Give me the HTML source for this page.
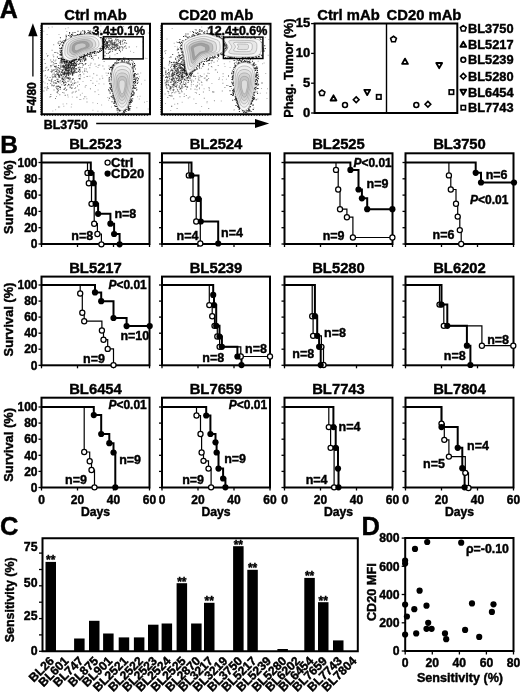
<!DOCTYPE html>
<html><head><meta charset="utf-8"><style>
html,body{margin:0;padding:0;background:#fff;}
svg{display:block;filter:blur(0.35px);}
text{font-family:"Liberation Sans", sans-serif;fill:#000;stroke:#000;stroke-width:0.42px;}
</style></head><body>
<svg width="520" height="692" viewBox="0 0 520 692">
<rect width="520" height="692" fill="#fff"/>
<text x="-0.30" y="17.90" font-size="25" text-anchor="start" font-weight="bold" >A</text>
<text x="0.20" y="152.70" font-size="24.5" text-anchor="start" font-weight="bold" >B</text>
<text x="0.00" y="535.20" font-size="25.5" text-anchor="start" font-weight="bold" >C</text>
<text x="361.50" y="535.20" font-size="25.5" text-anchor="start" font-weight="bold" >D</text>
<text x="95.50" y="148.80" font-size="14.8" text-anchor="middle" font-weight="bold" >BL2523</text>
<rect x="41.5" y="153.3" width="108.0" height="90.7" fill="none" stroke="#000" stroke-width="2.0"/>
<line x1="38.5" y1="244.0" x2="41.5" y2="244.0" stroke="#000" stroke-width="1.3"/>
<line x1="38.5" y1="227.7" x2="41.5" y2="227.7" stroke="#000" stroke-width="1.3"/>
<line x1="38.5" y1="211.4" x2="41.5" y2="211.4" stroke="#000" stroke-width="1.3"/>
<line x1="38.5" y1="195.1" x2="41.5" y2="195.1" stroke="#000" stroke-width="1.3"/>
<line x1="38.5" y1="178.8" x2="41.5" y2="178.8" stroke="#000" stroke-width="1.3"/>
<line x1="38.5" y1="162.5" x2="41.5" y2="162.5" stroke="#000" stroke-width="1.3"/>
<line x1="41.5" y1="244.0" x2="41.5" y2="247.0" stroke="#000" stroke-width="1.3"/>
<line x1="77.5" y1="244.0" x2="77.5" y2="247.0" stroke="#000" stroke-width="1.3"/>
<line x1="113.5" y1="244.0" x2="113.5" y2="247.0" stroke="#000" stroke-width="1.3"/>
<line x1="149.5" y1="244.0" x2="149.5" y2="247.0" stroke="#000" stroke-width="1.3"/>
<path d="M41.5,162.5 H87.5 V172.9 H88.8 V183.2 H91.5 V203.8 H94.2 V223.7 H97.4 V234.0 H101.4 V244.3" fill="none" stroke="#000" stroke-width="1.2"/>
<path d="M41.5,162.5 H90.8 V172.9 H93.6 V183.2 H95.6 V203.8 H98.1 V213.8 H110.4 V223.7 H114.1 V234.0 H119.6 V244.3" fill="none" stroke="#000" stroke-width="2.0"/>
<circle cx="87.5" cy="172.9" r="2.55" fill="#fff" stroke="#000" stroke-width="1.25"/>
<circle cx="88.8" cy="183.2" r="2.55" fill="#fff" stroke="#000" stroke-width="1.25"/>
<circle cx="91.5" cy="203.8" r="2.55" fill="#fff" stroke="#000" stroke-width="1.25"/>
<circle cx="94.2" cy="223.7" r="2.55" fill="#fff" stroke="#000" stroke-width="1.25"/>
<circle cx="97.4" cy="234.0" r="2.55" fill="#fff" stroke="#000" stroke-width="1.25"/>
<circle cx="101.4" cy="244.3" r="2.55" fill="#fff" stroke="#000" stroke-width="1.25"/>
<circle cx="90.8" cy="172.9" r="3.1" fill="#000"/>
<circle cx="93.6" cy="183.2" r="3.1" fill="#000"/>
<circle cx="95.6" cy="203.8" r="3.1" fill="#000"/>
<circle cx="98.1" cy="213.8" r="3.1" fill="#000"/>
<circle cx="110.4" cy="223.7" r="3.1" fill="#000"/>
<circle cx="114.1" cy="234.0" r="3.1" fill="#000"/>
<circle cx="119.6" cy="244.3" r="3.1" fill="#000"/>
<text x="114.40" y="217.50" font-size="12.5" text-anchor="start" font-weight="bold" >n=8</text>
<text x="71.30" y="240.00" font-size="12.5" text-anchor="start" font-weight="bold" >n=8</text>
<text x="37.50" y="248.20" font-size="12" text-anchor="end" font-weight="bold" >0</text>
<text x="37.50" y="231.90" font-size="12" text-anchor="end" font-weight="bold" >20</text>
<text x="37.50" y="215.60" font-size="12" text-anchor="end" font-weight="bold" >40</text>
<text x="37.50" y="199.30" font-size="12" text-anchor="end" font-weight="bold" >60</text>
<text x="37.50" y="183.00" font-size="12" text-anchor="end" font-weight="bold" >80</text>
<text x="37.50" y="166.70" font-size="12" text-anchor="end" font-weight="bold" >100</text>
<text x="0" y="0" font-size="12.9" font-weight="bold" text-anchor="middle" transform="translate(12.9,197.0) rotate(-90)">Survival (%)</text>
<text x="216.00" y="148.80" font-size="14.8" text-anchor="middle" font-weight="bold" >BL2524</text>
<rect x="162.0" y="153.3" width="108.0" height="90.7" fill="none" stroke="#000" stroke-width="2.0"/>
<line x1="159.0" y1="244.0" x2="162.0" y2="244.0" stroke="#000" stroke-width="1.3"/>
<line x1="159.0" y1="227.7" x2="162.0" y2="227.7" stroke="#000" stroke-width="1.3"/>
<line x1="159.0" y1="211.4" x2="162.0" y2="211.4" stroke="#000" stroke-width="1.3"/>
<line x1="159.0" y1="195.1" x2="162.0" y2="195.1" stroke="#000" stroke-width="1.3"/>
<line x1="159.0" y1="178.8" x2="162.0" y2="178.8" stroke="#000" stroke-width="1.3"/>
<line x1="159.0" y1="162.5" x2="162.0" y2="162.5" stroke="#000" stroke-width="1.3"/>
<line x1="162.0" y1="244.0" x2="162.0" y2="247.0" stroke="#000" stroke-width="1.3"/>
<line x1="198.0" y1="244.0" x2="198.0" y2="247.0" stroke="#000" stroke-width="1.3"/>
<line x1="234.0" y1="244.0" x2="234.0" y2="247.0" stroke="#000" stroke-width="1.3"/>
<line x1="270.0" y1="244.0" x2="270.0" y2="247.0" stroke="#000" stroke-width="1.3"/>
<path d="M162.0,162.5 H188.8 V175.4 H193.0 V198.9 H196.2 V221.5 H200.3 V243.5" fill="none" stroke="#000" stroke-width="1.2"/>
<path d="M162.0,162.5 H191.5 V175.4 H198.5 V198.9 H200.8 V221.5 H218.2 V243.5" fill="none" stroke="#000" stroke-width="2.0"/>
<circle cx="188.8" cy="175.4" r="2.55" fill="#fff" stroke="#000" stroke-width="1.25"/>
<circle cx="193.0" cy="198.9" r="2.55" fill="#fff" stroke="#000" stroke-width="1.25"/>
<circle cx="196.2" cy="221.5" r="2.55" fill="#fff" stroke="#000" stroke-width="1.25"/>
<circle cx="200.3" cy="243.5" r="2.55" fill="#fff" stroke="#000" stroke-width="1.25"/>
<circle cx="191.5" cy="175.4" r="3.1" fill="#000"/>
<circle cx="198.5" cy="198.9" r="3.1" fill="#000"/>
<circle cx="200.8" cy="221.5" r="3.1" fill="#000"/>
<circle cx="218.2" cy="243.5" r="3.1" fill="#000"/>
<text x="176.50" y="240.00" font-size="12.5" text-anchor="start" font-weight="bold" >n=4</text>
<text x="221.00" y="236.50" font-size="12.5" text-anchor="start" font-weight="bold" >n=4</text>
<text x="338.50" y="148.80" font-size="14.8" text-anchor="middle" font-weight="bold" >BL2525</text>
<rect x="284.5" y="153.3" width="108.0" height="90.7" fill="none" stroke="#000" stroke-width="2.0"/>
<line x1="281.5" y1="244.0" x2="284.5" y2="244.0" stroke="#000" stroke-width="1.3"/>
<line x1="281.5" y1="227.7" x2="284.5" y2="227.7" stroke="#000" stroke-width="1.3"/>
<line x1="281.5" y1="211.4" x2="284.5" y2="211.4" stroke="#000" stroke-width="1.3"/>
<line x1="281.5" y1="195.1" x2="284.5" y2="195.1" stroke="#000" stroke-width="1.3"/>
<line x1="281.5" y1="178.8" x2="284.5" y2="178.8" stroke="#000" stroke-width="1.3"/>
<line x1="281.5" y1="162.5" x2="284.5" y2="162.5" stroke="#000" stroke-width="1.3"/>
<line x1="284.5" y1="244.0" x2="284.5" y2="247.0" stroke="#000" stroke-width="1.3"/>
<line x1="320.5" y1="244.0" x2="320.5" y2="247.0" stroke="#000" stroke-width="1.3"/>
<line x1="356.5" y1="244.0" x2="356.5" y2="247.0" stroke="#000" stroke-width="1.3"/>
<line x1="392.5" y1="244.0" x2="392.5" y2="247.0" stroke="#000" stroke-width="1.3"/>
<path d="M284.5,162.5 H336.0 V169.9 H338.2 V189.5 H340.0 V209.2 H346.9 V217.2 H352.9 V237.5 H392.4" fill="none" stroke="#000" stroke-width="1.2"/>
<path d="M284.5,162.5 H350.4 V169.9 H358.5 V189.5 H361.9 V198.3 H367.2 V209.2 H392.4" fill="none" stroke="#000" stroke-width="2.0"/>
<circle cx="336.0" cy="169.9" r="2.55" fill="#fff" stroke="#000" stroke-width="1.25"/>
<circle cx="338.2" cy="189.5" r="2.55" fill="#fff" stroke="#000" stroke-width="1.25"/>
<circle cx="340.0" cy="209.2" r="2.55" fill="#fff" stroke="#000" stroke-width="1.25"/>
<circle cx="346.9" cy="217.2" r="2.55" fill="#fff" stroke="#000" stroke-width="1.25"/>
<circle cx="352.9" cy="237.5" r="2.55" fill="#fff" stroke="#000" stroke-width="1.25"/>
<circle cx="392.4" cy="237.5" r="2.55" fill="#fff" stroke="#000" stroke-width="1.25"/>
<circle cx="350.4" cy="169.9" r="3.1" fill="#000"/>
<circle cx="358.5" cy="189.5" r="3.1" fill="#000"/>
<circle cx="361.9" cy="198.3" r="3.1" fill="#000"/>
<circle cx="367.2" cy="209.2" r="3.1" fill="#000"/>
<circle cx="392.4" cy="209.2" r="3.1" fill="#000"/>
<text x="366.50" y="187.50" font-size="12.5" text-anchor="start" font-weight="bold" >n=9</text>
<text x="322.70" y="240.00" font-size="12.5" text-anchor="start" font-weight="bold" >n=9</text>
<text x="353.4" y="166.5" font-size="12" font-weight="bold"><tspan font-style="italic">P</tspan>&lt;0.01</text>
<text x="459.50" y="148.80" font-size="14.8" text-anchor="middle" font-weight="bold" >BL3750</text>
<rect x="405.5" y="153.3" width="108.0" height="90.7" fill="none" stroke="#000" stroke-width="2.0"/>
<line x1="402.5" y1="244.0" x2="405.5" y2="244.0" stroke="#000" stroke-width="1.3"/>
<line x1="402.5" y1="227.7" x2="405.5" y2="227.7" stroke="#000" stroke-width="1.3"/>
<line x1="402.5" y1="211.4" x2="405.5" y2="211.4" stroke="#000" stroke-width="1.3"/>
<line x1="402.5" y1="195.1" x2="405.5" y2="195.1" stroke="#000" stroke-width="1.3"/>
<line x1="402.5" y1="178.8" x2="405.5" y2="178.8" stroke="#000" stroke-width="1.3"/>
<line x1="402.5" y1="162.5" x2="405.5" y2="162.5" stroke="#000" stroke-width="1.3"/>
<line x1="405.5" y1="244.0" x2="405.5" y2="247.0" stroke="#000" stroke-width="1.3"/>
<line x1="441.5" y1="244.0" x2="441.5" y2="247.0" stroke="#000" stroke-width="1.3"/>
<line x1="477.5" y1="244.0" x2="477.5" y2="247.0" stroke="#000" stroke-width="1.3"/>
<line x1="513.5" y1="244.0" x2="513.5" y2="247.0" stroke="#000" stroke-width="1.3"/>
<path d="M405.5,162.5 H448.9 V175.4 H450.8 V189.5 H456.0 V203.7 H457.7 V216.6 H459.8 V230.1 H461.2 V244.0" fill="none" stroke="#000" stroke-width="1.2"/>
<path d="M405.5,162.5 H475.7 V172.8 H481.0 V182.5 H514.0" fill="none" stroke="#000" stroke-width="2.0"/>
<circle cx="448.9" cy="175.4" r="2.55" fill="#fff" stroke="#000" stroke-width="1.25"/>
<circle cx="450.8" cy="189.5" r="2.55" fill="#fff" stroke="#000" stroke-width="1.25"/>
<circle cx="456.0" cy="203.7" r="2.55" fill="#fff" stroke="#000" stroke-width="1.25"/>
<circle cx="457.7" cy="216.6" r="2.55" fill="#fff" stroke="#000" stroke-width="1.25"/>
<circle cx="459.8" cy="230.1" r="2.55" fill="#fff" stroke="#000" stroke-width="1.25"/>
<circle cx="461.2" cy="244.0" r="2.55" fill="#fff" stroke="#000" stroke-width="1.25"/>
<circle cx="475.7" cy="172.8" r="3.1" fill="#000"/>
<circle cx="481.0" cy="182.5" r="3.1" fill="#000"/>
<circle cx="514.0" cy="182.5" r="3.1" fill="#000"/>
<text x="485.70" y="178.50" font-size="12.5" text-anchor="start" font-weight="bold" >n=6</text>
<text x="432.60" y="239.00" font-size="12.5" text-anchor="start" font-weight="bold" >n=6</text>
<text x="470.0" y="203.5" font-size="12" font-weight="bold"><tspan font-style="italic">P</tspan>&lt;0.01</text>
<text x="95.50" y="272.50" font-size="14.8" text-anchor="middle" font-weight="bold" >BL5217</text>
<rect x="41.5" y="276.6" width="108.0" height="88.7" fill="none" stroke="#000" stroke-width="2.0"/>
<line x1="38.5" y1="365.3" x2="41.5" y2="365.3" stroke="#000" stroke-width="1.3"/>
<line x1="38.5" y1="349.2" x2="41.5" y2="349.2" stroke="#000" stroke-width="1.3"/>
<line x1="38.5" y1="333.2" x2="41.5" y2="333.2" stroke="#000" stroke-width="1.3"/>
<line x1="38.5" y1="317.1" x2="41.5" y2="317.1" stroke="#000" stroke-width="1.3"/>
<line x1="38.5" y1="301.1" x2="41.5" y2="301.1" stroke="#000" stroke-width="1.3"/>
<line x1="38.5" y1="285.0" x2="41.5" y2="285.0" stroke="#000" stroke-width="1.3"/>
<line x1="41.5" y1="365.3" x2="41.5" y2="368.3" stroke="#000" stroke-width="1.3"/>
<line x1="77.5" y1="365.3" x2="77.5" y2="368.3" stroke="#000" stroke-width="1.3"/>
<line x1="113.5" y1="365.3" x2="113.5" y2="368.3" stroke="#000" stroke-width="1.3"/>
<line x1="149.5" y1="365.3" x2="149.5" y2="368.3" stroke="#000" stroke-width="1.3"/>
<path d="M41.5,285.0 H80.2 V293.5 H82.3 V312.7 H84.2 V321.2 H101.9 V330.5 H103.5 V339.7 H107.7 V348.9 H113.5 V365.1" fill="none" stroke="#000" stroke-width="1.2"/>
<path d="M41.5,285.0 H95.0 V292.4 H101.2 V301.2 H113.5 V318.0 H126.6 V326.1 H149.7" fill="none" stroke="#000" stroke-width="2.0"/>
<circle cx="80.2" cy="293.5" r="2.55" fill="#fff" stroke="#000" stroke-width="1.25"/>
<circle cx="82.3" cy="312.7" r="2.55" fill="#fff" stroke="#000" stroke-width="1.25"/>
<circle cx="84.2" cy="321.2" r="2.55" fill="#fff" stroke="#000" stroke-width="1.25"/>
<circle cx="101.9" cy="330.5" r="2.55" fill="#fff" stroke="#000" stroke-width="1.25"/>
<circle cx="103.5" cy="339.7" r="2.55" fill="#fff" stroke="#000" stroke-width="1.25"/>
<circle cx="107.7" cy="348.9" r="2.55" fill="#fff" stroke="#000" stroke-width="1.25"/>
<circle cx="113.5" cy="365.1" r="2.55" fill="#fff" stroke="#000" stroke-width="1.25"/>
<circle cx="95.0" cy="292.4" r="3.1" fill="#000"/>
<circle cx="101.2" cy="301.2" r="3.1" fill="#000"/>
<circle cx="113.5" cy="318.0" r="3.1" fill="#000"/>
<circle cx="126.6" cy="326.1" r="3.1" fill="#000"/>
<circle cx="149.7" cy="326.1" r="3.1" fill="#000"/>
<text x="120.40" y="340.00" font-size="12.5" text-anchor="start" font-weight="bold" >n=10</text>
<text x="83.00" y="363.00" font-size="12.5" text-anchor="start" font-weight="bold" >n=9</text>
<text x="108.4" y="288.5" font-size="12" font-weight="bold"><tspan font-style="italic">P</tspan>&lt;0.01</text>
<text x="37.50" y="369.50" font-size="12" text-anchor="end" font-weight="bold" >0</text>
<text x="37.50" y="353.44" font-size="12" text-anchor="end" font-weight="bold" >20</text>
<text x="37.50" y="337.38" font-size="12" text-anchor="end" font-weight="bold" >40</text>
<text x="37.50" y="321.32" font-size="12" text-anchor="end" font-weight="bold" >60</text>
<text x="37.50" y="305.26" font-size="12" text-anchor="end" font-weight="bold" >80</text>
<text x="37.50" y="289.20" font-size="12" text-anchor="end" font-weight="bold" >100</text>
<text x="0" y="0" font-size="12.9" font-weight="bold" text-anchor="middle" transform="translate(12.9,319.5) rotate(-90)">Survival (%)</text>
<text x="216.00" y="272.50" font-size="14.8" text-anchor="middle" font-weight="bold" >BL5239</text>
<rect x="162.0" y="276.6" width="108.0" height="88.7" fill="none" stroke="#000" stroke-width="2.0"/>
<line x1="159.0" y1="365.3" x2="162.0" y2="365.3" stroke="#000" stroke-width="1.3"/>
<line x1="159.0" y1="349.2" x2="162.0" y2="349.2" stroke="#000" stroke-width="1.3"/>
<line x1="159.0" y1="333.2" x2="162.0" y2="333.2" stroke="#000" stroke-width="1.3"/>
<line x1="159.0" y1="317.1" x2="162.0" y2="317.1" stroke="#000" stroke-width="1.3"/>
<line x1="159.0" y1="301.1" x2="162.0" y2="301.1" stroke="#000" stroke-width="1.3"/>
<line x1="159.0" y1="285.0" x2="162.0" y2="285.0" stroke="#000" stroke-width="1.3"/>
<line x1="162.0" y1="365.3" x2="162.0" y2="368.3" stroke="#000" stroke-width="1.3"/>
<line x1="198.0" y1="365.3" x2="198.0" y2="368.3" stroke="#000" stroke-width="1.3"/>
<line x1="234.0" y1="365.3" x2="234.0" y2="368.3" stroke="#000" stroke-width="1.3"/>
<line x1="270.0" y1="365.3" x2="270.0" y2="368.3" stroke="#000" stroke-width="1.3"/>
<path d="M162.0,285.0 H209.3 V305.1 H212.2 V316.2 H214.5 V325.8 H217.3 V336.5 H219.6 V346.8 H240.8 V356.5 H270.0" fill="none" stroke="#000" stroke-width="1.2"/>
<path d="M162.0,285.0 H213.2 V294.9 H214.0 V305.1 H216.2 V325.8 H219.5 V336.5 H221.9 V346.8 H237.4 V356.5 H241.5 V365.1" fill="none" stroke="#000" stroke-width="2.0"/>
<circle cx="209.3" cy="305.1" r="2.55" fill="#fff" stroke="#000" stroke-width="1.25"/>
<circle cx="212.2" cy="316.2" r="2.55" fill="#fff" stroke="#000" stroke-width="1.25"/>
<circle cx="214.5" cy="325.8" r="2.55" fill="#fff" stroke="#000" stroke-width="1.25"/>
<circle cx="217.3" cy="336.5" r="2.55" fill="#fff" stroke="#000" stroke-width="1.25"/>
<circle cx="219.6" cy="346.8" r="2.55" fill="#fff" stroke="#000" stroke-width="1.25"/>
<circle cx="240.8" cy="356.5" r="2.55" fill="#fff" stroke="#000" stroke-width="1.25"/>
<circle cx="270.0" cy="356.5" r="2.55" fill="#fff" stroke="#000" stroke-width="1.25"/>
<circle cx="213.2" cy="294.9" r="3.1" fill="#000"/>
<circle cx="214.0" cy="305.1" r="3.1" fill="#000"/>
<circle cx="216.2" cy="325.8" r="3.1" fill="#000"/>
<circle cx="219.5" cy="336.5" r="3.1" fill="#000"/>
<circle cx="221.9" cy="346.8" r="3.1" fill="#000"/>
<circle cx="237.4" cy="356.5" r="3.1" fill="#000"/>
<circle cx="241.5" cy="365.1" r="3.1" fill="#000"/>
<text x="245.00" y="352.50" font-size="12.5" text-anchor="start" font-weight="bold" >n=8</text>
<text x="202.30" y="362.00" font-size="12.5" text-anchor="start" font-weight="bold" >n=8</text>
<text x="338.50" y="272.50" font-size="14.8" text-anchor="middle" font-weight="bold" >BL5280</text>
<rect x="284.5" y="276.6" width="108.0" height="88.7" fill="none" stroke="#000" stroke-width="2.0"/>
<line x1="281.5" y1="365.3" x2="284.5" y2="365.3" stroke="#000" stroke-width="1.3"/>
<line x1="281.5" y1="349.2" x2="284.5" y2="349.2" stroke="#000" stroke-width="1.3"/>
<line x1="281.5" y1="333.2" x2="284.5" y2="333.2" stroke="#000" stroke-width="1.3"/>
<line x1="281.5" y1="317.1" x2="284.5" y2="317.1" stroke="#000" stroke-width="1.3"/>
<line x1="281.5" y1="301.1" x2="284.5" y2="301.1" stroke="#000" stroke-width="1.3"/>
<line x1="281.5" y1="285.0" x2="284.5" y2="285.0" stroke="#000" stroke-width="1.3"/>
<line x1="284.5" y1="365.3" x2="284.5" y2="368.3" stroke="#000" stroke-width="1.3"/>
<line x1="320.5" y1="365.3" x2="320.5" y2="368.3" stroke="#000" stroke-width="1.3"/>
<line x1="356.5" y1="365.3" x2="356.5" y2="368.3" stroke="#000" stroke-width="1.3"/>
<line x1="392.5" y1="365.3" x2="392.5" y2="368.3" stroke="#000" stroke-width="1.3"/>
<path d="M284.5,285.0 H312.2 V316.2 H313.1 V335.8 H321.4 V346.8 H323.5 V365.0" fill="none" stroke="#000" stroke-width="1.2"/>
<path d="M284.5,285.0 H314.9 V316.2 H317.2 V335.8 H319.1 V346.8 H320.7 V365.0" fill="none" stroke="#000" stroke-width="2.0"/>
<circle cx="312.2" cy="316.2" r="2.55" fill="#fff" stroke="#000" stroke-width="1.25"/>
<circle cx="313.1" cy="335.8" r="2.55" fill="#fff" stroke="#000" stroke-width="1.25"/>
<circle cx="321.4" cy="346.8" r="2.55" fill="#fff" stroke="#000" stroke-width="1.25"/>
<circle cx="323.5" cy="365.0" r="2.55" fill="#fff" stroke="#000" stroke-width="1.25"/>
<circle cx="314.9" cy="316.2" r="3.1" fill="#000"/>
<circle cx="317.2" cy="335.8" r="3.1" fill="#000"/>
<circle cx="319.1" cy="346.8" r="3.1" fill="#000"/>
<circle cx="320.7" cy="365.0" r="3.1" fill="#000"/>
<text x="324.00" y="336.50" font-size="12.5" text-anchor="start" font-weight="bold" >n=8</text>
<text x="292.30" y="357.50" font-size="12.5" text-anchor="start" font-weight="bold" >n=8</text>
<text x="459.50" y="272.50" font-size="14.8" text-anchor="middle" font-weight="bold" >BL6202</text>
<rect x="405.5" y="276.6" width="108.0" height="88.7" fill="none" stroke="#000" stroke-width="2.0"/>
<line x1="402.5" y1="365.3" x2="405.5" y2="365.3" stroke="#000" stroke-width="1.3"/>
<line x1="402.5" y1="349.2" x2="405.5" y2="349.2" stroke="#000" stroke-width="1.3"/>
<line x1="402.5" y1="333.2" x2="405.5" y2="333.2" stroke="#000" stroke-width="1.3"/>
<line x1="402.5" y1="317.1" x2="405.5" y2="317.1" stroke="#000" stroke-width="1.3"/>
<line x1="402.5" y1="301.1" x2="405.5" y2="301.1" stroke="#000" stroke-width="1.3"/>
<line x1="402.5" y1="285.0" x2="405.5" y2="285.0" stroke="#000" stroke-width="1.3"/>
<line x1="405.5" y1="365.3" x2="405.5" y2="368.3" stroke="#000" stroke-width="1.3"/>
<line x1="441.5" y1="365.3" x2="441.5" y2="368.3" stroke="#000" stroke-width="1.3"/>
<line x1="477.5" y1="365.3" x2="477.5" y2="368.3" stroke="#000" stroke-width="1.3"/>
<line x1="513.5" y1="365.3" x2="513.5" y2="368.3" stroke="#000" stroke-width="1.3"/>
<path d="M405.5,285.0 H439.5 V304.6 H443.8 V325.8 H481.9 V345.7 H513.3" fill="none" stroke="#000" stroke-width="1.2"/>
<path d="M405.5,285.0 H441.5 V304.6 H447.3 V325.8 H466.9 V345.7 H470.4 V365.0" fill="none" stroke="#000" stroke-width="2.0"/>
<circle cx="439.5" cy="304.6" r="2.55" fill="#fff" stroke="#000" stroke-width="1.25"/>
<circle cx="443.8" cy="325.8" r="2.55" fill="#fff" stroke="#000" stroke-width="1.25"/>
<circle cx="481.9" cy="345.7" r="2.55" fill="#fff" stroke="#000" stroke-width="1.25"/>
<circle cx="513.3" cy="345.7" r="2.55" fill="#fff" stroke="#000" stroke-width="1.25"/>
<circle cx="441.5" cy="304.6" r="3.1" fill="#000"/>
<circle cx="447.3" cy="325.8" r="3.1" fill="#000"/>
<circle cx="466.9" cy="345.7" r="3.1" fill="#000"/>
<circle cx="470.4" cy="365.0" r="3.1" fill="#000"/>
<text x="487.20" y="344.00" font-size="12.5" text-anchor="start" font-weight="bold" >n=8</text>
<text x="443.80" y="360.00" font-size="12.5" text-anchor="start" font-weight="bold" >n=8</text>
<text x="95.50" y="393.80" font-size="14.8" text-anchor="middle" font-weight="bold" >BL6454</text>
<rect x="41.5" y="397.7" width="108.0" height="89.8" fill="none" stroke="#000" stroke-width="2.0"/>
<line x1="38.5" y1="487.5" x2="41.5" y2="487.5" stroke="#000" stroke-width="1.3"/>
<line x1="38.5" y1="471.4" x2="41.5" y2="471.4" stroke="#000" stroke-width="1.3"/>
<line x1="38.5" y1="455.3" x2="41.5" y2="455.3" stroke="#000" stroke-width="1.3"/>
<line x1="38.5" y1="439.2" x2="41.5" y2="439.2" stroke="#000" stroke-width="1.3"/>
<line x1="38.5" y1="423.1" x2="41.5" y2="423.1" stroke="#000" stroke-width="1.3"/>
<line x1="38.5" y1="407.0" x2="41.5" y2="407.0" stroke="#000" stroke-width="1.3"/>
<line x1="41.5" y1="487.5" x2="41.5" y2="490.5" stroke="#000" stroke-width="1.3"/>
<line x1="77.5" y1="487.5" x2="77.5" y2="490.5" stroke="#000" stroke-width="1.3"/>
<line x1="113.5" y1="487.5" x2="113.5" y2="490.5" stroke="#000" stroke-width="1.3"/>
<line x1="149.5" y1="487.5" x2="149.5" y2="490.5" stroke="#000" stroke-width="1.3"/>
<path d="M41.5,407.0 H84.2 V452.0 H89.7 V461.2 H91.5 V470.0 H94.5 V487.3" fill="none" stroke="#000" stroke-width="1.2"/>
<path d="M41.5,407.0 H93.8 V415.1 H101.2 V434.0 H109.3 V443.2 H113.5 V452.5 H115.3 V487.3" fill="none" stroke="#000" stroke-width="2.0"/>
<circle cx="84.2" cy="452.0" r="2.55" fill="#fff" stroke="#000" stroke-width="1.25"/>
<circle cx="89.7" cy="461.2" r="2.55" fill="#fff" stroke="#000" stroke-width="1.25"/>
<circle cx="91.5" cy="470.0" r="2.55" fill="#fff" stroke="#000" stroke-width="1.25"/>
<circle cx="94.5" cy="487.3" r="2.55" fill="#fff" stroke="#000" stroke-width="1.25"/>
<circle cx="93.8" cy="415.1" r="3.1" fill="#000"/>
<circle cx="101.2" cy="434.0" r="3.1" fill="#000"/>
<circle cx="109.3" cy="443.2" r="3.1" fill="#000"/>
<circle cx="113.5" cy="452.5" r="3.1" fill="#000"/>
<circle cx="115.3" cy="487.3" r="3.1" fill="#000"/>
<text x="119.20" y="463.50" font-size="12.5" text-anchor="start" font-weight="bold" >n=9</text>
<text x="65.00" y="483.50" font-size="12.5" text-anchor="start" font-weight="bold" >n=9</text>
<text x="108.4" y="409.0" font-size="12" font-weight="bold"><tspan font-style="italic">P</tspan>&lt;0.01</text>
<text x="37.50" y="491.70" font-size="12" text-anchor="end" font-weight="bold" >0</text>
<text x="37.50" y="475.60" font-size="12" text-anchor="end" font-weight="bold" >20</text>
<text x="37.50" y="459.50" font-size="12" text-anchor="end" font-weight="bold" >40</text>
<text x="37.50" y="443.40" font-size="12" text-anchor="end" font-weight="bold" >60</text>
<text x="37.50" y="427.30" font-size="12" text-anchor="end" font-weight="bold" >80</text>
<text x="37.50" y="411.20" font-size="12" text-anchor="end" font-weight="bold" >100</text>
<text x="0" y="0" font-size="12.9" font-weight="bold" text-anchor="middle" transform="translate(12.9,444.9) rotate(-90)">Survival (%)</text>
<text x="41.50" y="503.80" font-size="12" text-anchor="middle" font-weight="bold" >0</text>
<text x="77.50" y="503.80" font-size="12" text-anchor="middle" font-weight="bold" >20</text>
<text x="113.50" y="503.80" font-size="12" text-anchor="middle" font-weight="bold" >40</text>
<text x="149.50" y="503.80" font-size="12" text-anchor="middle" font-weight="bold" >60</text>
<text x="95.50" y="516.20" font-size="12.2" text-anchor="middle" font-weight="bold" >Days</text>
<text x="216.00" y="393.80" font-size="14.8" text-anchor="middle" font-weight="bold" >BL7659</text>
<rect x="162.0" y="397.7" width="108.0" height="89.8" fill="none" stroke="#000" stroke-width="2.0"/>
<line x1="159.0" y1="487.5" x2="162.0" y2="487.5" stroke="#000" stroke-width="1.3"/>
<line x1="159.0" y1="471.4" x2="162.0" y2="471.4" stroke="#000" stroke-width="1.3"/>
<line x1="159.0" y1="455.3" x2="162.0" y2="455.3" stroke="#000" stroke-width="1.3"/>
<line x1="159.0" y1="439.2" x2="162.0" y2="439.2" stroke="#000" stroke-width="1.3"/>
<line x1="159.0" y1="423.1" x2="162.0" y2="423.1" stroke="#000" stroke-width="1.3"/>
<line x1="159.0" y1="407.0" x2="162.0" y2="407.0" stroke="#000" stroke-width="1.3"/>
<line x1="162.0" y1="487.5" x2="162.0" y2="490.5" stroke="#000" stroke-width="1.3"/>
<line x1="198.0" y1="487.5" x2="198.0" y2="490.5" stroke="#000" stroke-width="1.3"/>
<line x1="234.0" y1="487.5" x2="234.0" y2="490.5" stroke="#000" stroke-width="1.3"/>
<line x1="270.0" y1="487.5" x2="270.0" y2="490.5" stroke="#000" stroke-width="1.3"/>
<path d="M162.0,407.0 H196.5 V415.5 H200.5 V434.0 H201.6 V452.5 H203.5 V460.8 H208.5 V468.6 H211.1 V487.3" fill="none" stroke="#000" stroke-width="1.2"/>
<path d="M162.0,407.0 H206.2 V415.5 H210.4 V434.0 H215.5 V442.3 H216.6 V452.5 H218.5 V468.6 H223.1 V478.5 H225.4 V487.3" fill="none" stroke="#000" stroke-width="2.0"/>
<circle cx="196.5" cy="415.5" r="2.55" fill="#fff" stroke="#000" stroke-width="1.25"/>
<circle cx="200.5" cy="434.0" r="2.55" fill="#fff" stroke="#000" stroke-width="1.25"/>
<circle cx="201.6" cy="452.5" r="2.55" fill="#fff" stroke="#000" stroke-width="1.25"/>
<circle cx="203.5" cy="460.8" r="2.55" fill="#fff" stroke="#000" stroke-width="1.25"/>
<circle cx="208.5" cy="468.6" r="2.55" fill="#fff" stroke="#000" stroke-width="1.25"/>
<circle cx="211.1" cy="487.3" r="2.55" fill="#fff" stroke="#000" stroke-width="1.25"/>
<circle cx="206.2" cy="415.5" r="3.1" fill="#000"/>
<circle cx="210.4" cy="434.0" r="3.1" fill="#000"/>
<circle cx="215.5" cy="442.3" r="3.1" fill="#000"/>
<circle cx="216.6" cy="452.5" r="3.1" fill="#000"/>
<circle cx="218.5" cy="468.6" r="3.1" fill="#000"/>
<circle cx="223.1" cy="478.5" r="3.1" fill="#000"/>
<circle cx="225.4" cy="487.3" r="3.1" fill="#000"/>
<text x="224.20" y="463.00" font-size="12.5" text-anchor="start" font-weight="bold" >n=9</text>
<text x="182.20" y="483.50" font-size="12.5" text-anchor="start" font-weight="bold" >n=9</text>
<text x="228.8" y="409.0" font-size="12" font-weight="bold"><tspan font-style="italic">P</tspan>&lt;0.01</text>
<text x="162.00" y="503.80" font-size="12" text-anchor="middle" font-weight="bold" >0</text>
<text x="198.00" y="503.80" font-size="12" text-anchor="middle" font-weight="bold" >20</text>
<text x="234.00" y="503.80" font-size="12" text-anchor="middle" font-weight="bold" >40</text>
<text x="270.00" y="503.80" font-size="12" text-anchor="middle" font-weight="bold" >60</text>
<text x="216.00" y="516.20" font-size="12.2" text-anchor="middle" font-weight="bold" >Days</text>
<text x="338.50" y="393.80" font-size="14.8" text-anchor="middle" font-weight="bold" >BL7743</text>
<rect x="284.5" y="397.7" width="108.0" height="89.8" fill="none" stroke="#000" stroke-width="2.0"/>
<line x1="281.5" y1="487.5" x2="284.5" y2="487.5" stroke="#000" stroke-width="1.3"/>
<line x1="281.5" y1="471.4" x2="284.5" y2="471.4" stroke="#000" stroke-width="1.3"/>
<line x1="281.5" y1="455.3" x2="284.5" y2="455.3" stroke="#000" stroke-width="1.3"/>
<line x1="281.5" y1="439.2" x2="284.5" y2="439.2" stroke="#000" stroke-width="1.3"/>
<line x1="281.5" y1="423.1" x2="284.5" y2="423.1" stroke="#000" stroke-width="1.3"/>
<line x1="281.5" y1="407.0" x2="284.5" y2="407.0" stroke="#000" stroke-width="1.3"/>
<line x1="284.5" y1="487.5" x2="284.5" y2="490.5" stroke="#000" stroke-width="1.3"/>
<line x1="320.5" y1="487.5" x2="320.5" y2="490.5" stroke="#000" stroke-width="1.3"/>
<line x1="356.5" y1="487.5" x2="356.5" y2="490.5" stroke="#000" stroke-width="1.3"/>
<line x1="392.5" y1="487.5" x2="392.5" y2="490.5" stroke="#000" stroke-width="1.3"/>
<path d="M284.5,407.0 H328.8 V427.1 H330.6 V447.8 H334.1 V487.3" fill="none" stroke="#000" stroke-width="1.2"/>
<path d="M284.5,407.0 H333.4 V427.1 H335.7 V447.8 H338.0 V468.6 H338.5 V487.3" fill="none" stroke="#000" stroke-width="2.0"/>
<circle cx="328.8" cy="427.1" r="2.55" fill="#fff" stroke="#000" stroke-width="1.25"/>
<circle cx="330.6" cy="447.8" r="2.55" fill="#fff" stroke="#000" stroke-width="1.25"/>
<circle cx="334.1" cy="487.3" r="2.55" fill="#fff" stroke="#000" stroke-width="1.25"/>
<circle cx="333.4" cy="427.1" r="3.1" fill="#000"/>
<circle cx="335.7" cy="447.8" r="3.1" fill="#000"/>
<circle cx="338.0" cy="468.6" r="3.1" fill="#000"/>
<circle cx="338.5" cy="487.3" r="3.1" fill="#000"/>
<text x="338.50" y="431.00" font-size="12.5" text-anchor="start" font-weight="bold" >n=4</text>
<text x="305.70" y="483.50" font-size="12.5" text-anchor="start" font-weight="bold" >n=4</text>
<text x="284.50" y="503.80" font-size="12" text-anchor="middle" font-weight="bold" >0</text>
<text x="320.50" y="503.80" font-size="12" text-anchor="middle" font-weight="bold" >20</text>
<text x="356.50" y="503.80" font-size="12" text-anchor="middle" font-weight="bold" >40</text>
<text x="392.50" y="503.80" font-size="12" text-anchor="middle" font-weight="bold" >60</text>
<text x="338.50" y="516.20" font-size="12.2" text-anchor="middle" font-weight="bold" >Days</text>
<text x="459.50" y="393.80" font-size="14.8" text-anchor="middle" font-weight="bold" >BL7804</text>
<rect x="405.5" y="397.7" width="108.0" height="89.8" fill="none" stroke="#000" stroke-width="2.0"/>
<line x1="402.5" y1="487.5" x2="405.5" y2="487.5" stroke="#000" stroke-width="1.3"/>
<line x1="402.5" y1="471.4" x2="405.5" y2="471.4" stroke="#000" stroke-width="1.3"/>
<line x1="402.5" y1="455.3" x2="405.5" y2="455.3" stroke="#000" stroke-width="1.3"/>
<line x1="402.5" y1="439.2" x2="405.5" y2="439.2" stroke="#000" stroke-width="1.3"/>
<line x1="402.5" y1="423.1" x2="405.5" y2="423.1" stroke="#000" stroke-width="1.3"/>
<line x1="402.5" y1="407.0" x2="405.5" y2="407.0" stroke="#000" stroke-width="1.3"/>
<line x1="405.5" y1="487.5" x2="405.5" y2="490.5" stroke="#000" stroke-width="1.3"/>
<line x1="441.5" y1="487.5" x2="441.5" y2="490.5" stroke="#000" stroke-width="1.3"/>
<line x1="477.5" y1="487.5" x2="477.5" y2="490.5" stroke="#000" stroke-width="1.3"/>
<line x1="513.5" y1="487.5" x2="513.5" y2="490.5" stroke="#000" stroke-width="1.3"/>
<path d="M405.5,407.0 H441.5 V423.6 H444.3 V439.8 H448.9 V456.6 H465.3 V472.8 H468.5 V488.0" fill="none" stroke="#000" stroke-width="1.2"/>
<path d="M405.5,407.0 H441.5 V427.1 H457.7 V447.8 H462.3 V468.2 H464.6 V487.3" fill="none" stroke="#000" stroke-width="2.0"/>
<circle cx="441.5" cy="423.6" r="2.55" fill="#fff" stroke="#000" stroke-width="1.25"/>
<circle cx="444.3" cy="439.8" r="2.55" fill="#fff" stroke="#000" stroke-width="1.25"/>
<circle cx="448.9" cy="456.6" r="2.55" fill="#fff" stroke="#000" stroke-width="1.25"/>
<circle cx="465.3" cy="472.8" r="2.55" fill="#fff" stroke="#000" stroke-width="1.25"/>
<circle cx="468.5" cy="488.0" r="2.55" fill="#fff" stroke="#000" stroke-width="1.25"/>
<circle cx="441.5" cy="427.1" r="3.1" fill="#000"/>
<circle cx="457.7" cy="447.8" r="3.1" fill="#000"/>
<circle cx="462.3" cy="468.2" r="3.1" fill="#000"/>
<circle cx="464.6" cy="487.3" r="3.1" fill="#000"/>
<text x="467.00" y="449.50" font-size="12.5" text-anchor="start" font-weight="bold" >n=4</text>
<text x="423.00" y="468.00" font-size="12.5" text-anchor="start" font-weight="bold" >n=5</text>
<text x="405.50" y="503.80" font-size="12" text-anchor="middle" font-weight="bold" >0</text>
<text x="441.50" y="503.80" font-size="12" text-anchor="middle" font-weight="bold" >20</text>
<text x="477.50" y="503.80" font-size="12" text-anchor="middle" font-weight="bold" >40</text>
<text x="513.50" y="503.80" font-size="12" text-anchor="middle" font-weight="bold" >60</text>
<text x="459.50" y="516.20" font-size="12.2" text-anchor="middle" font-weight="bold" >Days</text>
<circle cx="107.6" cy="162.6" r="2.55" fill="#fff" stroke="#000" stroke-width="1.25"/>
<text x="111.00" y="167.00" font-size="13" text-anchor="start" font-weight="bold" >Ctrl</text>
<circle cx="107.6" cy="173.6" r="3.1" fill="#000"/>
<text x="111.00" y="178.00" font-size="13" text-anchor="start" font-weight="bold" >CD20</text>
<path d="M42.5,538.2 H357.8 V651.3 H42.5 Z" fill="none" stroke="#000" stroke-width="2.0"/>
<line x1="39.0" y1="651.3" x2="42.5" y2="651.3" stroke="#000" stroke-width="1.3"/>
<line x1="39.0" y1="634.9" x2="42.5" y2="634.9" stroke="#000" stroke-width="1.3"/>
<line x1="39.0" y1="618.6" x2="42.5" y2="618.6" stroke="#000" stroke-width="1.3"/>
<line x1="39.0" y1="602.2" x2="42.5" y2="602.2" stroke="#000" stroke-width="1.3"/>
<line x1="39.0" y1="585.8" x2="42.5" y2="585.8" stroke="#000" stroke-width="1.3"/>
<line x1="39.0" y1="569.5" x2="42.5" y2="569.5" stroke="#000" stroke-width="1.3"/>
<line x1="39.0" y1="553.1" x2="42.5" y2="553.1" stroke="#000" stroke-width="1.3"/>
<text x="37.50" y="551.00" font-size="12.3" text-anchor="end" font-weight="bold" >75</text>
<text x="37.50" y="587.20" font-size="12.3" text-anchor="end" font-weight="bold" >50</text>
<text x="37.50" y="620.00" font-size="12.3" text-anchor="end" font-weight="bold" >25</text>
<text x="37.50" y="655.00" font-size="12.3" text-anchor="end" font-weight="bold" >0</text>
<text x="0" y="0" font-size="12.4" font-weight="bold" text-anchor="middle" transform="translate(14.4,599.8) rotate(-90)">Sensitivity (%)</text>
<rect x="45.5" y="561.9" width="10.5" height="89.4" fill="#000"/>
<text x="50.75" y="564.30" font-size="12" text-anchor="middle" font-weight="bold" >**</text>
<text x="0" y="0" font-size="12.2" font-weight="bold" text-anchor="end" transform="translate(54.9,661.6) rotate(-45)">BL26</text>
<text x="0" y="0" font-size="12.2" font-weight="bold" text-anchor="end" transform="translate(69.3,661.6) rotate(-45)">BL601</text>
<rect x="74.1" y="638.5" width="10.5" height="12.8" fill="#000"/>
<text x="0" y="0" font-size="12.2" font-weight="bold" text-anchor="end" transform="translate(84.0,661.6) rotate(-45)">BL747</text>
<rect x="89.0" y="620.8" width="10.5" height="30.5" fill="#000"/>
<text x="0" y="0" font-size="12.2" font-weight="bold" text-anchor="end" transform="translate(99.0,661.6) rotate(-45)">BL875</text>
<rect x="103.1" y="633.5" width="10.5" height="17.8" fill="#000"/>
<text x="0" y="0" font-size="12.2" font-weight="bold" text-anchor="end" transform="translate(113.0,661.6) rotate(-45)">BL901</text>
<rect x="118.7" y="637.4" width="10.5" height="13.9" fill="#000"/>
<text x="0" y="0" font-size="12.2" font-weight="bold" text-anchor="end" transform="translate(128.7,661.6) rotate(-45)">BL2521</text>
<rect x="133.9" y="637.4" width="10.5" height="13.9" fill="#000"/>
<text x="0" y="0" font-size="12.2" font-weight="bold" text-anchor="end" transform="translate(143.8,661.6) rotate(-45)">BL2522</text>
<rect x="148.0" y="624.7" width="10.5" height="26.6" fill="#000"/>
<text x="0" y="0" font-size="12.2" font-weight="bold" text-anchor="end" transform="translate(157.9,661.6) rotate(-45)">BL2523</text>
<rect x="161.6" y="623.5" width="10.5" height="27.8" fill="#000"/>
<text x="0" y="0" font-size="12.2" font-weight="bold" text-anchor="end" transform="translate(171.5,661.6) rotate(-45)">BL2524</text>
<rect x="176.6" y="583.2" width="10.5" height="68.1" fill="#000"/>
<text x="181.85" y="585.60" font-size="12" text-anchor="middle" font-weight="bold" >**</text>
<text x="0" y="0" font-size="12.2" font-weight="bold" text-anchor="end" transform="translate(186.5,661.6) rotate(-45)">BL2525</text>
<rect x="191.1" y="623.5" width="10.5" height="27.8" fill="#000"/>
<text x="0" y="0" font-size="12.2" font-weight="bold" text-anchor="end" transform="translate(201.0,661.6) rotate(-45)">BL2870</text>
<rect x="204.0" y="602.8" width="10.5" height="48.5" fill="#000"/>
<text x="209.25" y="605.20" font-size="12" text-anchor="middle" font-weight="bold" >**</text>
<text x="0" y="0" font-size="12.2" font-weight="bold" text-anchor="end" transform="translate(213.9,661.6) rotate(-45)">BL3217</text>
<text x="0" y="0" font-size="12.2" font-weight="bold" text-anchor="end" transform="translate(228.4,661.6) rotate(-45)">BL3219</text>
<rect x="233.1" y="546.2" width="10.5" height="105.1" fill="#000"/>
<text x="238.35" y="548.60" font-size="12" text-anchor="middle" font-weight="bold" >**</text>
<text x="0" y="0" font-size="12.2" font-weight="bold" text-anchor="end" transform="translate(243.0,661.6) rotate(-45)">BL3750</text>
<rect x="247.3" y="569.8" width="10.5" height="81.5" fill="#000"/>
<text x="252.55" y="572.20" font-size="12" text-anchor="middle" font-weight="bold" >**</text>
<text x="0" y="0" font-size="12.2" font-weight="bold" text-anchor="end" transform="translate(257.2,661.6) rotate(-45)">BL5217</text>
<text x="0" y="0" font-size="12.2" font-weight="bold" text-anchor="end" transform="translate(271.9,661.6) rotate(-45)">BL5239</text>
<rect x="277.4" y="649.0" width="10.5" height="2.3" fill="#000"/>
<text x="0" y="0" font-size="12.2" font-weight="bold" text-anchor="end" transform="translate(287.3,661.6) rotate(-45)">BL5280</text>
<text x="0" y="0" font-size="12.2" font-weight="bold" text-anchor="end" transform="translate(300.9,661.6) rotate(-45)">BL6202</text>
<rect x="304.3" y="577.9" width="10.5" height="73.4" fill="#000"/>
<text x="309.55" y="580.30" font-size="12" text-anchor="middle" font-weight="bold" >**</text>
<text x="0" y="0" font-size="12.2" font-weight="bold" text-anchor="end" transform="translate(314.2,661.6) rotate(-45)">BL6454</text>
<rect x="318.0" y="602.2" width="10.5" height="49.1" fill="#000"/>
<text x="323.25" y="604.60" font-size="12" text-anchor="middle" font-weight="bold" >**</text>
<text x="0" y="0" font-size="12.2" font-weight="bold" text-anchor="end" transform="translate(327.9,661.6) rotate(-45)">BL7659</text>
<rect x="333.0" y="640.4" width="10.5" height="10.9" fill="#000"/>
<text x="0" y="0" font-size="12.2" font-weight="bold" text-anchor="end" transform="translate(342.9,661.6) rotate(-45)">BL7743</text>
<text x="0" y="0" font-size="12.2" font-weight="bold" text-anchor="end" transform="translate(357.4,661.6) rotate(-45)">BL7804</text>
<path d="M405.2,538.1 H513.5 V651.0 H405.2 Z" fill="none" stroke="#000" stroke-width="2.0"/>
<line x1="401.7" y1="651.0" x2="405.2" y2="651.0" stroke="#000" stroke-width="1.3"/>
<text x="399.50" y="655.30" font-size="12.2" text-anchor="end" font-weight="bold" >0</text>
<line x1="401.7" y1="622.8" x2="405.2" y2="622.8" stroke="#000" stroke-width="1.3"/>
<text x="399.50" y="627.07" font-size="12.2" text-anchor="end" font-weight="bold" >200</text>
<line x1="401.7" y1="594.5" x2="405.2" y2="594.5" stroke="#000" stroke-width="1.3"/>
<text x="399.50" y="598.85" font-size="12.2" text-anchor="end" font-weight="bold" >400</text>
<line x1="401.7" y1="566.3" x2="405.2" y2="566.3" stroke="#000" stroke-width="1.3"/>
<text x="399.50" y="570.62" font-size="12.2" text-anchor="end" font-weight="bold" >600</text>
<line x1="401.7" y1="538.1" x2="405.2" y2="538.1" stroke="#000" stroke-width="1.3"/>
<text x="399.50" y="542.40" font-size="12.2" text-anchor="end" font-weight="bold" >800</text>
<line x1="405.2" y1="651.0" x2="405.2" y2="654.5" stroke="#000" stroke-width="1.3"/>
<text x="405.20" y="667.30" font-size="12.2" text-anchor="middle" font-weight="bold" >0</text>
<line x1="432.3" y1="651.0" x2="432.3" y2="654.5" stroke="#000" stroke-width="1.3"/>
<text x="432.27" y="667.30" font-size="12.2" text-anchor="middle" font-weight="bold" >20</text>
<line x1="459.4" y1="651.0" x2="459.4" y2="654.5" stroke="#000" stroke-width="1.3"/>
<text x="459.35" y="667.30" font-size="12.2" text-anchor="middle" font-weight="bold" >40</text>
<line x1="486.4" y1="651.0" x2="486.4" y2="654.5" stroke="#000" stroke-width="1.3"/>
<text x="486.43" y="667.30" font-size="12.2" text-anchor="middle" font-weight="bold" >60</text>
<line x1="513.5" y1="651.0" x2="513.5" y2="654.5" stroke="#000" stroke-width="1.3"/>
<text x="513.50" y="667.30" font-size="12.2" text-anchor="middle" font-weight="bold" >80</text>
<text x="460.00" y="681.50" font-size="12.6" text-anchor="middle" font-weight="bold" >Sensitivity (%)</text>
<text x="0" y="0" font-size="12.7" font-weight="bold" text-anchor="middle" transform="translate(375.6,592.2) rotate(-90)">CD20 MFI</text>
<text x="466.00" y="552.80" font-size="12.3" text-anchor="start" font-weight="bold" >ρ=-0.10</text>
<circle cx="427.2" cy="542" r="3.1" fill="#000"/>
<circle cx="461.2" cy="542.7" r="3.1" fill="#000"/>
<circle cx="415" cy="548.9" r="3.1" fill="#000"/>
<circle cx="405.1" cy="560.5" r="3.1" fill="#000"/>
<circle cx="405.1" cy="563.5" r="3.1" fill="#000"/>
<circle cx="419.6" cy="590.7" r="3.1" fill="#000"/>
<circle cx="405.1" cy="604.5" r="3.1" fill="#000"/>
<circle cx="426.5" cy="605.7" r="3.1" fill="#000"/>
<circle cx="414.3" cy="609.2" r="3.1" fill="#000"/>
<circle cx="472" cy="603.4" r="3.1" fill="#000"/>
<circle cx="493.5" cy="604.3" r="3.1" fill="#000"/>
<circle cx="491.9" cy="611.9" r="3.1" fill="#000"/>
<circle cx="406.9" cy="616.5" r="3.1" fill="#000"/>
<circle cx="428.2" cy="622.8" r="3.1" fill="#000"/>
<circle cx="426.5" cy="628.8" r="3.1" fill="#000"/>
<circle cx="431.6" cy="628.8" r="3.1" fill="#000"/>
<circle cx="465.1" cy="629.9" r="3.1" fill="#000"/>
<circle cx="405.1" cy="634.5" r="3.1" fill="#000"/>
<circle cx="416.2" cy="633.4" r="3.1" fill="#000"/>
<circle cx="445" cy="633.4" r="3.1" fill="#000"/>
<circle cx="446.2" cy="639.2" r="3.1" fill="#000"/>
<circle cx="479.2" cy="636.9" r="3.1" fill="#000"/>
<path d="M314.6,23.6 H457.3 V113.0 H314.6 Z" fill="none" stroke="#000" stroke-width="2.0"/>
<line x1="386.5" y1="23.6" x2="386.5" y2="113.0" stroke="#000" stroke-width="1.4"/>
<line x1="311.1" y1="113.0" x2="314.6" y2="113.0" stroke="#000" stroke-width="1.3"/>
<text x="310.20" y="116.70" font-size="13" text-anchor="end" font-weight="bold" >0</text>
<line x1="311.1" y1="83.2" x2="314.6" y2="83.2" stroke="#000" stroke-width="1.3"/>
<text x="310.20" y="86.90" font-size="13" text-anchor="end" font-weight="bold" >5</text>
<line x1="311.1" y1="53.4" x2="314.6" y2="53.4" stroke="#000" stroke-width="1.3"/>
<text x="310.20" y="57.10" font-size="13" text-anchor="end" font-weight="bold" >10</text>
<line x1="311.1" y1="23.6" x2="314.6" y2="23.6" stroke="#000" stroke-width="1.3"/>
<text x="310.20" y="27.30" font-size="13" text-anchor="end" font-weight="bold" >15</text>
<text x="348.50" y="19.80" font-size="14.8" text-anchor="middle" font-weight="bold" >Ctrl mAb</text>
<text x="424.00" y="19.80" font-size="14.8" text-anchor="middle" font-weight="bold" >CD20 mAb</text>
<text x="0" y="0" font-size="12.6" font-weight="bold" text-anchor="middle" transform="translate(293.2,68.2) rotate(-90)">Phag. Tumor (%)</text>
<polygon points="322.00,90.05 324.90,92.16 323.79,95.57 320.21,95.57 319.10,92.16" fill="#fff" stroke="#000" stroke-width="1.6"/>
<polygon points="333.5,95.35 336.3975,100.53999999999999 330.6025,100.53999999999999" fill="#fff" stroke="#000" stroke-width="1.9" stroke-linejoin="round"/>
<circle cx="345" cy="105" r="2.4499999999999997" fill="#fff" stroke="#000" stroke-width="1.6"/>
<polygon points="356.2,96.85000000000001 359.05,99.7 356.2,102.55 353.34999999999997,99.7" fill="#fff" stroke="#000" stroke-width="1.6"/>
<polygon points="367.2,95.05 370.09749999999997,89.86 364.3025,89.86" fill="#fff" stroke="#000" stroke-width="1.9" stroke-linejoin="round"/>
<rect x="376.55" y="94.65" width="4.5" height="4.5" fill="#fff" stroke="#000" stroke-width="1.6"/>
<polygon points="393.50,36.25 396.40,38.36 395.29,41.77 391.71,41.77 390.60,38.36" fill="#fff" stroke="#000" stroke-width="1.6"/>
<polygon points="405,58.65 407.8975,63.839999999999996 402.1025,63.839999999999996" fill="#fff" stroke="#000" stroke-width="1.9" stroke-linejoin="round"/>
<circle cx="416.3" cy="105" r="2.4499999999999997" fill="#fff" stroke="#000" stroke-width="1.6"/>
<polygon points="427.9,101.35000000000001 430.75,104.2 427.9,107.05 425.04999999999995,104.2" fill="#fff" stroke="#000" stroke-width="1.6"/>
<polygon points="439.2,68.15 442.09749999999997,62.96000000000001 436.3025,62.96000000000001" fill="#fff" stroke="#000" stroke-width="1.9" stroke-linejoin="round"/>
<rect x="449.15" y="89.85" width="4.5" height="4.5" fill="#fff" stroke="#000" stroke-width="1.6"/>
<polygon points="463.30,25.60 466.15,27.67 465.06,31.03 461.54,31.03 460.45,27.67" fill="#fff" stroke="#000" stroke-width="1.6"/>
<text x="468.00" y="32.90" font-size="12.8" text-anchor="start" font-weight="bold" >BL3750</text>
<polygon points="463.3,41.699999999999996 466.15000000000003,46.8 460.45,46.8" fill="#fff" stroke="#000" stroke-width="1.9" stroke-linejoin="round"/>
<text x="468.00" y="49.00" font-size="12.8" text-anchor="start" font-weight="bold" >BL5217</text>
<circle cx="463.3" cy="59.8" r="2.4" fill="#fff" stroke="#000" stroke-width="1.6"/>
<text x="468.00" y="64.40" font-size="12.8" text-anchor="start" font-weight="bold" >BL5239</text>
<polygon points="463.3,73.4 466.1,76.2 463.3,79.0 460.5,76.2" fill="#fff" stroke="#000" stroke-width="1.6"/>
<text x="468.00" y="80.80" font-size="12.8" text-anchor="start" font-weight="bold" >BL5280</text>
<polygon points="463.3,94.8 466.15000000000003,89.69999999999999 460.45,89.69999999999999" fill="#fff" stroke="#000" stroke-width="1.9" stroke-linejoin="round"/>
<text x="468.00" y="96.70" font-size="12.8" text-anchor="start" font-weight="bold" >BL6454</text>
<rect x="461.1" y="105.5" width="4.4" height="4.4" fill="#fff" stroke="#000" stroke-width="1.6"/>
<text x="468.00" y="112.30" font-size="12.8" text-anchor="start" font-weight="bold" >BL7743</text>
<text x="95.50" y="20.00" font-size="14.8" text-anchor="middle" font-weight="bold" >Ctrl mAb</text>
<text x="216.00" y="20.00" font-size="14.8" text-anchor="middle" font-weight="bold" >CD20 mAb</text>
<text x="92.50" y="35.00" font-size="12.5" text-anchor="start" font-weight="bold" >3.4±0.1%</text>
<text x="207.70" y="34.50" font-size="12.5" text-anchor="start" font-weight="bold" >12.4±0.6%</text>
<line x1="32.9" y1="76.5" x2="32.9" y2="33" stroke="#000" stroke-width="1.3"/>
<polygon points="32.9,23.3 28.2,36.2 37.6,36.2" fill="#000"/>
<line x1="96.2" y1="123.5" x2="258" y2="123.5" stroke="#000" stroke-width="1.3"/>
<polygon points="269.2,123.5 255,119 255,128" fill="#000"/>
<text x="0" y="0" font-size="12" font-weight="bold" text-anchor="start" transform="translate(35.6,112.9) rotate(-90)">F4/80</text>
<text x="43.80" y="128.50" font-size="12.4" text-anchor="start" font-weight="bold" >BL3750</text>
<path d="M109.4,90.9h1.0v1.0h-1.0zM138.9,76.2h1.0v1.0h-1.0zM125.7,62.3h1.0v1.0h-1.0zM66.2,103.2h1.0v1.0h-1.0zM74.3,61.0h1.0v1.0h-1.0zM136.3,107.2h1.0v1.0h-1.0zM130.7,62.6h1.0v1.0h-1.0zM128.0,70.7h1.0v1.0h-1.0zM92.4,109.8h1.0v1.0h-1.0zM74.6,46.4h1.0v1.0h-1.0zM71.9,96.6h1.0v1.0h-1.0zM69.4,84.9h1.0v1.0h-1.0zM90.0,88.6h1.0v1.0h-1.0zM96.4,80.7h1.0v1.0h-1.0zM101.7,111.6h1.0v1.0h-1.0zM127.6,59.7h1.0v1.0h-1.0zM109.1,42.1h1.0v1.0h-1.0zM65.1,43.0h1.0v1.0h-1.0zM59.1,106.5h1.0v1.0h-1.0zM108.1,99.7h1.0v1.0h-1.0zM46.6,33.9h1.0v1.0h-1.0zM45.7,78.3h1.0v1.0h-1.0zM97.5,67.1h1.0v1.0h-1.0zM92.2,77.5h1.0v1.0h-1.0zM141.0,83.4h1.0v1.0h-1.0zM109.9,51.5h1.0v1.0h-1.0zM97.4,110.7h1.0v1.0h-1.0zM95.6,65.9h1.0v1.0h-1.0zM68.6,80.5h1.0v1.0h-1.0zM43.1,81.2h1.0v1.0h-1.0zM62.6,40.3h1.0v1.0h-1.0zM116.7,29.3h1.0v1.0h-1.0zM63.5,60.9h1.0v1.0h-1.0zM81.8,92.8h1.0v1.0h-1.0zM131.6,89.8h1.0v1.0h-1.0zM58.5,33.9h1.0v1.0h-1.0zM70.8,106.4h1.0v1.0h-1.0zM137.1,96.3h1.0v1.0h-1.0zM97.0,103.1h1.0v1.0h-1.0zM133.5,71.1h1.0v1.0h-1.0zM111.0,106.6h1.0v1.0h-1.0zM122.1,27.9h1.0v1.0h-1.0zM51.7,26.4h1.0v1.0h-1.0zM100.4,25.5h1.0v1.0h-1.0zM96.7,46.6h1.0v1.0h-1.0zM136.1,46.2h1.0v1.0h-1.0zM80.9,40.7h1.0v1.0h-1.0zM106.5,75.0h1.0v1.0h-1.0zM48.2,27.2h1.0v1.0h-1.0zM83.7,77.1h1.0v1.0h-1.0zM76.8,38.7h1.0v1.0h-1.0zM58.1,85.0h1.0v1.0h-1.0zM130.1,25.6h1.0v1.0h-1.0zM82.9,51.8h1.0v1.0h-1.0zM147.7,108.6h1.0v1.0h-1.0zM105.6,72.4h1.0v1.0h-1.0zM107.3,97.1h1.0v1.0h-1.0zM110.8,83.3h1.0v1.0h-1.0zM115.0,79.0h1.0v1.0h-1.0zM58.1,41.0h1.0v1.0h-1.0zM89.4,75.7h1.0v1.0h-1.0zM67.7,27.3h1.0v1.0h-1.0zM85.4,96.3h1.0v1.0h-1.0zM52.3,110.6h1.0v1.0h-1.0zM146.5,101.0h1.0v1.0h-1.0zM65.1,28.3h1.0v1.0h-1.0zM114.5,54.3h1.0v1.0h-1.0zM74.3,52.5h1.0v1.0h-1.0zM136.4,33.9h1.0v1.0h-1.0zM113.5,80.4h1.0v1.0h-1.0zM56.0,95.9h1.0v1.0h-1.0zM133.2,52.1h1.0v1.0h-1.0zM144.0,101.8h1.0v1.0h-1.0zM139.6,95.8h1.0v1.0h-1.0zM103.4,35.4h1.0v1.0h-1.0zM57.5,93.1h1.0v1.0h-1.0zM62.6,103.6h1.0v1.0h-1.0zM142.2,41.6h1.0v1.0h-1.0zM101.6,75.6h1.0v1.0h-1.0zM61.3,81.5h1.0v1.0h-1.0zM137.5,78.8h1.0v1.0h-1.0zM111.2,32.4h1.0v1.0h-1.0zM103.4,83.5h1.0v1.0h-1.0zM82.5,80.9h1.0v1.0h-1.0zM86.3,98.3h1.0v1.0h-1.0zM67.7,96.4h1.0v1.0h-1.0zM45.9,53.3h1.0v1.0h-1.0zM136.6,89.0h1.0v1.0h-1.0zM92.4,102.2h1.0v1.0h-1.0zM101.1,104.5h1.0v1.0h-1.0zM76.7,38.3h1.0v1.0h-1.0zM123.1,26.1h1.0v1.0h-1.0zM44.5,82.6h1.0v1.0h-1.0zM82.1,43.1h1.0v1.0h-1.0zM45.1,74.7h1.0v1.0h-1.0zM55.1,109.2h1.0v1.0h-1.0zM146.4,58.0h1.0v1.0h-1.0zM113.0,46.6h1.0v1.0h-1.0zM88.1,65.0h1.0v1.0h-1.0zM98.5,83.2h1.0v1.0h-1.0zM136.2,32.8h1.0v1.0h-1.0zM79.0,58.1h1.0v1.0h-1.0zM105.7,35.8h1.0v1.0h-1.0zM115.8,83.7h1.0v1.0h-1.0zM80.3,98.9h1.0v1.0h-1.0zM98.0,57.8h1.0v1.0h-1.0zM124.6,57.3h1.0v1.0h-1.0zM140.2,72.5h1.0v1.0h-1.0zM58.1,43.2h1.0v1.0h-1.0zM142.8,46.1h1.0v1.0h-1.0zM123.3,65.1h1.0v1.0h-1.0zM129.5,31.1h1.0v1.0h-1.0zM56.6,91.8h1.0v1.0h-1.0zM87.1,76.1h1.0v1.0h-1.0zM130.0,50.8h1.0v1.0h-1.0zM43.3,30.7h1.0v1.0h-1.0zM109.8,92.8h1.0v1.0h-1.0zM127.6,35.6h1.0v1.0h-1.0zM97.3,35.8h1.0v1.0h-1.0zM120.3,35.5h1.0v1.0h-1.0zM66.3,31.1h1.0v1.0h-1.0zM63.3,105.7h1.0v1.0h-1.0zM81.1,48.1h1.0v1.0h-1.0zM61.2,51.4h1.0v1.0h-1.0zM79.2,99.1h1.0v1.0h-1.0zM144.4,79.8h1.0v1.0h-1.0zM103.8,40.6h1.0v1.0h-1.0zM78.6,63.1h1.0v1.0h-1.0zM71.2,103.7h1.0v1.0h-1.0zM144.8,57.7h1.0v1.0h-1.0zM89.9,88.0h1.0v1.0h-1.0zM147.9,32.5h1.0v1.0h-1.0zM97.6,89.5h1.0v1.0h-1.0zM98.2,94.0h1.0v1.0h-1.0zM138.8,98.4h1.0v1.0h-1.0z" fill="#555" fill-opacity="0.45"/>
<path d="M81.8,33.4h1.0v1.0h-1.0zM79.5,69.1h1.0v1.0h-1.0zM76.5,54.9h1.0v1.0h-1.0zM70.2,67.5h1.0v1.0h-1.0zM96.4,74.7h1.0v1.0h-1.0zM74.9,91.4h1.0v1.0h-1.0zM65.0,64.5h1.0v1.0h-1.0zM92.4,82.8h1.0v1.0h-1.0zM87.0,71.5h1.0v1.0h-1.0zM78.9,66.5h1.0v1.0h-1.0zM71.3,70.8h1.0v1.0h-1.0zM102.2,77.8h1.0v1.0h-1.0zM73.9,61.9h1.0v1.0h-1.0zM63.6,92.4h1.0v1.0h-1.0zM84.1,70.9h1.0v1.0h-1.0zM68.8,54.5h1.0v1.0h-1.0zM73.8,82.2h1.0v1.0h-1.0zM67.9,66.8h1.0v1.0h-1.0zM71.0,71.5h1.0v1.0h-1.0zM46.3,66.7h1.0v1.0h-1.0zM59.6,82.4h1.0v1.0h-1.0zM61.1,78.1h1.0v1.0h-1.0zM102.4,65.6h1.0v1.0h-1.0zM64.2,72.7h1.0v1.0h-1.0zM75.0,56.1h1.0v1.0h-1.0zM83.3,98.2h1.0v1.0h-1.0zM70.4,67.2h1.0v1.0h-1.0zM56.2,74.5h1.0v1.0h-1.0zM52.6,54.5h1.0v1.0h-1.0zM98.0,57.3h1.0v1.0h-1.0zM94.5,91.3h1.0v1.0h-1.0zM79.7,77.7h1.0v1.0h-1.0zM110.1,67.2h1.0v1.0h-1.0zM64.3,51.1h1.0v1.0h-1.0zM75.8,90.7h1.0v1.0h-1.0zM92.3,56.8h1.0v1.0h-1.0zM59.6,62.9h1.0v1.0h-1.0zM80.3,67.1h1.0v1.0h-1.0zM78.9,74.2h1.0v1.0h-1.0zM69.6,69.4h1.0v1.0h-1.0zM78.7,68.8h1.0v1.0h-1.0zM84.1,96.2h1.0v1.0h-1.0zM85.7,70.8h1.0v1.0h-1.0zM44.6,75.4h1.0v1.0h-1.0zM90.4,79.9h1.0v1.0h-1.0zM72.3,46.1h1.0v1.0h-1.0zM68.3,60.5h1.0v1.0h-1.0zM86.5,101.6h1.0v1.0h-1.0zM78.9,59.1h1.0v1.0h-1.0zM53.9,69.2h1.0v1.0h-1.0zM71.8,53.9h1.0v1.0h-1.0zM77.1,53.9h1.0v1.0h-1.0zM95.0,84.9h1.0v1.0h-1.0zM94.5,63.4h1.0v1.0h-1.0zM84.3,68.2h1.0v1.0h-1.0zM68.0,65.3h1.0v1.0h-1.0zM51.6,49.8h1.0v1.0h-1.0zM89.3,67.3h1.0v1.0h-1.0zM78.9,84.0h1.0v1.0h-1.0zM43.8,59.0h1.0v1.0h-1.0zM78.2,75.5h1.0v1.0h-1.0zM68.2,84.4h1.0v1.0h-1.0zM78.8,53.0h1.0v1.0h-1.0zM58.2,81.3h1.0v1.0h-1.0zM83.3,43.4h1.0v1.0h-1.0zM99.3,78.4h1.0v1.0h-1.0zM99.2,64.6h1.0v1.0h-1.0zM69.7,54.2h1.0v1.0h-1.0zM120.7,67.5h1.0v1.0h-1.0zM103.6,60.9h1.0v1.0h-1.0zM77.9,46.6h1.0v1.0h-1.0zM68.1,83.8h1.0v1.0h-1.0zM52.5,85.0h1.0v1.0h-1.0zM81.1,55.4h1.0v1.0h-1.0zM66.0,63.6h1.0v1.0h-1.0zM74.1,62.5h1.0v1.0h-1.0zM60.1,65.7h1.0v1.0h-1.0zM56.5,51.9h1.0v1.0h-1.0zM74.1,82.4h1.0v1.0h-1.0zM47.5,70.0h1.0v1.0h-1.0zM63.3,56.3h1.0v1.0h-1.0zM90.4,62.7h1.0v1.0h-1.0zM102.0,59.1h1.0v1.0h-1.0zM82.0,66.8h1.0v1.0h-1.0zM61.4,78.2h1.0v1.0h-1.0zM72.2,78.4h1.0v1.0h-1.0zM74.1,54.8h1.0v1.0h-1.0zM73.2,70.7h1.0v1.0h-1.0zM92.3,57.3h1.0v1.0h-1.0zM74.3,45.9h1.0v1.0h-1.0zM86.7,54.9h1.0v1.0h-1.0zM94.9,48.7h1.0v1.0h-1.0zM55.4,59.6h1.0v1.0h-1.0zM54.7,75.3h1.0v1.0h-1.0zM60.5,59.9h1.0v1.0h-1.0zM85.5,59.4h1.0v1.0h-1.0zM82.8,56.4h1.0v1.0h-1.0zM53.2,44.3h1.0v1.0h-1.0zM108.5,65.5h1.0v1.0h-1.0zM79.4,69.6h1.0v1.0h-1.0zM77.9,70.7h1.0v1.0h-1.0zM109.3,55.5h1.0v1.0h-1.0zM47.0,55.8h1.0v1.0h-1.0zM51.0,80.5h1.0v1.0h-1.0zM89.8,56.5h1.0v1.0h-1.0zM50.0,65.0h1.0v1.0h-1.0zM100.0,30.5h1.0v1.0h-1.0zM84.5,54.9h1.0v1.0h-1.0zM93.7,54.9h1.0v1.0h-1.0zM69.9,48.9h1.0v1.0h-1.0zM57.4,89.4h1.0v1.0h-1.0zM89.8,64.4h1.0v1.0h-1.0zM59.3,43.5h1.0v1.0h-1.0zM67.9,69.6h1.0v1.0h-1.0zM73.5,68.7h1.0v1.0h-1.0zM54.8,69.1h1.0v1.0h-1.0zM74.3,88.1h1.0v1.0h-1.0zM108.6,68.1h1.0v1.0h-1.0zM61.2,69.1h1.0v1.0h-1.0zM64.1,59.6h1.0v1.0h-1.0zM73.9,55.4h1.0v1.0h-1.0zM85.9,68.5h1.0v1.0h-1.0zM79.5,67.4h1.0v1.0h-1.0zM61.9,56.7h1.0v1.0h-1.0zM70.7,62.3h1.0v1.0h-1.0zM79.2,69.9h1.0v1.0h-1.0zM50.5,70.9h1.0v1.0h-1.0zM50.8,61.4h1.0v1.0h-1.0zM69.7,40.9h1.0v1.0h-1.0zM76.6,72.1h1.0v1.0h-1.0zM72.2,64.1h1.0v1.0h-1.0zM68.3,56.3h1.0v1.0h-1.0zM70.1,62.3h1.0v1.0h-1.0zM76.7,53.1h1.0v1.0h-1.0zM79.2,72.0h1.0v1.0h-1.0zM72.5,63.9h1.0v1.0h-1.0zM84.9,46.7h1.0v1.0h-1.0zM83.3,73.4h1.0v1.0h-1.0zM80.1,75.4h1.0v1.0h-1.0zM63.2,66.4h1.0v1.0h-1.0zM86.5,76.0h1.0v1.0h-1.0zM78.7,48.8h1.0v1.0h-1.0zM84.7,86.4h1.0v1.0h-1.0zM93.2,73.3h1.0v1.0h-1.0zM47.0,83.2h1.0v1.0h-1.0zM72.3,34.5h1.0v1.0h-1.0zM81.8,49.1h1.0v1.0h-1.0zM51.7,61.1h1.0v1.0h-1.0zM97.9,64.8h1.0v1.0h-1.0zM79.9,94.5h1.0v1.0h-1.0zM103.7,68.6h1.0v1.0h-1.0zM70.7,52.3h1.0v1.0h-1.0zM62.5,76.0h1.0v1.0h-1.0zM82.1,71.5h1.0v1.0h-1.0zM92.9,59.2h1.0v1.0h-1.0zM74.0,80.2h1.0v1.0h-1.0zM85.5,85.0h1.0v1.0h-1.0z" fill="#333" fill-opacity="0.55"/>
<path d="M71.2,64.4h1.0v1.0h-1.0zM73.6,58.7h1.0v1.0h-1.0zM57.6,66.9h1.0v1.0h-1.0zM66.6,68.4h1.0v1.0h-1.0zM60.9,59.1h1.0v1.0h-1.0zM68.3,57.6h1.0v1.0h-1.0zM58.0,58.0h1.0v1.0h-1.0zM71.0,71.2h1.0v1.0h-1.0zM65.1,64.5h1.0v1.0h-1.0zM82.3,45.2h1.0v1.0h-1.0zM65.3,70.1h1.0v1.0h-1.0zM64.9,81.5h1.0v1.0h-1.0zM72.5,71.2h1.0v1.0h-1.0zM66.5,73.1h1.0v1.0h-1.0zM65.5,64.4h1.0v1.0h-1.0zM65.1,84.1h1.0v1.0h-1.0zM67.4,65.2h1.0v1.0h-1.0zM63.9,77.4h1.0v1.0h-1.0zM62.3,77.9h1.0v1.0h-1.0zM63.9,62.2h1.0v1.0h-1.0zM64.0,72.0h1.0v1.0h-1.0zM79.0,56.1h1.0v1.0h-1.0zM62.2,66.6h1.0v1.0h-1.0zM70.5,52.1h1.0v1.0h-1.0zM71.3,72.4h1.0v1.0h-1.0zM72.3,63.3h1.0v1.0h-1.0zM74.0,66.4h1.0v1.0h-1.0zM76.9,61.1h1.0v1.0h-1.0zM63.0,65.7h1.0v1.0h-1.0zM61.9,69.9h1.0v1.0h-1.0zM72.8,59.1h1.0v1.0h-1.0zM69.7,63.3h1.0v1.0h-1.0zM75.0,63.0h1.0v1.0h-1.0zM61.2,74.9h1.0v1.0h-1.0zM71.6,87.5h1.0v1.0h-1.0zM67.5,67.9h1.0v1.0h-1.0zM76.1,68.5h1.0v1.0h-1.0zM62.7,64.7h1.0v1.0h-1.0zM73.4,60.3h1.0v1.0h-1.0zM65.3,50.5h1.0v1.0h-1.0zM74.2,61.4h1.0v1.0h-1.0zM66.5,67.4h1.0v1.0h-1.0zM72.4,64.7h1.0v1.0h-1.0zM73.9,59.9h1.0v1.0h-1.0zM70.1,56.8h1.0v1.0h-1.0zM73.7,68.4h1.0v1.0h-1.0zM65.7,61.4h1.0v1.0h-1.0zM64.2,71.2h1.0v1.0h-1.0zM64.0,53.8h1.0v1.0h-1.0zM56.5,85.8h1.0v1.0h-1.0zM73.2,67.3h1.0v1.0h-1.0zM63.7,84.4h1.0v1.0h-1.0zM68.2,62.5h1.0v1.0h-1.0zM72.2,72.8h1.0v1.0h-1.0zM73.3,63.4h1.0v1.0h-1.0zM71.1,84.4h1.0v1.0h-1.0zM68.2,72.9h1.0v1.0h-1.0zM55.5,66.5h1.0v1.0h-1.0zM65.4,69.1h1.0v1.0h-1.0zM72.7,64.8h1.0v1.0h-1.0zM58.2,65.1h1.0v1.0h-1.0zM65.6,61.6h1.0v1.0h-1.0zM66.3,61.8h1.0v1.0h-1.0zM51.9,70.6h1.0v1.0h-1.0zM65.0,75.7h1.0v1.0h-1.0zM77.8,70.8h1.0v1.0h-1.0zM62.4,54.5h1.0v1.0h-1.0zM63.9,59.1h1.0v1.0h-1.0zM76.0,49.9h1.0v1.0h-1.0zM75.5,54.5h1.0v1.0h-1.0zM69.9,65.8h1.0v1.0h-1.0zM66.7,64.7h1.0v1.0h-1.0zM67.6,59.7h1.0v1.0h-1.0zM59.7,61.8h1.0v1.0h-1.0zM69.7,86.4h1.0v1.0h-1.0zM71.9,74.8h1.0v1.0h-1.0zM59.1,76.2h1.0v1.0h-1.0zM68.0,65.3h1.0v1.0h-1.0zM66.2,66.1h1.0v1.0h-1.0zM66.1,64.3h1.0v1.0h-1.0zM64.0,60.4h1.0v1.0h-1.0zM79.6,70.7h1.0v1.0h-1.0zM64.8,69.8h1.0v1.0h-1.0zM75.8,58.6h1.0v1.0h-1.0zM63.5,73.0h1.0v1.0h-1.0zM68.9,67.6h1.0v1.0h-1.0zM78.3,64.1h1.0v1.0h-1.0zM70.4,62.0h1.0v1.0h-1.0zM82.9,53.5h1.0v1.0h-1.0zM66.7,60.1h1.0v1.0h-1.0zM69.0,72.5h1.0v1.0h-1.0zM80.9,56.4h1.0v1.0h-1.0zM72.9,65.4h1.0v1.0h-1.0zM62.6,68.9h1.0v1.0h-1.0zM71.3,46.9h1.0v1.0h-1.0zM71.9,52.9h1.0v1.0h-1.0zM63.4,67.5h1.0v1.0h-1.0zM63.5,79.7h1.0v1.0h-1.0zM72.8,53.0h1.0v1.0h-1.0zM67.7,56.7h1.0v1.0h-1.0zM60.3,66.7h1.0v1.0h-1.0zM72.3,48.4h1.0v1.0h-1.0zM71.9,66.7h1.0v1.0h-1.0zM69.4,67.7h1.0v1.0h-1.0zM71.0,67.8h1.0v1.0h-1.0zM72.5,72.3h1.0v1.0h-1.0zM68.4,70.3h1.0v1.0h-1.0zM61.4,61.3h1.0v1.0h-1.0zM65.9,67.1h1.0v1.0h-1.0zM55.0,76.2h1.0v1.0h-1.0zM73.1,56.4h1.0v1.0h-1.0zM60.6,59.7h1.0v1.0h-1.0zM70.3,59.9h1.0v1.0h-1.0zM70.9,61.0h1.0v1.0h-1.0zM73.5,61.4h1.0v1.0h-1.0zM64.1,73.9h1.0v1.0h-1.0zM84.7,63.8h1.0v1.0h-1.0zM68.9,58.1h1.0v1.0h-1.0zM76.3,58.5h1.0v1.0h-1.0zM65.7,64.6h1.0v1.0h-1.0zM66.8,55.9h1.0v1.0h-1.0zM73.6,47.8h1.0v1.0h-1.0zM62.4,59.3h1.0v1.0h-1.0zM69.4,64.8h1.0v1.0h-1.0zM60.9,58.1h1.0v1.0h-1.0zM69.9,72.4h1.0v1.0h-1.0zM71.0,58.6h1.0v1.0h-1.0zM73.3,62.7h1.0v1.0h-1.0zM65.2,56.7h1.0v1.0h-1.0zM74.4,71.2h1.0v1.0h-1.0zM75.6,64.8h1.0v1.0h-1.0zM75.0,63.3h1.0v1.0h-1.0zM57.8,85.9h1.0v1.0h-1.0zM73.7,63.7h1.0v1.0h-1.0zM66.3,68.5h1.0v1.0h-1.0zM75.9,64.8h1.0v1.0h-1.0zM60.4,59.7h1.0v1.0h-1.0zM67.7,66.9h1.0v1.0h-1.0zM73.4,71.6h1.0v1.0h-1.0zM76.2,58.9h1.0v1.0h-1.0zM64.4,85.1h1.0v1.0h-1.0zM70.9,69.9h1.0v1.0h-1.0zM62.0,80.9h1.0v1.0h-1.0zM63.8,62.9h1.0v1.0h-1.0zM67.5,73.1h1.0v1.0h-1.0zM64.7,67.5h1.0v1.0h-1.0zM66.2,66.3h1.0v1.0h-1.0zM71.7,56.4h1.0v1.0h-1.0zM64.6,73.1h1.0v1.0h-1.0zM64.1,61.8h1.0v1.0h-1.0zM75.4,58.8h1.0v1.0h-1.0zM72.9,57.8h1.0v1.0h-1.0zM64.9,87.5h1.0v1.0h-1.0zM78.9,68.9h1.0v1.0h-1.0zM71.2,68.7h1.0v1.0h-1.0zM62.6,78.9h1.0v1.0h-1.0zM57.4,71.5h1.0v1.0h-1.0zM62.4,77.4h1.0v1.0h-1.0zM71.5,60.9h1.0v1.0h-1.0zM66.6,72.6h1.0v1.0h-1.0zM66.3,70.1h1.0v1.0h-1.0zM73.5,47.4h1.0v1.0h-1.0zM69.8,73.8h1.0v1.0h-1.0zM68.5,66.9h1.0v1.0h-1.0zM74.9,64.7h1.0v1.0h-1.0zM65.2,62.8h1.0v1.0h-1.0zM79.2,57.4h1.0v1.0h-1.0zM76.4,63.6h1.0v1.0h-1.0zM57.7,73.7h1.0v1.0h-1.0zM72.5,55.2h1.0v1.0h-1.0zM62.7,72.8h1.0v1.0h-1.0zM75.6,65.3h1.0v1.0h-1.0zM67.3,72.8h1.0v1.0h-1.0zM63.4,67.4h1.0v1.0h-1.0zM69.9,61.6h1.0v1.0h-1.0zM65.3,65.4h1.0v1.0h-1.0zM70.3,61.5h1.0v1.0h-1.0zM61.6,74.1h1.0v1.0h-1.0zM65.7,73.7h1.0v1.0h-1.0zM71.8,73.6h1.0v1.0h-1.0zM82.5,64.5h1.0v1.0h-1.0zM73.2,65.3h1.0v1.0h-1.0zM70.8,84.2h1.0v1.0h-1.0zM61.9,53.6h1.0v1.0h-1.0zM68.3,74.0h1.0v1.0h-1.0zM71.9,67.1h1.0v1.0h-1.0zM67.8,72.4h1.0v1.0h-1.0zM63.7,74.2h1.0v1.0h-1.0zM54.3,65.9h1.0v1.0h-1.0zM59.2,71.4h1.0v1.0h-1.0zM70.2,58.2h1.0v1.0h-1.0zM73.3,59.4h1.0v1.0h-1.0zM69.4,51.1h1.0v1.0h-1.0zM66.0,70.0h1.0v1.0h-1.0zM73.6,67.2h1.0v1.0h-1.0zM73.2,68.6h1.0v1.0h-1.0zM65.4,70.5h1.0v1.0h-1.0zM74.6,65.7h1.0v1.0h-1.0zM67.4,64.1h1.0v1.0h-1.0zM71.8,58.8h1.0v1.0h-1.0zM74.6,65.1h1.0v1.0h-1.0zM73.4,60.3h1.0v1.0h-1.0zM68.3,70.0h1.0v1.0h-1.0zM58.2,81.5h1.0v1.0h-1.0zM63.1,81.4h1.0v1.0h-1.0zM75.3,62.8h1.0v1.0h-1.0zM64.4,68.7h1.0v1.0h-1.0zM68.1,66.5h1.0v1.0h-1.0zM73.5,50.6h1.0v1.0h-1.0zM75.3,47.4h1.0v1.0h-1.0zM72.6,60.9h1.0v1.0h-1.0zM65.3,62.5h1.0v1.0h-1.0zM74.8,55.0h1.0v1.0h-1.0zM63.3,53.2h1.0v1.0h-1.0zM61.5,53.4h1.0v1.0h-1.0zM79.9,61.1h1.0v1.0h-1.0zM76.5,56.3h1.0v1.0h-1.0zM70.7,64.1h1.0v1.0h-1.0zM65.5,70.5h1.0v1.0h-1.0zM76.0,71.7h1.0v1.0h-1.0zM72.3,58.3h1.0v1.0h-1.0zM71.8,65.3h1.0v1.0h-1.0zM72.3,67.6h1.0v1.0h-1.0zM84.2,53.9h1.0v1.0h-1.0zM63.2,72.5h1.0v1.0h-1.0zM69.3,58.7h1.0v1.0h-1.0zM71.9,54.1h1.0v1.0h-1.0zM59.3,86.2h1.0v1.0h-1.0zM77.9,59.6h1.0v1.0h-1.0zM65.2,60.7h1.0v1.0h-1.0zM76.1,61.6h1.0v1.0h-1.0zM61.2,71.6h1.0v1.0h-1.0zM73.7,65.0h1.0v1.0h-1.0zM68.3,50.8h1.0v1.0h-1.0zM73.0,46.2h1.0v1.0h-1.0zM74.1,62.6h1.0v1.0h-1.0zM63.3,82.4h1.0v1.0h-1.0zM78.2,59.3h1.0v1.0h-1.0zM67.9,77.5h1.0v1.0h-1.0zM67.9,56.5h1.0v1.0h-1.0zM73.5,52.7h1.0v1.0h-1.0zM84.5,49.8h1.0v1.0h-1.0zM63.5,61.2h1.0v1.0h-1.0zM66.2,66.8h1.0v1.0h-1.0zM70.2,64.9h1.0v1.0h-1.0zM81.8,51.2h1.0v1.0h-1.0zM70.7,60.2h1.0v1.0h-1.0zM67.8,68.1h1.0v1.0h-1.0zM65.9,58.7h1.0v1.0h-1.0zM70.6,70.7h1.0v1.0h-1.0zM56.9,81.1h1.0v1.0h-1.0zM85.1,59.4h1.0v1.0h-1.0zM60.0,87.2h1.0v1.0h-1.0zM71.1,69.6h1.0v1.0h-1.0zM69.0,61.1h1.0v1.0h-1.0zM69.0,61.0h1.0v1.0h-1.0zM73.2,64.5h1.0v1.0h-1.0zM70.4,55.2h1.0v1.0h-1.0zM71.2,58.6h1.0v1.0h-1.0zM63.1,74.1h1.0v1.0h-1.0zM67.9,71.0h1.0v1.0h-1.0zM69.5,67.3h1.0v1.0h-1.0zM68.5,63.2h1.0v1.0h-1.0zM75.9,58.9h1.0v1.0h-1.0zM74.6,69.4h1.0v1.0h-1.0zM66.1,60.3h1.0v1.0h-1.0zM64.0,65.7h1.0v1.0h-1.0zM60.1,73.6h1.0v1.0h-1.0zM72.7,45.6h1.0v1.0h-1.0zM72.0,47.9h1.0v1.0h-1.0zM63.8,74.5h1.0v1.0h-1.0zM76.3,56.6h1.0v1.0h-1.0zM57.4,78.7h1.0v1.0h-1.0zM69.6,66.8h1.0v1.0h-1.0zM63.9,88.5h1.0v1.0h-1.0zM73.9,70.2h1.0v1.0h-1.0zM67.4,71.9h1.0v1.0h-1.0zM69.0,55.9h1.0v1.0h-1.0zM71.9,58.4h1.0v1.0h-1.0zM67.3,66.6h1.0v1.0h-1.0zM82.9,64.5h1.0v1.0h-1.0zM68.0,64.4h1.0v1.0h-1.0zM66.2,75.6h1.0v1.0h-1.0zM68.7,58.2h1.0v1.0h-1.0zM63.3,54.6h1.0v1.0h-1.0zM70.5,67.6h1.0v1.0h-1.0zM64.4,60.6h1.0v1.0h-1.0zM66.2,70.2h1.0v1.0h-1.0zM66.0,62.6h1.0v1.0h-1.0zM63.3,52.4h1.0v1.0h-1.0zM84.4,51.9h1.0v1.0h-1.0zM65.5,67.0h1.0v1.0h-1.0zM69.2,58.5h1.0v1.0h-1.0zM67.7,65.8h1.0v1.0h-1.0zM74.7,50.5h1.0v1.0h-1.0zM70.5,58.7h1.0v1.0h-1.0zM64.4,66.6h1.0v1.0h-1.0zM67.8,74.8h1.0v1.0h-1.0zM62.0,72.4h1.0v1.0h-1.0zM69.5,78.0h1.0v1.0h-1.0zM75.5,68.0h1.0v1.0h-1.0zM64.0,72.3h1.0v1.0h-1.0zM60.4,64.5h1.0v1.0h-1.0zM66.8,61.8h1.0v1.0h-1.0zM62.7,54.7h1.0v1.0h-1.0zM64.5,73.2h1.0v1.0h-1.0zM73.2,67.6h1.0v1.0h-1.0zM70.2,58.8h1.0v1.0h-1.0zM70.9,64.9h1.0v1.0h-1.0zM64.4,81.7h1.0v1.0h-1.0zM73.5,53.7h1.0v1.0h-1.0zM69.3,52.1h1.0v1.0h-1.0zM57.1,73.9h1.0v1.0h-1.0zM74.9,54.1h1.0v1.0h-1.0zM66.5,77.8h1.0v1.0h-1.0zM68.8,59.6h1.0v1.0h-1.0zM65.2,67.5h1.0v1.0h-1.0zM66.7,77.1h1.0v1.0h-1.0zM69.5,78.5h1.0v1.0h-1.0zM72.3,74.6h1.0v1.0h-1.0zM60.9,61.4h1.0v1.0h-1.0zM71.0,63.6h1.0v1.0h-1.0zM73.9,65.2h1.0v1.0h-1.0zM57.9,75.6h1.0v1.0h-1.0zM70.5,69.3h1.0v1.0h-1.0zM68.6,76.8h1.0v1.0h-1.0zM79.0,46.7h1.0v1.0h-1.0zM66.4,60.7h1.0v1.0h-1.0zM62.3,65.3h1.0v1.0h-1.0zM75.8,64.8h1.0v1.0h-1.0zM54.6,79.9h1.0v1.0h-1.0zM70.4,54.9h1.0v1.0h-1.0zM67.6,70.0h1.0v1.0h-1.0zM61.5,70.8h1.0v1.0h-1.0zM69.1,57.3h1.0v1.0h-1.0zM66.0,72.7h1.0v1.0h-1.0zM63.6,67.2h1.0v1.0h-1.0zM56.8,88.8h1.0v1.0h-1.0zM59.2,75.6h1.0v1.0h-1.0zM68.2,64.8h1.0v1.0h-1.0zM68.2,75.0h1.0v1.0h-1.0zM73.1,71.6h1.0v1.0h-1.0zM67.1,60.2h1.0v1.0h-1.0zM68.3,71.9h1.0v1.0h-1.0zM73.4,72.7h1.0v1.0h-1.0zM67.5,80.8h1.0v1.0h-1.0zM74.5,54.3h1.0v1.0h-1.0zM67.6,51.5h1.0v1.0h-1.0zM79.2,62.8h1.0v1.0h-1.0zM71.9,73.6h1.0v1.0h-1.0zM72.7,78.2h1.0v1.0h-1.0zM68.3,64.1h1.0v1.0h-1.0zM67.8,67.6h1.0v1.0h-1.0zM65.5,64.5h1.0v1.0h-1.0zM82.5,55.9h1.0v1.0h-1.0zM72.7,59.2h1.0v1.0h-1.0zM65.7,73.3h1.0v1.0h-1.0zM64.8,72.2h1.0v1.0h-1.0zM55.9,71.3h1.0v1.0h-1.0zM62.6,69.7h1.0v1.0h-1.0zM78.7,45.3h1.0v1.0h-1.0zM63.4,66.0h1.0v1.0h-1.0zM74.7,72.0h1.0v1.0h-1.0zM74.7,55.1h1.0v1.0h-1.0zM68.3,84.1h1.0v1.0h-1.0zM69.0,64.3h1.0v1.0h-1.0zM56.6,69.4h1.0v1.0h-1.0zM78.7,78.1h1.0v1.0h-1.0zM72.2,73.4h1.0v1.0h-1.0zM58.0,74.6h1.0v1.0h-1.0zM62.6,61.4h1.0v1.0h-1.0zM66.0,73.8h1.0v1.0h-1.0zM68.6,70.1h1.0v1.0h-1.0zM69.1,53.7h1.0v1.0h-1.0zM71.0,60.4h1.0v1.0h-1.0zM66.3,52.6h1.0v1.0h-1.0zM72.6,49.7h1.0v1.0h-1.0zM67.5,49.5h1.0v1.0h-1.0zM67.4,69.8h1.0v1.0h-1.0zM83.7,58.5h1.0v1.0h-1.0zM61.1,71.9h1.0v1.0h-1.0zM68.2,62.8h1.0v1.0h-1.0zM77.8,67.2h1.0v1.0h-1.0zM67.2,52.6h1.0v1.0h-1.0zM68.5,69.3h1.0v1.0h-1.0zM64.9,54.8h1.0v1.0h-1.0zM68.5,72.0h1.0v1.0h-1.0zM62.4,69.6h1.0v1.0h-1.0zM77.6,52.8h1.0v1.0h-1.0zM64.9,68.7h1.0v1.0h-1.0zM73.3,47.2h1.0v1.0h-1.0zM63.7,71.5h1.0v1.0h-1.0zM84.2,51.8h1.0v1.0h-1.0zM85.3,62.9h1.0v1.0h-1.0zM68.1,78.3h1.0v1.0h-1.0zM72.3,69.5h1.0v1.0h-1.0zM59.8,68.4h1.0v1.0h-1.0zM74.0,43.8h1.0v1.0h-1.0zM79.4,78.4h1.0v1.0h-1.0zM80.5,62.8h1.0v1.0h-1.0z" fill="#000" fill-opacity="0.8"/>
<path d="M67.2,94.4h1.0v1.0h-1.0zM72.1,79.0h1.0v1.0h-1.0zM51.2,71.8h1.0v1.0h-1.0zM47.4,55.0h1.0v1.0h-1.0zM63.3,66.6h1.0v1.0h-1.0zM59.0,74.6h1.0v1.0h-1.0zM71.6,92.5h1.0v1.0h-1.0zM56.5,87.6h1.0v1.0h-1.0zM54.8,71.1h1.0v1.0h-1.0zM70.2,65.9h1.0v1.0h-1.0zM61.3,62.7h1.0v1.0h-1.0zM56.7,92.0h1.0v1.0h-1.0zM53.6,76.6h1.0v1.0h-1.0zM56.0,63.0h1.0v1.0h-1.0zM46.7,87.5h1.0v1.0h-1.0zM77.0,85.6h1.0v1.0h-1.0zM52.6,81.3h1.0v1.0h-1.0zM55.3,83.0h1.0v1.0h-1.0zM61.5,79.3h1.0v1.0h-1.0zM66.2,71.7h1.0v1.0h-1.0zM61.3,58.5h1.0v1.0h-1.0zM60.3,61.3h1.0v1.0h-1.0zM61.4,66.5h1.0v1.0h-1.0zM59.6,80.6h1.0v1.0h-1.0zM51.1,65.2h1.0v1.0h-1.0zM50.8,81.3h1.0v1.0h-1.0zM71.0,87.8h1.0v1.0h-1.0zM53.5,89.4h1.0v1.0h-1.0zM44.4,87.3h1.0v1.0h-1.0zM62.1,47.8h1.0v1.0h-1.0zM76.4,96.7h1.0v1.0h-1.0zM51.6,75.5h1.0v1.0h-1.0zM58.1,76.5h1.0v1.0h-1.0zM50.3,66.3h1.0v1.0h-1.0zM63.0,79.1h1.0v1.0h-1.0zM69.1,79.3h1.0v1.0h-1.0zM80.0,74.0h1.0v1.0h-1.0zM67.0,58.0h1.0v1.0h-1.0zM46.9,86.2h1.0v1.0h-1.0zM51.3,79.2h1.0v1.0h-1.0zM62.2,65.8h1.0v1.0h-1.0zM58.6,70.3h1.0v1.0h-1.0zM54.3,82.3h1.0v1.0h-1.0zM66.5,71.8h1.0v1.0h-1.0zM52.3,76.8h1.0v1.0h-1.0zM56.6,85.7h1.0v1.0h-1.0zM78.3,89.6h1.0v1.0h-1.0zM60.2,74.3h1.0v1.0h-1.0zM55.7,65.5h1.0v1.0h-1.0zM53.3,70.1h1.0v1.0h-1.0zM54.8,82.3h1.0v1.0h-1.0zM57.4,73.3h1.0v1.0h-1.0zM46.3,89.4h1.0v1.0h-1.0zM59.3,94.3h1.0v1.0h-1.0zM62.3,92.0h1.0v1.0h-1.0zM56.2,82.4h1.0v1.0h-1.0zM84.1,69.8h1.0v1.0h-1.0zM64.7,94.8h1.0v1.0h-1.0zM61.3,84.3h1.0v1.0h-1.0zM71.6,72.2h1.0v1.0h-1.0zM65.5,68.3h1.0v1.0h-1.0zM56.3,68.5h1.0v1.0h-1.0zM58.5,77.1h1.0v1.0h-1.0zM67.3,62.9h1.0v1.0h-1.0zM72.6,91.6h1.0v1.0h-1.0zM66.7,74.0h1.0v1.0h-1.0zM57.8,81.2h1.0v1.0h-1.0zM67.7,60.2h1.0v1.0h-1.0zM58.1,106.4h1.0v1.0h-1.0zM63.2,75.7h1.0v1.0h-1.0zM74.0,67.2h1.0v1.0h-1.0zM57.4,90.9h1.0v1.0h-1.0zM59.5,71.4h1.0v1.0h-1.0zM62.1,71.8h1.0v1.0h-1.0zM74.7,70.3h1.0v1.0h-1.0zM70.3,65.4h1.0v1.0h-1.0zM65.6,76.4h1.0v1.0h-1.0zM52.7,69.3h1.0v1.0h-1.0zM75.2,68.2h1.0v1.0h-1.0zM47.7,88.0h1.0v1.0h-1.0zM56.8,91.6h1.0v1.0h-1.0zM64.9,67.9h1.0v1.0h-1.0zM56.2,88.1h1.0v1.0h-1.0zM67.5,78.0h1.0v1.0h-1.0zM60.7,75.0h1.0v1.0h-1.0zM50.3,94.0h1.0v1.0h-1.0zM63.1,64.8h1.0v1.0h-1.0zM54.3,82.2h1.0v1.0h-1.0zM65.5,76.0h1.0v1.0h-1.0zM54.6,74.8h1.0v1.0h-1.0zM50.2,59.5h1.0v1.0h-1.0zM67.6,72.9h1.0v1.0h-1.0zM59.7,88.9h1.0v1.0h-1.0zM65.1,77.6h1.0v1.0h-1.0zM75.1,87.2h1.0v1.0h-1.0zM55.2,82.5h1.0v1.0h-1.0zM65.5,68.4h1.0v1.0h-1.0zM61.0,74.5h1.0v1.0h-1.0zM44.8,70.1h1.0v1.0h-1.0zM58.9,71.0h1.0v1.0h-1.0zM47.9,69.0h1.0v1.0h-1.0zM59.4,76.9h1.0v1.0h-1.0zM49.3,79.9h1.0v1.0h-1.0zM50.9,71.2h1.0v1.0h-1.0zM72.2,71.9h1.0v1.0h-1.0zM53.1,85.6h1.0v1.0h-1.0zM57.7,72.2h1.0v1.0h-1.0zM59.0,86.9h1.0v1.0h-1.0zM44.7,63.1h1.0v1.0h-1.0zM54.9,63.1h1.0v1.0h-1.0zM55.4,65.9h1.0v1.0h-1.0zM64.8,67.8h1.0v1.0h-1.0zM59.9,80.2h1.0v1.0h-1.0zM53.9,75.7h1.0v1.0h-1.0zM72.1,82.7h1.0v1.0h-1.0zM55.1,74.0h1.0v1.0h-1.0zM52.0,76.7h1.0v1.0h-1.0zM69.0,69.7h1.0v1.0h-1.0zM55.4,86.5h1.0v1.0h-1.0zM55.6,76.8h1.0v1.0h-1.0zM54.1,65.8h1.0v1.0h-1.0zM50.3,95.9h1.0v1.0h-1.0zM58.2,70.0h1.0v1.0h-1.0zM56.1,73.2h1.0v1.0h-1.0zM64.6,79.2h1.0v1.0h-1.0zM75.3,82.3h1.0v1.0h-1.0zM70.5,81.7h1.0v1.0h-1.0zM68.4,63.3h1.0v1.0h-1.0zM59.2,75.1h1.0v1.0h-1.0zM63.7,54.7h1.0v1.0h-1.0zM67.8,74.1h1.0v1.0h-1.0zM57.3,72.6h1.0v1.0h-1.0zM57.2,79.5h1.0v1.0h-1.0zM52.6,64.4h1.0v1.0h-1.0zM61.9,78.0h1.0v1.0h-1.0zM58.6,69.7h1.0v1.0h-1.0zM53.7,73.7h1.0v1.0h-1.0zM71.9,68.2h1.0v1.0h-1.0zM69.6,87.3h1.0v1.0h-1.0zM54.5,82.6h1.0v1.0h-1.0zM53.2,56.2h1.0v1.0h-1.0zM51.1,69.4h1.0v1.0h-1.0zM58.8,70.4h1.0v1.0h-1.0zM66.3,55.6h1.0v1.0h-1.0zM67.5,63.3h1.0v1.0h-1.0zM56.0,70.6h1.0v1.0h-1.0zM54.6,60.4h1.0v1.0h-1.0zM52.3,73.8h1.0v1.0h-1.0zM63.1,82.7h1.0v1.0h-1.0zM54.4,66.3h1.0v1.0h-1.0zM51.7,78.4h1.0v1.0h-1.0zM58.3,67.4h1.0v1.0h-1.0zM60.0,86.7h1.0v1.0h-1.0zM59.9,86.9h1.0v1.0h-1.0zM57.9,88.2h1.0v1.0h-1.0zM69.9,77.6h1.0v1.0h-1.0zM70.7,80.6h1.0v1.0h-1.0zM63.1,67.3h1.0v1.0h-1.0zM55.8,82.9h1.0v1.0h-1.0zM48.2,79.6h1.0v1.0h-1.0zM62.0,79.4h1.0v1.0h-1.0zM43.2,70.4h1.0v1.0h-1.0zM67.0,70.0h1.0v1.0h-1.0zM66.9,53.2h1.0v1.0h-1.0zM66.9,71.0h1.0v1.0h-1.0zM71.5,60.0h1.0v1.0h-1.0zM66.0,75.1h1.0v1.0h-1.0zM68.6,68.7h1.0v1.0h-1.0zM49.4,96.4h1.0v1.0h-1.0zM55.4,67.5h1.0v1.0h-1.0zM60.5,65.6h1.0v1.0h-1.0zM64.7,95.1h1.0v1.0h-1.0zM59.0,57.9h1.0v1.0h-1.0zM66.2,89.1h1.0v1.0h-1.0zM63.4,88.9h1.0v1.0h-1.0zM53.7,72.6h1.0v1.0h-1.0zM53.0,59.4h1.0v1.0h-1.0zM69.3,71.5h1.0v1.0h-1.0zM77.4,81.4h1.0v1.0h-1.0zM53.0,82.4h1.0v1.0h-1.0zM72.7,84.4h1.0v1.0h-1.0zM49.6,77.1h1.0v1.0h-1.0zM71.9,74.1h1.0v1.0h-1.0zM51.4,84.2h1.0v1.0h-1.0zM63.9,65.6h1.0v1.0h-1.0zM59.0,67.9h1.0v1.0h-1.0zM62.0,77.7h1.0v1.0h-1.0zM67.1,85.2h1.0v1.0h-1.0zM46.9,76.7h1.0v1.0h-1.0zM65.8,82.3h1.0v1.0h-1.0zM69.4,72.8h1.0v1.0h-1.0zM50.2,83.0h1.0v1.0h-1.0zM57.4,52.9h1.0v1.0h-1.0zM69.8,71.1h1.0v1.0h-1.0zM61.3,61.9h1.0v1.0h-1.0zM52.8,62.1h1.0v1.0h-1.0zM56.3,78.8h1.0v1.0h-1.0zM53.6,63.3h1.0v1.0h-1.0zM65.4,76.7h1.0v1.0h-1.0zM43.4,90.6h1.0v1.0h-1.0zM52.7,76.6h1.0v1.0h-1.0zM57.9,90.0h1.0v1.0h-1.0zM53.9,84.8h1.0v1.0h-1.0zM51.4,85.3h1.0v1.0h-1.0zM55.0,70.9h1.0v1.0h-1.0zM73.8,83.0h1.0v1.0h-1.0zM55.0,97.9h1.0v1.0h-1.0zM64.9,68.9h1.0v1.0h-1.0zM68.7,66.1h1.0v1.0h-1.0zM65.6,90.0h1.0v1.0h-1.0zM57.2,68.7h1.0v1.0h-1.0zM61.3,76.5h1.0v1.0h-1.0zM51.0,79.5h1.0v1.0h-1.0zM45.3,67.6h1.0v1.0h-1.0zM57.6,72.5h1.0v1.0h-1.0zM65.6,64.8h1.0v1.0h-1.0z" fill="#222" fill-opacity="0.6"/>
<path d="M104.6,42.9h1.0v1.0h-1.0zM97.4,39.3h1.0v1.0h-1.0zM93.8,43.3h1.0v1.0h-1.0zM95.2,42.7h1.0v1.0h-1.0zM107.1,46.1h1.0v1.0h-1.0zM110.4,43.1h1.0v1.0h-1.0zM94.3,45.0h1.0v1.0h-1.0zM102.6,46.0h1.0v1.0h-1.0zM100.8,46.0h1.0v1.0h-1.0zM105.9,45.2h1.0v1.0h-1.0zM103.9,44.3h1.0v1.0h-1.0zM102.3,43.7h1.0v1.0h-1.0zM107.0,42.2h1.0v1.0h-1.0zM111.4,43.6h1.0v1.0h-1.0zM106.9,43.3h1.0v1.0h-1.0zM99.1,47.9h1.0v1.0h-1.0zM99.4,39.7h1.0v1.0h-1.0zM96.8,41.8h1.0v1.0h-1.0zM113.8,44.6h1.0v1.0h-1.0zM106.8,41.0h1.0v1.0h-1.0zM103.0,44.9h1.0v1.0h-1.0zM111.9,42.2h1.0v1.0h-1.0zM104.5,44.1h1.0v1.0h-1.0zM94.9,42.4h1.0v1.0h-1.0zM99.9,37.1h1.0v1.0h-1.0zM104.5,44.7h1.0v1.0h-1.0zM98.7,39.4h1.0v1.0h-1.0zM109.8,44.4h1.0v1.0h-1.0zM106.8,47.0h1.0v1.0h-1.0zM97.7,44.8h1.0v1.0h-1.0zM99.6,42.7h1.0v1.0h-1.0zM100.5,43.0h1.0v1.0h-1.0zM107.6,43.9h1.0v1.0h-1.0zM100.1,42.2h1.0v1.0h-1.0zM103.2,40.9h1.0v1.0h-1.0zM98.0,42.6h1.0v1.0h-1.0zM97.6,42.4h1.0v1.0h-1.0zM96.9,47.7h1.0v1.0h-1.0zM108.8,44.8h1.0v1.0h-1.0zM100.2,48.4h1.0v1.0h-1.0zM102.9,43.0h1.0v1.0h-1.0zM102.7,43.9h1.0v1.0h-1.0zM109.4,43.7h1.0v1.0h-1.0zM113.7,41.9h1.0v1.0h-1.0zM105.4,40.9h1.0v1.0h-1.0zM111.9,43.1h1.0v1.0h-1.0zM100.5,45.3h1.0v1.0h-1.0zM108.7,40.9h1.0v1.0h-1.0zM99.2,39.3h1.0v1.0h-1.0zM101.8,42.8h1.0v1.0h-1.0zM99.1,41.1h1.0v1.0h-1.0zM98.9,40.9h1.0v1.0h-1.0zM103.8,47.1h1.0v1.0h-1.0zM89.5,41.7h1.0v1.0h-1.0zM98.4,44.0h1.0v1.0h-1.0zM95.3,42.1h1.0v1.0h-1.0zM94.6,44.2h1.0v1.0h-1.0zM101.6,42.6h1.0v1.0h-1.0zM103.3,42.6h1.0v1.0h-1.0zM91.6,43.7h1.0v1.0h-1.0zM102.8,42.8h1.0v1.0h-1.0zM106.6,46.5h1.0v1.0h-1.0zM94.6,40.5h1.0v1.0h-1.0zM109.9,47.3h1.0v1.0h-1.0zM96.8,39.7h1.0v1.0h-1.0zM97.3,41.4h1.0v1.0h-1.0zM91.5,42.2h1.0v1.0h-1.0zM93.6,39.3h1.0v1.0h-1.0zM106.6,41.8h1.0v1.0h-1.0zM100.4,44.5h1.0v1.0h-1.0zM105.9,42.6h1.0v1.0h-1.0zM101.4,41.0h1.0v1.0h-1.0zM111.3,45.5h1.0v1.0h-1.0zM94.4,42.4h1.0v1.0h-1.0zM105.2,44.6h1.0v1.0h-1.0zM111.6,47.4h1.0v1.0h-1.0zM97.8,42.5h1.0v1.0h-1.0zM93.3,43.0h1.0v1.0h-1.0zM101.3,49.8h1.0v1.0h-1.0zM102.0,37.8h1.0v1.0h-1.0z" fill="#111" fill-opacity="0.7"/>
<path d="M87.7,30.1h1.0v1.0h-1.0zM102.9,42.6h1.0v1.0h-1.0zM74.3,35.2h1.0v1.0h-1.0zM74.5,35.8h1.0v1.0h-1.0zM96.1,34.1h1.0v1.0h-1.0zM78.2,58.5h1.0v1.0h-1.0zM60.9,48.3h1.0v1.0h-1.0zM73.6,59.5h1.0v1.0h-1.0zM59.4,54.3h1.0v1.0h-1.0zM104.4,47.4h1.0v1.0h-1.0zM92.5,32.6h1.0v1.0h-1.0zM77.0,34.1h1.0v1.0h-1.0zM70.5,35.2h1.0v1.0h-1.0zM87.8,32.6h1.0v1.0h-1.0zM70.9,62.3h1.0v1.0h-1.0zM61.7,51.9h1.0v1.0h-1.0zM78.6,59.1h1.0v1.0h-1.0zM91.4,52.4h1.0v1.0h-1.0zM60.6,50.6h1.0v1.0h-1.0zM63.2,44.9h1.0v1.0h-1.0zM83.9,54.9h1.0v1.0h-1.0zM90.0,52.1h1.0v1.0h-1.0zM86.4,32.9h1.0v1.0h-1.0zM66.1,68.6h1.0v1.0h-1.0zM74.8,36.0h1.0v1.0h-1.0zM101.9,33.5h1.0v1.0h-1.0zM65.5,40.8h1.0v1.0h-1.0zM95.6,52.4h1.0v1.0h-1.0zM63.4,42.9h1.0v1.0h-1.0zM71.0,36.2h1.0v1.0h-1.0zM80.7,56.5h1.0v1.0h-1.0zM102.1,41.7h1.0v1.0h-1.0zM92.4,52.4h1.0v1.0h-1.0zM84.5,55.9h1.0v1.0h-1.0zM99.1,50.6h1.0v1.0h-1.0zM71.7,33.8h1.0v1.0h-1.0zM87.3,52.9h1.0v1.0h-1.0zM63.7,40.1h1.0v1.0h-1.0zM81.2,34.1h1.0v1.0h-1.0zM99.3,37.4h1.0v1.0h-1.0zM65.7,41.0h1.0v1.0h-1.0zM64.2,41.3h1.0v1.0h-1.0zM94.1,52.4h1.0v1.0h-1.0zM83.3,55.4h1.0v1.0h-1.0zM93.1,33.4h1.0v1.0h-1.0zM95.5,33.4h1.0v1.0h-1.0zM72.4,32.2h1.0v1.0h-1.0zM102.7,43.9h1.0v1.0h-1.0zM99.6,48.5h1.0v1.0h-1.0zM61.5,60.8h1.0v1.0h-1.0zM60.1,48.2h1.0v1.0h-1.0zM65.9,60.7h1.0v1.0h-1.0zM61.4,53.5h1.0v1.0h-1.0zM93.3,29.4h1.0v1.0h-1.0zM85.2,55.0h1.0v1.0h-1.0zM74.6,60.1h1.0v1.0h-1.0zM92.5,51.6h1.0v1.0h-1.0zM84.1,30.5h1.0v1.0h-1.0zM98.5,51.6h1.0v1.0h-1.0zM69.2,61.3h1.0v1.0h-1.0zM64.4,41.3h1.0v1.0h-1.0zM102.2,39.4h1.0v1.0h-1.0zM59.5,50.5h1.0v1.0h-1.0zM71.2,62.9h1.0v1.0h-1.0zM79.5,57.4h1.0v1.0h-1.0zM59.2,47.7h1.0v1.0h-1.0zM83.4,57.4h1.0v1.0h-1.0zM90.5,54.8h1.0v1.0h-1.0zM59.9,37.2h1.0v1.0h-1.0zM104.4,44.2h1.0v1.0h-1.0zM89.5,53.7h1.0v1.0h-1.0zM89.4,32.5h1.0v1.0h-1.0zM111.3,40.4h1.0v1.0h-1.0zM61.3,55.3h1.0v1.0h-1.0zM94.1,51.1h1.0v1.0h-1.0zM104.4,41.4h1.0v1.0h-1.0zM62.0,45.2h1.0v1.0h-1.0zM65.2,40.1h1.0v1.0h-1.0zM72.2,60.0h1.0v1.0h-1.0zM83.6,56.6h1.0v1.0h-1.0zM72.4,62.7h1.0v1.0h-1.0zM102.0,48.7h1.0v1.0h-1.0zM100.5,48.3h1.0v1.0h-1.0zM105.9,44.7h1.0v1.0h-1.0zM85.5,58.6h1.0v1.0h-1.0zM89.4,31.4h1.0v1.0h-1.0zM103.7,40.9h1.0v1.0h-1.0zM104.1,37.7h1.0v1.0h-1.0zM91.5,51.9h1.0v1.0h-1.0zM75.2,35.5h1.0v1.0h-1.0zM62.5,49.6h1.0v1.0h-1.0zM63.7,42.8h1.0v1.0h-1.0zM70.7,36.0h1.0v1.0h-1.0zM71.3,60.7h1.0v1.0h-1.0zM86.9,55.5h1.0v1.0h-1.0zM82.4,55.8h1.0v1.0h-1.0zM99.5,36.9h1.0v1.0h-1.0zM64.8,41.8h1.0v1.0h-1.0zM101.7,38.1h1.0v1.0h-1.0zM70.1,61.8h1.0v1.0h-1.0zM102.5,42.6h1.0v1.0h-1.0zM94.8,51.0h1.0v1.0h-1.0zM92.9,34.0h1.0v1.0h-1.0zM65.7,36.6h1.0v1.0h-1.0zM97.0,51.4h1.0v1.0h-1.0zM104.4,39.3h1.0v1.0h-1.0zM90.3,33.0h1.0v1.0h-1.0zM79.9,33.9h1.0v1.0h-1.0zM91.0,55.9h1.0v1.0h-1.0zM87.4,32.0h1.0v1.0h-1.0zM100.6,48.3h1.0v1.0h-1.0zM80.1,32.7h1.0v1.0h-1.0zM82.6,58.6h1.0v1.0h-1.0zM93.7,33.3h1.0v1.0h-1.0zM102.1,39.2h1.0v1.0h-1.0zM64.4,59.3h1.0v1.0h-1.0zM86.0,54.7h1.0v1.0h-1.0zM83.9,55.3h1.0v1.0h-1.0zM89.7,32.8h1.0v1.0h-1.0zM73.5,59.2h1.0v1.0h-1.0zM94.6,33.7h1.0v1.0h-1.0zM62.4,53.4h1.0v1.0h-1.0zM67.2,61.4h1.0v1.0h-1.0zM94.0,53.0h1.0v1.0h-1.0zM74.3,59.3h1.0v1.0h-1.0zM103.0,46.3h1.0v1.0h-1.0zM84.2,55.0h1.0v1.0h-1.0zM65.0,39.6h1.0v1.0h-1.0zM61.1,53.9h1.0v1.0h-1.0zM76.0,64.3h1.0v1.0h-1.0zM67.8,38.9h1.0v1.0h-1.0zM78.1,34.5h1.0v1.0h-1.0zM100.4,48.2h1.0v1.0h-1.0zM81.8,62.9h1.0v1.0h-1.0zM68.8,38.8h1.0v1.0h-1.0zM61.4,57.2h1.0v1.0h-1.0zM91.6,31.5h1.0v1.0h-1.0zM61.7,52.9h1.0v1.0h-1.0zM82.5,57.4h1.0v1.0h-1.0zM102.2,40.0h1.0v1.0h-1.0zM91.2,34.3h1.0v1.0h-1.0zM63.1,41.9h1.0v1.0h-1.0zM64.0,43.0h1.0v1.0h-1.0zM97.9,51.9h1.0v1.0h-1.0zM80.0,56.9h1.0v1.0h-1.0zM65.5,61.3h1.0v1.0h-1.0zM95.0,30.7h1.0v1.0h-1.0zM62.7,59.3h1.0v1.0h-1.0zM84.2,33.5h1.0v1.0h-1.0zM61.4,59.9h1.0v1.0h-1.0zM63.9,61.1h1.0v1.0h-1.0zM65.8,35.9h1.0v1.0h-1.0zM69.9,62.4h1.0v1.0h-1.0zM87.0,53.3h1.0v1.0h-1.0zM87.4,53.6h1.0v1.0h-1.0zM73.3,59.6h1.0v1.0h-1.0zM102.9,45.5h1.0v1.0h-1.0zM102.3,42.3h1.0v1.0h-1.0zM92.9,33.1h1.0v1.0h-1.0zM67.9,64.9h1.0v1.0h-1.0zM66.3,61.5h1.0v1.0h-1.0zM65.6,34.7h1.0v1.0h-1.0zM80.1,56.4h1.0v1.0h-1.0zM81.7,34.7h1.0v1.0h-1.0zM69.1,33.3h1.0v1.0h-1.0zM72.4,35.0h1.0v1.0h-1.0zM101.9,48.3h1.0v1.0h-1.0zM82.2,34.3h1.0v1.0h-1.0zM77.5,30.8h1.0v1.0h-1.0zM59.7,40.8h1.0v1.0h-1.0zM88.6,31.5h1.0v1.0h-1.0zM79.9,59.2h1.0v1.0h-1.0zM61.5,50.1h1.0v1.0h-1.0zM102.7,39.6h1.0v1.0h-1.0zM99.4,50.3h1.0v1.0h-1.0zM61.3,47.1h1.0v1.0h-1.0zM84.1,32.7h1.0v1.0h-1.0zM65.5,61.5h1.0v1.0h-1.0zM60.4,53.4h1.0v1.0h-1.0zM72.4,59.7h1.0v1.0h-1.0zM67.9,34.9h1.0v1.0h-1.0zM81.2,58.8h1.0v1.0h-1.0zM100.8,37.0h1.0v1.0h-1.0zM70.8,37.5h1.0v1.0h-1.0zM102.6,39.4h1.0v1.0h-1.0zM61.7,62.4h1.0v1.0h-1.0zM68.6,62.1h1.0v1.0h-1.0zM95.1,33.9h1.0v1.0h-1.0zM63.5,45.5h1.0v1.0h-1.0zM66.5,61.4h1.0v1.0h-1.0zM60.1,54.6h1.0v1.0h-1.0zM102.0,42.9h1.0v1.0h-1.0zM76.4,35.8h1.0v1.0h-1.0zM102.0,46.3h1.0v1.0h-1.0zM89.0,54.2h1.0v1.0h-1.0zM102.8,39.5h1.0v1.0h-1.0zM91.9,32.2h1.0v1.0h-1.0zM78.7,34.0h1.0v1.0h-1.0zM84.1,33.8h1.0v1.0h-1.0zM63.2,46.9h1.0v1.0h-1.0zM79.5,33.7h1.0v1.0h-1.0zM60.9,58.5h1.0v1.0h-1.0zM59.9,52.0h1.0v1.0h-1.0zM85.0,55.0h1.0v1.0h-1.0zM78.2,59.4h1.0v1.0h-1.0zM95.6,34.7h1.0v1.0h-1.0zM101.0,50.0h1.0v1.0h-1.0zM76.0,35.9h1.0v1.0h-1.0zM95.4,54.8h1.0v1.0h-1.0zM88.8,56.0h1.0v1.0h-1.0zM83.9,54.7h1.0v1.0h-1.0zM104.8,40.1h1.0v1.0h-1.0zM62.4,55.4h1.0v1.0h-1.0zM69.6,62.1h1.0v1.0h-1.0zM105.4,48.6h1.0v1.0h-1.0zM90.1,53.2h1.0v1.0h-1.0zM82.3,30.3h1.0v1.0h-1.0zM62.5,58.6h1.0v1.0h-1.0zM93.7,51.6h1.0v1.0h-1.0zM64.7,64.6h1.0v1.0h-1.0zM83.8,31.5h1.0v1.0h-1.0zM56.9,56.5h1.0v1.0h-1.0zM65.2,41.6h1.0v1.0h-1.0zM103.0,44.9h1.0v1.0h-1.0zM64.7,41.0h1.0v1.0h-1.0zM69.1,32.0h1.0v1.0h-1.0zM81.0,57.0h1.0v1.0h-1.0zM59.0,45.0h1.0v1.0h-1.0zM97.1,31.3h1.0v1.0h-1.0zM71.0,34.1h1.0v1.0h-1.0zM71.8,60.9h1.0v1.0h-1.0zM57.6,42.6h1.0v1.0h-1.0zM88.8,33.5h1.0v1.0h-1.0zM71.7,60.1h1.0v1.0h-1.0zM90.9,54.4h1.0v1.0h-1.0zM87.8,54.1h1.0v1.0h-1.0zM60.9,53.6h1.0v1.0h-1.0zM60.8,50.1h1.0v1.0h-1.0zM92.0,52.5h1.0v1.0h-1.0zM84.2,59.7h1.0v1.0h-1.0zM83.9,60.6h1.0v1.0h-1.0zM86.3,54.2h1.0v1.0h-1.0zM62.1,44.5h1.0v1.0h-1.0zM63.2,43.2h1.0v1.0h-1.0zM80.1,60.6h1.0v1.0h-1.0zM99.7,51.1h1.0v1.0h-1.0zM80.4,33.6h1.0v1.0h-1.0zM61.0,51.5h1.0v1.0h-1.0zM102.2,45.2h1.0v1.0h-1.0zM61.2,42.1h1.0v1.0h-1.0zM82.8,56.4h1.0v1.0h-1.0zM89.4,33.4h1.0v1.0h-1.0zM76.3,59.5h1.0v1.0h-1.0zM61.6,41.6h1.0v1.0h-1.0zM102.3,40.9h1.0v1.0h-1.0zM62.3,41.4h1.0v1.0h-1.0zM79.2,59.6h1.0v1.0h-1.0zM101.9,47.3h1.0v1.0h-1.0zM77.4,35.6h1.0v1.0h-1.0zM59.8,57.8h1.0v1.0h-1.0zM89.2,52.6h1.0v1.0h-1.0zM89.4,32.7h1.0v1.0h-1.0zM71.1,61.4h1.0v1.0h-1.0zM93.0,34.5h1.0v1.0h-1.0zM62.0,59.1h1.0v1.0h-1.0zM84.8,31.8h1.0v1.0h-1.0zM60.7,54.5h1.0v1.0h-1.0zM61.9,45.6h1.0v1.0h-1.0zM85.1,57.4h1.0v1.0h-1.0zM83.6,33.5h1.0v1.0h-1.0zM97.7,35.5h1.0v1.0h-1.0zM93.9,51.0h1.0v1.0h-1.0zM61.1,47.5h1.0v1.0h-1.0zM75.8,34.7h1.0v1.0h-1.0zM64.8,41.6h1.0v1.0h-1.0zM84.8,58.7h1.0v1.0h-1.0zM74.5,32.1h1.0v1.0h-1.0zM102.4,41.4h1.0v1.0h-1.0zM89.7,30.6h1.0v1.0h-1.0zM77.6,35.5h1.0v1.0h-1.0zM63.7,58.9h1.0v1.0h-1.0zM104.2,42.1h1.0v1.0h-1.0zM92.9,51.7h1.0v1.0h-1.0zM91.4,58.0h1.0v1.0h-1.0zM75.2,59.1h1.0v1.0h-1.0zM80.5,31.6h1.0v1.0h-1.0zM60.3,43.5h1.0v1.0h-1.0zM101.8,38.3h1.0v1.0h-1.0zM70.3,37.1h1.0v1.0h-1.0zM54.5,51.9h1.0v1.0h-1.0zM63.9,61.0h1.0v1.0h-1.0zM96.7,51.3h1.0v1.0h-1.0zM98.1,34.2h1.0v1.0h-1.0zM65.6,38.5h1.0v1.0h-1.0zM81.8,60.4h1.0v1.0h-1.0zM102.1,45.2h1.0v1.0h-1.0zM69.4,35.5h1.0v1.0h-1.0zM60.7,54.8h1.0v1.0h-1.0zM62.5,57.7h1.0v1.0h-1.0zM63.0,60.6h1.0v1.0h-1.0z" fill="#000" fill-opacity="0.85"/>
<path d="M115.3,39.0h1.0v1.0h-1.0zM115.2,44.2h1.0v1.0h-1.0zM108.1,47.0h1.0v1.0h-1.0zM110.6,37.9h1.0v1.0h-1.0zM106.3,53.0h1.0v1.0h-1.0zM103.9,46.0h1.0v1.0h-1.0zM116.7,47.9h1.0v1.0h-1.0zM105.6,43.6h1.0v1.0h-1.0zM113.8,48.6h1.0v1.0h-1.0zM109.1,39.8h1.0v1.0h-1.0zM119.0,50.0h1.0v1.0h-1.0zM115.2,42.3h1.0v1.0h-1.0zM115.4,45.5h1.0v1.0h-1.0zM118.0,39.4h1.0v1.0h-1.0zM113.7,44.3h1.0v1.0h-1.0zM106.3,46.0h1.0v1.0h-1.0zM113.2,43.2h1.0v1.0h-1.0zM115.4,38.6h1.0v1.0h-1.0zM112.7,46.9h1.0v1.0h-1.0zM114.7,49.8h1.0v1.0h-1.0zM105.8,38.2h1.0v1.0h-1.0zM114.4,47.0h1.0v1.0h-1.0zM125.7,47.8h1.0v1.0h-1.0zM107.8,48.6h1.0v1.0h-1.0zM107.9,38.3h1.0v1.0h-1.0zM128.7,46.5h1.0v1.0h-1.0zM117.3,47.5h1.0v1.0h-1.0zM123.9,46.3h1.0v1.0h-1.0zM120.3,40.4h1.0v1.0h-1.0zM104.6,51.4h1.0v1.0h-1.0zM121.8,47.3h1.0v1.0h-1.0zM114.4,45.7h1.0v1.0h-1.0zM108.9,51.9h1.0v1.0h-1.0zM117.0,47.3h1.0v1.0h-1.0zM115.3,49.7h1.0v1.0h-1.0zM116.0,48.4h1.0v1.0h-1.0zM106.0,47.3h1.0v1.0h-1.0zM126.1,42.7h1.0v1.0h-1.0zM112.2,49.0h1.0v1.0h-1.0zM118.7,47.8h1.0v1.0h-1.0zM103.3,47.3h1.0v1.0h-1.0zM105.9,41.3h1.0v1.0h-1.0zM116.3,43.7h1.0v1.0h-1.0zM117.9,59.2h1.0v1.0h-1.0zM117.7,48.3h1.0v1.0h-1.0zM107.6,42.1h1.0v1.0h-1.0zM106.6,42.6h1.0v1.0h-1.0zM106.4,42.0h1.0v1.0h-1.0zM111.7,40.5h1.0v1.0h-1.0zM104.5,38.9h1.0v1.0h-1.0zM115.7,45.3h1.0v1.0h-1.0zM119.2,49.7h1.0v1.0h-1.0zM111.0,48.0h1.0v1.0h-1.0zM104.4,55.3h1.0v1.0h-1.0zM120.2,44.0h1.0v1.0h-1.0zM106.0,46.7h1.0v1.0h-1.0zM101.8,41.5h1.0v1.0h-1.0zM117.5,45.3h1.0v1.0h-1.0zM110.1,49.3h1.0v1.0h-1.0zM106.8,46.3h1.0v1.0h-1.0zM110.0,41.2h1.0v1.0h-1.0zM115.8,40.5h1.0v1.0h-1.0zM124.4,42.4h1.0v1.0h-1.0zM124.9,40.1h1.0v1.0h-1.0zM116.6,39.6h1.0v1.0h-1.0zM105.0,45.7h1.0v1.0h-1.0zM117.1,39.3h1.0v1.0h-1.0zM120.1,41.4h1.0v1.0h-1.0zM113.8,46.7h1.0v1.0h-1.0zM116.6,36.9h1.0v1.0h-1.0zM122.7,47.5h1.0v1.0h-1.0zM110.4,40.4h1.0v1.0h-1.0zM102.8,38.9h1.0v1.0h-1.0zM116.3,43.5h1.0v1.0h-1.0zM106.2,42.6h1.0v1.0h-1.0zM122.4,43.5h1.0v1.0h-1.0zM109.5,51.1h1.0v1.0h-1.0zM115.8,45.2h1.0v1.0h-1.0zM109.4,38.0h1.0v1.0h-1.0zM106.0,42.8h1.0v1.0h-1.0zM111.7,46.6h1.0v1.0h-1.0zM116.3,46.0h1.0v1.0h-1.0zM114.3,40.5h1.0v1.0h-1.0zM100.1,42.7h1.0v1.0h-1.0zM107.3,42.1h1.0v1.0h-1.0zM111.4,39.4h1.0v1.0h-1.0zM106.3,44.5h1.0v1.0h-1.0zM113.7,42.0h1.0v1.0h-1.0zM116.0,44.0h1.0v1.0h-1.0zM106.9,45.2h1.0v1.0h-1.0zM124.3,42.0h1.0v1.0h-1.0zM120.0,51.2h1.0v1.0h-1.0zM122.0,41.3h1.0v1.0h-1.0zM125.1,45.5h1.0v1.0h-1.0zM111.5,44.0h1.0v1.0h-1.0zM116.6,45.2h1.0v1.0h-1.0zM111.9,50.8h1.0v1.0h-1.0zM108.7,40.3h1.0v1.0h-1.0zM117.8,48.2h1.0v1.0h-1.0zM119.6,40.2h1.0v1.0h-1.0zM119.5,47.2h1.0v1.0h-1.0zM123.6,39.4h1.0v1.0h-1.0zM114.3,43.8h1.0v1.0h-1.0zM103.5,41.8h1.0v1.0h-1.0zM119.8,42.9h1.0v1.0h-1.0zM108.7,48.9h1.0v1.0h-1.0zM118.9,49.4h1.0v1.0h-1.0zM108.3,44.7h1.0v1.0h-1.0zM119.2,42.0h1.0v1.0h-1.0zM108.5,48.7h1.0v1.0h-1.0zM122.4,39.8h1.0v1.0h-1.0zM97.4,38.5h1.0v1.0h-1.0zM106.9,44.4h1.0v1.0h-1.0zM116.7,44.3h1.0v1.0h-1.0zM108.8,45.7h1.0v1.0h-1.0zM107.2,44.8h1.0v1.0h-1.0zM109.2,57.1h1.0v1.0h-1.0zM117.9,41.2h1.0v1.0h-1.0zM107.0,43.0h1.0v1.0h-1.0zM103.1,41.7h1.0v1.0h-1.0zM108.6,49.0h1.0v1.0h-1.0zM110.4,41.4h1.0v1.0h-1.0zM105.0,39.7h1.0v1.0h-1.0zM112.6,44.0h1.0v1.0h-1.0zM119.8,42.2h1.0v1.0h-1.0zM119.4,46.2h1.0v1.0h-1.0zM113.0,36.0h1.0v1.0h-1.0zM105.3,48.3h1.0v1.0h-1.0zM121.4,45.9h1.0v1.0h-1.0zM117.6,43.2h1.0v1.0h-1.0zM110.8,42.0h1.0v1.0h-1.0zM118.8,46.5h1.0v1.0h-1.0zM111.6,43.5h1.0v1.0h-1.0zM116.3,46.5h1.0v1.0h-1.0zM108.0,52.7h1.0v1.0h-1.0zM114.5,45.0h1.0v1.0h-1.0zM121.9,49.6h1.0v1.0h-1.0zM112.5,47.4h1.0v1.0h-1.0zM106.6,42.1h1.0v1.0h-1.0zM99.4,50.5h1.0v1.0h-1.0zM101.6,48.1h1.0v1.0h-1.0zM108.0,40.6h1.0v1.0h-1.0zM111.8,46.2h1.0v1.0h-1.0zM116.7,53.0h1.0v1.0h-1.0zM115.2,49.0h1.0v1.0h-1.0zM109.4,48.2h1.0v1.0h-1.0zM113.9,42.9h1.0v1.0h-1.0zM112.4,44.7h1.0v1.0h-1.0zM114.1,46.8h1.0v1.0h-1.0zM109.9,41.7h1.0v1.0h-1.0z" fill="#111" fill-opacity="0.75"/>
<path d="M127.2,62.5h1.0v1.0h-1.0zM119.8,58.2h1.0v1.0h-1.0zM108.9,97.7h1.0v1.0h-1.0zM132.4,65.4h1.0v1.0h-1.0zM109.5,86.9h1.0v1.0h-1.0zM119.1,110.5h1.0v1.0h-1.0zM112.3,93.3h1.0v1.0h-1.0zM110.9,87.0h1.0v1.0h-1.0zM121.1,62.4h1.0v1.0h-1.0zM134.0,66.2h1.0v1.0h-1.0zM121.6,60.8h1.0v1.0h-1.0zM124.7,109.9h1.0v1.0h-1.0zM135.5,77.3h1.0v1.0h-1.0zM130.6,100.5h1.0v1.0h-1.0zM130.4,98.6h1.0v1.0h-1.0zM112.7,68.1h1.0v1.0h-1.0zM129.5,63.5h1.0v1.0h-1.0zM112.1,89.6h1.0v1.0h-1.0zM122.8,112.6h1.0v1.0h-1.0zM110.9,77.4h1.0v1.0h-1.0zM127.9,60.8h1.0v1.0h-1.0zM111.8,71.9h1.0v1.0h-1.0zM112.7,68.5h1.0v1.0h-1.0zM123.2,57.5h1.0v1.0h-1.0zM124.6,109.1h1.0v1.0h-1.0zM133.0,68.5h1.0v1.0h-1.0zM119.6,109.6h1.0v1.0h-1.0zM132.2,64.2h1.0v1.0h-1.0zM111.2,67.1h1.0v1.0h-1.0zM134.2,75.8h1.0v1.0h-1.0zM111.7,96.9h1.0v1.0h-1.0zM112.7,98.5h1.0v1.0h-1.0zM131.1,92.8h1.0v1.0h-1.0zM135.0,79.4h1.0v1.0h-1.0zM112.8,64.1h1.0v1.0h-1.0zM126.7,62.6h1.0v1.0h-1.0zM135.2,84.8h1.0v1.0h-1.0zM132.1,94.4h1.0v1.0h-1.0zM116.1,106.1h1.0v1.0h-1.0zM129.9,98.5h1.0v1.0h-1.0zM133.9,65.0h1.0v1.0h-1.0zM117.1,105.8h1.0v1.0h-1.0zM110.6,88.8h1.0v1.0h-1.0zM112.2,90.8h1.0v1.0h-1.0zM123.6,111.1h1.0v1.0h-1.0zM133.5,92.3h1.0v1.0h-1.0zM123.4,58.9h1.0v1.0h-1.0zM119.1,110.5h1.0v1.0h-1.0zM113.8,101.6h1.0v1.0h-1.0zM127.8,108.5h1.0v1.0h-1.0zM117.3,62.3h1.0v1.0h-1.0zM135.4,77.5h1.0v1.0h-1.0zM111.0,77.5h1.0v1.0h-1.0zM108.7,90.2h1.0v1.0h-1.0zM112.7,67.3h1.0v1.0h-1.0zM113.9,64.7h1.0v1.0h-1.0zM134.5,82.5h1.0v1.0h-1.0zM113.4,64.2h1.0v1.0h-1.0zM129.4,104.0h1.0v1.0h-1.0zM110.7,95.9h1.0v1.0h-1.0zM116.8,63.2h1.0v1.0h-1.0zM116.2,102.9h1.0v1.0h-1.0zM116.7,104.3h1.0v1.0h-1.0zM129.9,64.0h1.0v1.0h-1.0zM115.1,105.9h1.0v1.0h-1.0zM133.6,83.3h1.0v1.0h-1.0zM129.9,101.9h1.0v1.0h-1.0zM130.9,101.8h1.0v1.0h-1.0zM118.6,59.5h1.0v1.0h-1.0zM114.3,98.8h1.0v1.0h-1.0zM108.1,89.3h1.0v1.0h-1.0zM134.0,74.7h1.0v1.0h-1.0zM132.9,91.6h1.0v1.0h-1.0zM112.3,70.7h1.0v1.0h-1.0zM134.1,66.5h1.0v1.0h-1.0zM116.2,60.6h1.0v1.0h-1.0zM128.2,106.1h1.0v1.0h-1.0zM129.7,101.8h1.0v1.0h-1.0zM127.2,106.5h1.0v1.0h-1.0zM125.5,111.1h1.0v1.0h-1.0zM128.3,105.7h1.0v1.0h-1.0zM109.6,92.6h1.0v1.0h-1.0zM134.7,88.1h1.0v1.0h-1.0zM133.9,73.9h1.0v1.0h-1.0zM128.1,107.7h1.0v1.0h-1.0zM132.3,63.6h1.0v1.0h-1.0zM127.8,109.9h1.0v1.0h-1.0zM123.1,111.0h1.0v1.0h-1.0zM109.3,80.4h1.0v1.0h-1.0zM131.9,68.2h1.0v1.0h-1.0zM129.5,102.7h1.0v1.0h-1.0zM108.4,80.6h1.0v1.0h-1.0zM131.1,95.3h1.0v1.0h-1.0zM110.9,74.6h1.0v1.0h-1.0zM111.3,89.4h1.0v1.0h-1.0zM127.8,58.4h1.0v1.0h-1.0zM130.0,101.6h1.0v1.0h-1.0zM109.1,82.9h1.0v1.0h-1.0zM119.8,110.2h1.0v1.0h-1.0zM113.4,94.4h1.0v1.0h-1.0zM120.8,60.5h1.0v1.0h-1.0zM112.8,94.6h1.0v1.0h-1.0zM117.4,111.8h1.0v1.0h-1.0zM110.3,72.5h1.0v1.0h-1.0zM128.2,107.0h1.0v1.0h-1.0zM123.3,61.9h1.0v1.0h-1.0zM133.8,87.4h1.0v1.0h-1.0zM116.0,103.8h1.0v1.0h-1.0zM116.2,62.8h1.0v1.0h-1.0zM114.3,105.4h1.0v1.0h-1.0zM136.1,89.6h1.0v1.0h-1.0zM121.3,62.3h1.0v1.0h-1.0zM128.7,101.7h1.0v1.0h-1.0zM132.9,81.9h1.0v1.0h-1.0zM117.7,107.8h1.0v1.0h-1.0zM131.0,96.0h1.0v1.0h-1.0zM133.0,66.6h1.0v1.0h-1.0zM111.2,90.2h1.0v1.0h-1.0zM112.7,92.4h1.0v1.0h-1.0zM118.9,62.9h1.0v1.0h-1.0zM132.7,71.3h1.0v1.0h-1.0zM113.5,66.8h1.0v1.0h-1.0zM109.4,78.7h1.0v1.0h-1.0zM132.4,84.9h1.0v1.0h-1.0zM124.5,109.7h1.0v1.0h-1.0zM115.0,99.1h1.0v1.0h-1.0zM133.3,93.4h1.0v1.0h-1.0zM132.7,66.5h1.0v1.0h-1.0zM110.0,73.5h1.0v1.0h-1.0zM133.2,74.4h1.0v1.0h-1.0zM123.5,111.8h1.0v1.0h-1.0zM128.0,108.2h1.0v1.0h-1.0zM113.1,67.5h1.0v1.0h-1.0zM117.3,108.0h1.0v1.0h-1.0zM129.1,108.3h1.0v1.0h-1.0zM119.0,58.8h1.0v1.0h-1.0zM130.2,96.4h1.0v1.0h-1.0zM111.9,88.2h1.0v1.0h-1.0zM135.1,82.0h1.0v1.0h-1.0zM111.7,84.6h1.0v1.0h-1.0zM110.4,85.2h1.0v1.0h-1.0zM107.8,72.7h1.0v1.0h-1.0zM124.1,112.2h1.0v1.0h-1.0zM133.0,81.3h1.0v1.0h-1.0zM114.0,100.6h1.0v1.0h-1.0zM112.6,64.9h1.0v1.0h-1.0zM131.6,91.6h1.0v1.0h-1.0zM124.4,61.7h1.0v1.0h-1.0zM137.4,73.4h1.0v1.0h-1.0zM114.4,63.1h1.0v1.0h-1.0zM122.7,62.2h1.0v1.0h-1.0zM128.4,62.2h1.0v1.0h-1.0zM131.6,67.1h1.0v1.0h-1.0zM111.6,66.6h1.0v1.0h-1.0zM129.7,100.6h1.0v1.0h-1.0zM112.7,92.3h1.0v1.0h-1.0zM111.5,91.0h1.0v1.0h-1.0zM128.2,107.9h1.0v1.0h-1.0zM109.7,87.8h1.0v1.0h-1.0zM126.2,108.9h1.0v1.0h-1.0zM118.3,109.2h1.0v1.0h-1.0zM133.8,92.4h1.0v1.0h-1.0zM122.3,61.9h1.0v1.0h-1.0zM116.2,103.5h1.0v1.0h-1.0zM133.2,86.4h1.0v1.0h-1.0zM132.3,87.5h1.0v1.0h-1.0zM111.4,68.9h1.0v1.0h-1.0zM132.0,100.4h1.0v1.0h-1.0zM134.0,63.1h1.0v1.0h-1.0zM114.6,99.8h1.0v1.0h-1.0zM118.6,109.6h1.0v1.0h-1.0zM128.5,63.5h1.0v1.0h-1.0zM132.2,98.2h1.0v1.0h-1.0zM115.3,102.0h1.0v1.0h-1.0zM132.2,88.1h1.0v1.0h-1.0zM120.4,62.0h1.0v1.0h-1.0zM111.2,79.6h1.0v1.0h-1.0zM113.2,65.1h1.0v1.0h-1.0zM126.3,61.3h1.0v1.0h-1.0zM134.0,81.1h1.0v1.0h-1.0zM113.7,66.4h1.0v1.0h-1.0zM132.9,75.3h1.0v1.0h-1.0zM116.6,107.9h1.0v1.0h-1.0zM109.9,88.1h1.0v1.0h-1.0zM115.5,103.3h1.0v1.0h-1.0zM127.4,62.7h1.0v1.0h-1.0zM126.3,62.5h1.0v1.0h-1.0zM128.5,102.5h1.0v1.0h-1.0zM124.1,60.3h1.0v1.0h-1.0zM132.7,61.4h1.0v1.0h-1.0zM114.2,98.3h1.0v1.0h-1.0zM128.3,109.2h1.0v1.0h-1.0zM132.1,63.3h1.0v1.0h-1.0zM109.8,66.9h1.0v1.0h-1.0zM131.0,100.1h1.0v1.0h-1.0zM110.5,66.7h1.0v1.0h-1.0zM114.3,104.9h1.0v1.0h-1.0zM114.0,102.8h1.0v1.0h-1.0zM127.9,104.5h1.0v1.0h-1.0zM112.7,95.3h1.0v1.0h-1.0zM136.8,83.0h1.0v1.0h-1.0zM133.2,85.4h1.0v1.0h-1.0zM111.4,69.7h1.0v1.0h-1.0zM133.3,79.0h1.0v1.0h-1.0zM130.2,102.1h1.0v1.0h-1.0zM111.1,86.0h1.0v1.0h-1.0zM130.8,93.8h1.0v1.0h-1.0zM130.3,98.6h1.0v1.0h-1.0zM113.3,66.6h1.0v1.0h-1.0zM136.9,77.2h1.0v1.0h-1.0zM133.4,83.4h1.0v1.0h-1.0zM112.5,69.3h1.0v1.0h-1.0zM133.6,87.7h1.0v1.0h-1.0zM132.2,95.1h1.0v1.0h-1.0zM110.7,67.2h1.0v1.0h-1.0zM133.2,94.4h1.0v1.0h-1.0zM121.7,60.1h1.0v1.0h-1.0zM111.5,77.0h1.0v1.0h-1.0zM111.2,73.4h1.0v1.0h-1.0zM137.1,80.0h1.0v1.0h-1.0zM138.0,78.3h1.0v1.0h-1.0zM111.0,85.0h1.0v1.0h-1.0zM110.4,75.4h1.0v1.0h-1.0zM135.3,80.6h1.0v1.0h-1.0zM134.3,78.7h1.0v1.0h-1.0zM133.5,83.6h1.0v1.0h-1.0zM134.9,68.5h1.0v1.0h-1.0zM128.6,106.0h1.0v1.0h-1.0zM114.0,101.3h1.0v1.0h-1.0zM129.1,60.3h1.0v1.0h-1.0zM133.6,77.4h1.0v1.0h-1.0zM134.7,64.8h1.0v1.0h-1.0zM135.6,87.2h1.0v1.0h-1.0zM133.3,76.8h1.0v1.0h-1.0zM114.5,62.3h1.0v1.0h-1.0zM129.6,98.7h1.0v1.0h-1.0zM133.2,71.1h1.0v1.0h-1.0zM113.0,95.8h1.0v1.0h-1.0zM118.5,59.4h1.0v1.0h-1.0zM108.5,78.6h1.0v1.0h-1.0zM111.5,101.2h1.0v1.0h-1.0zM130.5,101.1h1.0v1.0h-1.0zM130.2,105.9h1.0v1.0h-1.0zM132.4,91.0h1.0v1.0h-1.0zM108.8,77.0h1.0v1.0h-1.0zM111.5,79.2h1.0v1.0h-1.0zM123.5,110.2h1.0v1.0h-1.0zM111.8,72.3h1.0v1.0h-1.0zM113.6,97.5h1.0v1.0h-1.0zM112.5,93.3h1.0v1.0h-1.0zM133.3,86.9h1.0v1.0h-1.0zM133.3,83.4h1.0v1.0h-1.0zM134.6,81.3h1.0v1.0h-1.0zM113.5,66.3h1.0v1.0h-1.0zM111.2,79.4h1.0v1.0h-1.0zM111.8,65.6h1.0v1.0h-1.0zM111.0,76.4h1.0v1.0h-1.0zM111.3,78.9h1.0v1.0h-1.0zM127.8,106.8h1.0v1.0h-1.0zM110.8,83.4h1.0v1.0h-1.0zM134.8,73.1h1.0v1.0h-1.0zM113.4,97.1h1.0v1.0h-1.0zM127.8,58.9h1.0v1.0h-1.0zM117.7,59.9h1.0v1.0h-1.0zM112.4,70.4h1.0v1.0h-1.0zM133.6,74.0h1.0v1.0h-1.0zM109.7,82.7h1.0v1.0h-1.0zM110.7,76.0h1.0v1.0h-1.0zM126.9,62.9h1.0v1.0h-1.0zM116.5,109.4h1.0v1.0h-1.0zM129.4,107.9h1.0v1.0h-1.0zM115.1,101.0h1.0v1.0h-1.0zM111.8,68.2h1.0v1.0h-1.0zM110.3,89.1h1.0v1.0h-1.0zM135.7,78.6h1.0v1.0h-1.0zM117.3,109.6h1.0v1.0h-1.0zM117.2,107.7h1.0v1.0h-1.0zM123.4,61.5h1.0v1.0h-1.0zM133.0,70.2h1.0v1.0h-1.0zM131.1,98.7h1.0v1.0h-1.0zM134.0,75.3h1.0v1.0h-1.0zM137.4,81.8h1.0v1.0h-1.0zM111.8,95.4h1.0v1.0h-1.0zM116.9,59.0h1.0v1.0h-1.0zM126.5,108.7h1.0v1.0h-1.0zM114.4,97.3h1.0v1.0h-1.0zM109.6,83.7h1.0v1.0h-1.0zM112.9,94.8h1.0v1.0h-1.0zM113.2,97.2h1.0v1.0h-1.0zM122.2,61.4h1.0v1.0h-1.0zM111.5,70.8h1.0v1.0h-1.0zM133.9,73.2h1.0v1.0h-1.0zM133.5,76.0h1.0v1.0h-1.0zM121.6,112.7h1.0v1.0h-1.0zM116.6,103.7h1.0v1.0h-1.0zM111.7,84.8h1.0v1.0h-1.0zM132.5,89.8h1.0v1.0h-1.0zM115.6,62.2h1.0v1.0h-1.0zM113.2,102.8h1.0v1.0h-1.0zM111.2,73.8h1.0v1.0h-1.0zM124.7,109.9h1.0v1.0h-1.0zM131.4,59.9h1.0v1.0h-1.0zM123.4,62.2h1.0v1.0h-1.0zM114.1,98.8h1.0v1.0h-1.0zM129.3,109.4h1.0v1.0h-1.0zM127.4,106.7h1.0v1.0h-1.0zM132.0,94.2h1.0v1.0h-1.0zM134.2,75.1h1.0v1.0h-1.0zM125.0,109.7h1.0v1.0h-1.0zM134.7,84.9h1.0v1.0h-1.0zM112.1,67.5h1.0v1.0h-1.0zM135.7,73.9h1.0v1.0h-1.0zM118.3,62.3h1.0v1.0h-1.0zM109.1,68.9h1.0v1.0h-1.0zM129.3,99.9h1.0v1.0h-1.0z" fill="#000" fill-opacity="0.85"/>
<path d="M62.50,52.00 C62.67,49.53 63.02,44.97 64.60,42.50 C66.18,40.03 68.82,38.53 72.00,37.20 C75.18,35.87 79.82,34.85 83.70,34.50 C87.58,34.15 92.38,34.30 95.30,35.10 C98.22,35.90 100.12,37.45 101.20,39.30 C102.28,41.15 102.62,44.43 101.80,46.20 C100.98,47.97 98.97,48.75 96.30,49.90 C93.63,51.05 89.32,51.68 85.80,53.10 C82.28,54.52 78.03,57.17 75.20,58.40 C72.37,59.63 70.73,60.68 68.80,60.50 C66.87,60.32 64.65,58.72 63.60,57.30 C62.55,55.88 62.33,54.47 62.50,52.00Z" fill="#fafafa" stroke="#8a8a8a" stroke-width="0.5"/>
<path d="M64.89,51.25 C65.04,49.13 65.34,45.21 66.70,43.09 C68.06,40.98 70.32,39.69 73.05,38.55 C75.78,37.40 79.76,36.53 83.09,36.23 C86.42,35.93 90.54,36.06 93.05,36.74 C95.55,37.43 97.18,38.76 98.11,40.35 C99.04,41.94 99.33,44.75 98.63,46.27 C97.93,47.79 96.19,48.46 93.91,49.45 C91.62,50.43 87.91,50.98 84.89,52.19 C81.87,53.41 78.23,55.68 75.80,56.74 C73.36,57.80 71.96,58.70 70.30,58.55 C68.64,58.39 66.74,57.01 65.84,55.80 C64.94,54.58 64.75,53.37 64.89,51.25Z" fill="#f0f0f0" stroke="#8a8a8a" stroke-width="0.5"/>
<path d="M67.29,50.50 C67.41,48.73 67.66,45.46 68.79,43.69 C69.93,41.92 71.82,40.85 74.10,39.89 C76.38,38.94 79.70,38.21 82.48,37.96 C85.26,37.71 88.70,37.81 90.80,38.39 C92.89,38.96 94.25,40.07 95.02,41.40 C95.80,42.72 96.04,45.08 95.45,46.34 C94.87,47.61 93.42,48.17 91.51,48.99 C89.60,49.82 86.51,50.27 83.99,51.29 C81.47,52.30 78.42,54.20 76.39,55.09 C74.36,55.97 73.19,56.72 71.80,56.59 C70.42,56.46 68.83,55.31 68.08,54.30 C67.32,53.28 67.17,52.27 67.29,50.50Z" fill="#dedede" stroke="#8a8a8a" stroke-width="0.5"/>
<path d="M69.68,49.75 C69.78,48.33 69.98,45.70 70.89,44.29 C71.80,42.87 73.31,42.00 75.15,41.24 C76.98,40.47 79.64,39.89 81.87,39.69 C84.11,39.48 86.87,39.57 88.54,40.03 C90.22,40.49 91.31,41.38 91.94,42.45 C92.56,43.51 92.75,45.40 92.28,46.41 C91.81,47.43 90.65,47.88 89.12,48.54 C87.58,49.20 85.10,49.57 83.08,50.38 C81.06,51.19 78.61,52.72 76.98,53.43 C75.36,54.14 74.42,54.74 73.31,54.63 C72.19,54.53 70.92,53.61 70.31,52.80 C69.71,51.98 69.59,51.17 69.68,49.75Z" fill="#c0c0c0" stroke="#8a8a8a" stroke-width="0.5"/>
<path d="M72.08,49.00 C72.15,47.93 72.30,45.95 72.99,44.88 C73.67,43.81 74.81,43.16 76.19,42.58 C77.57,42.01 79.58,41.56 81.26,41.41 C82.95,41.26 85.03,41.33 86.29,41.67 C87.55,42.02 88.38,42.69 88.85,43.49 C89.32,44.30 89.46,45.72 89.11,46.48 C88.75,47.25 87.88,47.59 86.72,48.09 C85.57,48.59 83.70,48.86 82.17,49.47 C80.65,50.09 78.81,51.24 77.58,51.77 C76.35,52.30 75.64,52.76 74.81,52.68 C73.97,52.60 73.01,51.91 72.55,51.29 C72.10,50.68 72.00,50.07 72.08,49.00Z" fill="#a0a0a0" stroke="#8a8a8a" stroke-width="0.5"/>
<path d="M74.47,48.25 C74.52,47.53 74.62,46.19 75.08,45.48 C75.55,44.76 76.31,44.32 77.24,43.93 C78.17,43.54 79.52,43.24 80.65,43.14 C81.79,43.04 83.19,43.08 84.04,43.32 C84.89,43.55 85.44,44.00 85.76,44.54 C86.07,45.08 86.17,46.04 85.93,46.55 C85.70,47.07 85.11,47.30 84.33,47.63 C83.55,47.97 82.29,48.15 81.27,48.57 C80.24,48.98 79.00,49.75 78.18,50.11 C77.35,50.47 76.87,50.78 76.31,50.73 C75.74,50.67 75.10,50.20 74.79,49.79 C74.49,49.38 74.42,48.97 74.47,48.25Z" fill="#c8c8c8" stroke="#8a8a8a" stroke-width="0.5"/>
<path d="M122.04,62.50 C123.62,62.50 125.70,62.83 127.20,63.50 C128.71,64.17 130.15,64.92 131.07,66.50 C131.99,68.08 132.43,70.75 132.71,73.00 C132.98,75.25 132.91,77.17 132.71,80.00 C132.51,82.83 132.10,86.73 131.50,90.00 C130.90,93.27 129.88,96.77 129.09,99.60 C128.31,102.43 127.88,105.18 126.77,107.00 C125.67,108.82 123.91,110.33 122.47,110.50 C121.04,110.67 119.35,109.82 118.17,108.00 C117.00,106.18 116.35,102.60 115.42,99.60 C114.49,96.60 113.20,93.27 112.58,90.00 C111.97,86.73 111.79,83.00 111.72,80.00 C111.65,77.00 111.72,74.33 112.15,72.00 C112.58,69.67 113.37,67.42 114.30,66.00 C115.23,64.58 116.45,64.08 117.74,63.50 C119.03,62.92 120.47,62.50 122.04,62.50Z" fill="#f8f8f8" stroke="#8a8a8a" stroke-width="0.5"/>
<path d="M122.04,65.97 C123.39,65.97 125.17,66.26 126.47,66.83 C127.76,67.40 129.00,68.05 129.79,69.40 C130.57,70.76 130.96,73.05 131.19,74.98 C131.42,76.91 131.36,78.56 131.19,80.99 C131.02,83.42 130.67,86.77 130.16,89.58 C129.64,92.38 128.77,95.38 128.09,97.81 C127.41,100.25 127.04,102.61 126.10,104.17 C125.15,105.73 123.64,107.03 122.41,107.17 C121.17,107.31 119.72,106.58 118.71,105.03 C117.71,103.47 117.15,100.39 116.35,97.81 C115.55,95.24 114.45,92.38 113.92,89.58 C113.39,86.77 113.24,83.57 113.18,80.99 C113.12,78.42 113.18,76.13 113.55,74.12 C113.92,72.12 114.59,70.19 115.39,68.97 C116.19,67.76 117.24,67.33 118.35,66.83 C119.45,66.33 120.68,65.97 122.04,65.97Z" fill="#eeeeee" stroke="#8a8a8a" stroke-width="0.5"/>
<path d="M122.03,69.44 C123.16,69.44 124.65,69.68 125.73,70.16 C126.81,70.64 127.84,71.17 128.50,72.31 C129.16,73.44 129.48,75.35 129.67,76.97 C129.87,78.58 129.82,79.95 129.67,81.98 C129.53,84.01 129.24,86.81 128.81,89.15 C128.38,91.49 127.65,94.00 127.08,96.03 C126.52,98.06 126.21,100.03 125.42,101.33 C124.63,102.64 123.37,103.72 122.34,103.84 C121.31,103.96 120.10,103.35 119.26,102.05 C118.41,100.75 117.95,98.18 117.28,96.03 C116.62,93.88 115.69,91.49 115.25,89.15 C114.81,86.81 114.69,84.13 114.63,81.98 C114.58,79.83 114.63,77.92 114.94,76.25 C115.25,74.58 115.82,72.97 116.48,71.95 C117.15,70.93 118.02,70.58 118.95,70.16 C119.87,69.74 120.90,69.44 122.03,69.44Z" fill="#e2e2e2" stroke="#8a8a8a" stroke-width="0.5"/>
<path d="M122.02,72.91 C122.93,72.91 124.13,73.10 124.99,73.49 C125.86,73.87 126.69,74.30 127.22,75.21 C127.74,76.12 128.00,77.66 128.16,78.95 C128.31,80.24 128.27,81.35 128.16,82.97 C128.04,84.60 127.81,86.85 127.46,88.72 C127.12,90.60 126.53,92.62 126.08,94.24 C125.63,95.87 125.38,97.46 124.74,98.50 C124.11,99.54 123.10,100.42 122.27,100.51 C121.45,100.61 120.47,100.12 119.80,99.08 C119.12,98.03 118.75,95.97 118.22,94.24 C117.68,92.52 116.94,90.60 116.58,88.72 C116.23,86.85 116.13,84.70 116.09,82.97 C116.05,81.25 116.09,79.72 116.34,78.38 C116.58,77.03 117.04,75.74 117.57,74.92 C118.11,74.11 118.81,73.82 119.55,73.49 C120.29,73.15 121.12,72.91 122.02,72.91Z" fill="#d2d2d2" stroke="#8a8a8a" stroke-width="0.5"/>
<path d="M122.02,76.38 C122.70,76.38 123.60,76.53 124.25,76.82 C124.91,77.11 125.53,77.43 125.93,78.12 C126.33,78.80 126.52,79.96 126.64,80.93 C126.76,81.91 126.73,82.74 126.64,83.97 C126.55,85.19 126.38,86.88 126.12,88.30 C125.86,89.72 125.42,91.23 125.07,92.46 C124.73,93.69 124.55,94.88 124.07,95.67 C123.59,96.45 122.83,97.11 122.20,97.18 C121.58,97.26 120.85,96.89 120.34,96.10 C119.83,95.31 119.55,93.76 119.15,92.46 C118.74,91.16 118.19,89.72 117.92,88.30 C117.65,86.88 117.58,85.27 117.55,83.97 C117.52,82.67 117.55,81.51 117.73,80.50 C117.92,79.49 118.26,78.51 118.66,77.90 C119.07,77.29 119.60,77.07 120.15,76.82 C120.71,76.56 121.33,76.38 122.02,76.38Z" fill="#c4c4c4" stroke="#8a8a8a" stroke-width="0.5"/>
<path d="M122.01,79.85 C122.47,79.85 123.08,79.95 123.52,80.15 C123.96,80.34 124.38,80.56 124.65,81.02 C124.91,81.48 125.04,82.26 125.12,82.92 C125.20,83.57 125.18,84.13 125.12,84.96 C125.06,85.78 124.95,86.92 124.77,87.88 C124.60,88.83 124.30,89.85 124.07,90.67 C123.84,91.50 123.71,92.30 123.39,92.83 C123.07,93.36 122.56,93.81 122.14,93.85 C121.72,93.90 121.23,93.65 120.88,93.12 C120.54,92.60 120.35,91.55 120.08,90.67 C119.81,89.80 119.43,88.83 119.25,87.88 C119.07,86.92 119.02,85.83 119.00,84.96 C118.98,84.08 119.00,83.31 119.13,82.62 C119.25,81.94 119.48,81.29 119.75,80.88 C120.03,80.46 120.38,80.32 120.76,80.15 C121.13,79.98 121.55,79.85 122.01,79.85Z" fill="#dedede" stroke="#8a8a8a" stroke-width="0.5"/>
<path d="M41.8,23.7 H150.0 V114.2 H41.8 Z" fill="none" stroke="#000" stroke-width="2.0"/>
<path d="M40.0,114.2h1.8M40.0,111.9h1.8M40.0,109.7h1.8M40.0,107.4h1.8M40.0,105.2h1.8M40.0,102.9h1.8M40.0,100.6h1.8M40.0,98.4h1.8M40.0,96.1h1.8M40.0,93.8h1.8M40.0,91.6h1.8M40.0,89.3h1.8M40.0,87.1h1.8M40.0,84.8h1.8M40.0,82.5h1.8M40.0,80.3h1.8M40.0,78.0h1.8M40.0,75.7h1.8M40.0,73.5h1.8M40.0,71.2h1.8M40.0,69.0h1.8M40.0,66.7h1.8M40.0,64.4h1.8M40.0,62.2h1.8M40.0,59.9h1.8M40.0,57.6h1.8M40.0,55.4h1.8M40.0,53.1h1.8M40.0,50.9h1.8M40.0,48.6h1.8M40.0,46.3h1.8M40.0,44.1h1.8M40.0,41.8h1.8M40.0,39.5h1.8M40.0,37.3h1.8M40.0,35.0h1.8M40.0,32.8h1.8M40.0,30.5h1.8M40.0,28.2h1.8M40.0,26.0h1.8M41.8,114.2v1.8M44.5,114.2v1.8M47.2,114.2v1.8M49.9,114.2v1.8M52.6,114.2v1.8M55.3,114.2v1.8M58.0,114.2v1.8M60.7,114.2v1.8M63.4,114.2v1.8M66.1,114.2v1.8M68.8,114.2v1.8M71.6,114.2v1.8M74.3,114.2v1.8M77.0,114.2v1.8M79.7,114.2v1.8M82.4,114.2v1.8M85.1,114.2v1.8M87.8,114.2v1.8M90.5,114.2v1.8M93.2,114.2v1.8M95.9,114.2v1.8M98.6,114.2v1.8M101.3,114.2v1.8M104.0,114.2v1.8M106.7,114.2v1.8M109.4,114.2v1.8M112.1,114.2v1.8M114.8,114.2v1.8M117.5,114.2v1.8M120.2,114.2v1.8M123.0,114.2v1.8M125.7,114.2v1.8M128.4,114.2v1.8M131.1,114.2v1.8M133.8,114.2v1.8M136.5,114.2v1.8M139.2,114.2v1.8M141.9,114.2v1.8M144.6,114.2v1.8M147.3,114.2v1.8" stroke="#000" stroke-width="0.8"/>
<path d="M194.8,91.9h1.0v1.0h-1.0zM245.2,31.3h1.0v1.0h-1.0zM253.3,107.5h1.0v1.0h-1.0zM257.2,66.8h1.0v1.0h-1.0zM180.3,56.8h1.0v1.0h-1.0zM183.3,86.8h1.0v1.0h-1.0zM212.1,48.7h1.0v1.0h-1.0zM267.0,88.2h1.0v1.0h-1.0zM229.3,61.3h1.0v1.0h-1.0zM229.6,67.0h1.0v1.0h-1.0zM197.4,40.8h1.0v1.0h-1.0zM181.7,101.7h1.0v1.0h-1.0zM222.6,75.9h1.0v1.0h-1.0zM235.2,61.9h1.0v1.0h-1.0zM249.9,93.8h1.0v1.0h-1.0zM250.2,106.2h1.0v1.0h-1.0zM203.9,38.1h1.0v1.0h-1.0zM268.3,25.0h1.0v1.0h-1.0zM221.9,79.3h1.0v1.0h-1.0zM192.5,47.6h1.0v1.0h-1.0zM176.9,46.5h1.0v1.0h-1.0zM249.1,68.5h1.0v1.0h-1.0zM254.0,78.4h1.0v1.0h-1.0zM223.8,63.2h1.0v1.0h-1.0zM203.6,88.3h1.0v1.0h-1.0zM233.5,109.7h1.0v1.0h-1.0zM268.3,39.0h1.0v1.0h-1.0zM224.7,45.2h1.0v1.0h-1.0zM247.4,78.9h1.0v1.0h-1.0zM257.7,60.8h1.0v1.0h-1.0zM244.1,52.2h1.0v1.0h-1.0zM214.7,69.4h1.0v1.0h-1.0zM181.3,86.8h1.0v1.0h-1.0zM237.5,105.9h1.0v1.0h-1.0zM252.2,108.8h1.0v1.0h-1.0zM266.5,97.9h1.0v1.0h-1.0zM178.4,55.1h1.0v1.0h-1.0zM174.2,103.7h1.0v1.0h-1.0zM231.0,87.9h1.0v1.0h-1.0zM251.7,39.5h1.0v1.0h-1.0zM170.2,110.0h1.0v1.0h-1.0zM228.6,46.1h1.0v1.0h-1.0zM190.8,85.4h1.0v1.0h-1.0zM201.1,105.9h1.0v1.0h-1.0zM170.8,84.0h1.0v1.0h-1.0zM246.9,112.7h1.0v1.0h-1.0zM194.6,29.1h1.0v1.0h-1.0zM207.4,27.1h1.0v1.0h-1.0zM176.1,41.4h1.0v1.0h-1.0zM197.8,75.8h1.0v1.0h-1.0zM176.4,62.1h1.0v1.0h-1.0zM189.8,31.2h1.0v1.0h-1.0zM224.7,42.0h1.0v1.0h-1.0zM194.4,76.1h1.0v1.0h-1.0zM234.4,60.1h1.0v1.0h-1.0zM259.8,92.8h1.0v1.0h-1.0zM224.5,66.0h1.0v1.0h-1.0zM165.0,103.1h1.0v1.0h-1.0zM266.1,92.4h1.0v1.0h-1.0zM183.4,68.4h1.0v1.0h-1.0zM199.5,56.1h1.0v1.0h-1.0zM219.1,43.1h1.0v1.0h-1.0zM229.1,50.1h1.0v1.0h-1.0zM199.0,55.8h1.0v1.0h-1.0zM209.7,56.4h1.0v1.0h-1.0zM230.0,39.9h1.0v1.0h-1.0zM211.5,66.5h1.0v1.0h-1.0zM192.7,33.8h1.0v1.0h-1.0zM206.5,102.3h1.0v1.0h-1.0zM203.7,73.5h1.0v1.0h-1.0zM193.6,32.3h1.0v1.0h-1.0zM227.1,53.4h1.0v1.0h-1.0zM217.5,46.8h1.0v1.0h-1.0zM206.6,37.8h1.0v1.0h-1.0zM238.9,67.2h1.0v1.0h-1.0zM250.1,40.3h1.0v1.0h-1.0zM232.4,37.4h1.0v1.0h-1.0zM199.0,87.3h1.0v1.0h-1.0zM263.6,62.6h1.0v1.0h-1.0zM173.2,84.5h1.0v1.0h-1.0zM249.4,66.2h1.0v1.0h-1.0zM207.7,69.3h1.0v1.0h-1.0zM205.0,51.8h1.0v1.0h-1.0zM253.5,62.3h1.0v1.0h-1.0zM233.1,67.2h1.0v1.0h-1.0zM267.7,54.7h1.0v1.0h-1.0zM257.3,98.5h1.0v1.0h-1.0zM174.5,46.0h1.0v1.0h-1.0zM216.5,43.7h1.0v1.0h-1.0zM245.3,54.9h1.0v1.0h-1.0zM170.9,94.8h1.0v1.0h-1.0zM220.8,100.4h1.0v1.0h-1.0zM187.9,56.3h1.0v1.0h-1.0zM174.6,82.4h1.0v1.0h-1.0zM193.3,98.5h1.0v1.0h-1.0zM199.3,45.7h1.0v1.0h-1.0zM192.9,84.1h1.0v1.0h-1.0zM208.8,87.9h1.0v1.0h-1.0zM252.4,59.0h1.0v1.0h-1.0zM218.1,36.8h1.0v1.0h-1.0zM225.9,78.7h1.0v1.0h-1.0zM173.7,42.7h1.0v1.0h-1.0zM168.9,57.0h1.0v1.0h-1.0zM265.2,73.0h1.0v1.0h-1.0zM199.6,110.8h1.0v1.0h-1.0zM264.8,37.0h1.0v1.0h-1.0zM198.3,30.4h1.0v1.0h-1.0zM231.4,72.5h1.0v1.0h-1.0zM233.7,109.0h1.0v1.0h-1.0zM171.7,27.9h1.0v1.0h-1.0zM169.6,81.8h1.0v1.0h-1.0zM209.9,26.2h1.0v1.0h-1.0zM175.7,73.6h1.0v1.0h-1.0zM194.0,34.5h1.0v1.0h-1.0zM183.2,83.4h1.0v1.0h-1.0zM195.9,56.4h1.0v1.0h-1.0zM211.4,82.9h1.0v1.0h-1.0zM195.7,47.1h1.0v1.0h-1.0zM198.3,30.5h1.0v1.0h-1.0zM214.7,40.2h1.0v1.0h-1.0zM236.0,48.5h1.0v1.0h-1.0zM166.5,38.6h1.0v1.0h-1.0zM208.7,72.9h1.0v1.0h-1.0zM262.1,63.3h1.0v1.0h-1.0zM168.1,68.7h1.0v1.0h-1.0zM172.7,72.5h1.0v1.0h-1.0zM261.0,88.0h1.0v1.0h-1.0zM206.6,100.9h1.0v1.0h-1.0zM253.8,76.6h1.0v1.0h-1.0zM237.3,27.0h1.0v1.0h-1.0zM171.4,65.3h1.0v1.0h-1.0zM201.2,26.6h1.0v1.0h-1.0zM197.9,78.4h1.0v1.0h-1.0zM211.1,29.6h1.0v1.0h-1.0z" fill="#555" fill-opacity="0.45"/>
<path d="M184.6,69.7h1.0v1.0h-1.0zM171.8,95.5h1.0v1.0h-1.0zM202.9,91.5h1.0v1.0h-1.0zM189.3,43.3h1.0v1.0h-1.0zM222.6,73.3h1.0v1.0h-1.0zM197.4,72.8h1.0v1.0h-1.0zM206.6,79.5h1.0v1.0h-1.0zM166.4,87.2h1.0v1.0h-1.0zM185.5,65.5h1.0v1.0h-1.0zM226.1,84.9h1.0v1.0h-1.0zM188.9,46.0h1.0v1.0h-1.0zM197.9,79.5h1.0v1.0h-1.0zM193.6,54.6h1.0v1.0h-1.0zM180.8,54.4h1.0v1.0h-1.0zM198.9,83.5h1.0v1.0h-1.0zM213.5,61.7h1.0v1.0h-1.0zM199.2,79.8h1.0v1.0h-1.0zM185.8,69.9h1.0v1.0h-1.0zM233.2,74.9h1.0v1.0h-1.0zM210.9,65.9h1.0v1.0h-1.0zM195.8,48.0h1.0v1.0h-1.0zM194.5,88.7h1.0v1.0h-1.0zM232.8,88.8h1.0v1.0h-1.0zM207.4,72.7h1.0v1.0h-1.0zM184.2,69.8h1.0v1.0h-1.0zM206.0,61.0h1.0v1.0h-1.0zM211.8,58.2h1.0v1.0h-1.0zM163.0,57.8h1.0v1.0h-1.0zM165.0,52.8h1.0v1.0h-1.0zM215.4,69.2h1.0v1.0h-1.0zM198.9,88.2h1.0v1.0h-1.0zM217.7,64.9h1.0v1.0h-1.0zM218.9,77.4h1.0v1.0h-1.0zM195.1,78.2h1.0v1.0h-1.0zM169.3,61.0h1.0v1.0h-1.0zM193.1,80.5h1.0v1.0h-1.0zM188.3,70.2h1.0v1.0h-1.0zM212.4,91.8h1.0v1.0h-1.0zM208.8,89.8h1.0v1.0h-1.0zM187.7,67.7h1.0v1.0h-1.0zM200.7,67.8h1.0v1.0h-1.0zM185.9,95.1h1.0v1.0h-1.0zM191.4,58.5h1.0v1.0h-1.0zM203.8,97.7h1.0v1.0h-1.0zM196.5,89.2h1.0v1.0h-1.0zM187.1,65.1h1.0v1.0h-1.0zM182.6,70.0h1.0v1.0h-1.0zM228.1,55.8h1.0v1.0h-1.0zM224.5,57.9h1.0v1.0h-1.0zM190.8,83.7h1.0v1.0h-1.0zM206.3,75.9h1.0v1.0h-1.0zM165.3,77.1h1.0v1.0h-1.0zM176.6,108.0h1.0v1.0h-1.0zM191.2,74.6h1.0v1.0h-1.0zM174.4,65.3h1.0v1.0h-1.0zM171.8,85.7h1.0v1.0h-1.0zM190.3,79.9h1.0v1.0h-1.0zM182.7,65.0h1.0v1.0h-1.0zM218.2,58.4h1.0v1.0h-1.0zM174.5,65.8h1.0v1.0h-1.0zM211.4,60.5h1.0v1.0h-1.0zM210.8,62.5h1.0v1.0h-1.0zM221.8,90.6h1.0v1.0h-1.0zM186.5,69.0h1.0v1.0h-1.0zM180.0,74.8h1.0v1.0h-1.0zM215.7,51.7h1.0v1.0h-1.0zM211.5,53.5h1.0v1.0h-1.0zM179.5,47.0h1.0v1.0h-1.0zM232.9,72.8h1.0v1.0h-1.0zM199.4,62.5h1.0v1.0h-1.0zM214.2,42.6h1.0v1.0h-1.0zM195.5,102.9h1.0v1.0h-1.0zM188.1,72.2h1.0v1.0h-1.0zM207.1,60.6h1.0v1.0h-1.0zM195.4,85.5h1.0v1.0h-1.0zM198.5,77.2h1.0v1.0h-1.0zM188.7,76.4h1.0v1.0h-1.0zM196.0,92.4h1.0v1.0h-1.0zM208.0,68.6h1.0v1.0h-1.0zM208.6,59.2h1.0v1.0h-1.0zM211.7,57.1h1.0v1.0h-1.0zM186.7,75.1h1.0v1.0h-1.0zM217.0,71.7h1.0v1.0h-1.0zM193.2,64.3h1.0v1.0h-1.0zM224.4,86.9h1.0v1.0h-1.0zM193.3,52.4h1.0v1.0h-1.0zM180.8,80.1h1.0v1.0h-1.0zM182.0,84.5h1.0v1.0h-1.0zM201.5,76.1h1.0v1.0h-1.0zM206.8,79.0h1.0v1.0h-1.0zM179.6,67.4h1.0v1.0h-1.0zM237.1,55.1h1.0v1.0h-1.0zM186.5,86.9h1.0v1.0h-1.0zM192.1,60.6h1.0v1.0h-1.0zM171.2,79.5h1.0v1.0h-1.0zM213.4,91.6h1.0v1.0h-1.0zM196.0,86.6h1.0v1.0h-1.0zM176.4,74.4h1.0v1.0h-1.0zM182.8,74.4h1.0v1.0h-1.0zM208.5,87.0h1.0v1.0h-1.0zM177.2,89.7h1.0v1.0h-1.0zM186.5,57.6h1.0v1.0h-1.0zM191.9,51.5h1.0v1.0h-1.0zM195.1,76.1h1.0v1.0h-1.0zM191.4,79.5h1.0v1.0h-1.0zM189.3,72.1h1.0v1.0h-1.0zM169.1,72.6h1.0v1.0h-1.0zM179.7,65.7h1.0v1.0h-1.0zM193.3,74.7h1.0v1.0h-1.0zM165.4,50.1h1.0v1.0h-1.0zM189.6,78.6h1.0v1.0h-1.0zM201.5,84.5h1.0v1.0h-1.0zM218.4,79.0h1.0v1.0h-1.0zM194.6,57.6h1.0v1.0h-1.0zM178.0,65.5h1.0v1.0h-1.0zM199.8,75.1h1.0v1.0h-1.0zM195.1,69.9h1.0v1.0h-1.0zM206.3,74.9h1.0v1.0h-1.0zM200.4,76.3h1.0v1.0h-1.0zM185.2,57.6h1.0v1.0h-1.0zM203.8,77.8h1.0v1.0h-1.0zM191.0,66.2h1.0v1.0h-1.0zM236.0,61.4h1.0v1.0h-1.0zM191.1,75.7h1.0v1.0h-1.0zM174.2,73.6h1.0v1.0h-1.0zM227.4,85.1h1.0v1.0h-1.0zM206.4,80.3h1.0v1.0h-1.0zM197.0,85.4h1.0v1.0h-1.0zM192.2,66.1h1.0v1.0h-1.0zM196.8,84.7h1.0v1.0h-1.0zM200.9,81.4h1.0v1.0h-1.0zM237.1,90.7h1.0v1.0h-1.0zM189.3,60.1h1.0v1.0h-1.0zM200.0,58.2h1.0v1.0h-1.0zM208.1,64.6h1.0v1.0h-1.0zM212.3,91.1h1.0v1.0h-1.0zM182.4,52.3h1.0v1.0h-1.0zM183.9,68.9h1.0v1.0h-1.0zM213.6,50.7h1.0v1.0h-1.0zM213.9,100.3h1.0v1.0h-1.0zM205.8,79.6h1.0v1.0h-1.0zM194.8,55.5h1.0v1.0h-1.0zM204.6,77.4h1.0v1.0h-1.0zM208.2,108.0h1.0v1.0h-1.0zM208.1,78.0h1.0v1.0h-1.0zM223.1,53.2h1.0v1.0h-1.0zM174.4,66.7h1.0v1.0h-1.0zM183.2,81.7h1.0v1.0h-1.0zM189.3,96.4h1.0v1.0h-1.0zM222.4,82.8h1.0v1.0h-1.0zM188.1,80.6h1.0v1.0h-1.0zM209.6,57.1h1.0v1.0h-1.0zM201.3,81.9h1.0v1.0h-1.0zM198.9,94.0h1.0v1.0h-1.0zM216.9,60.4h1.0v1.0h-1.0z" fill="#333" fill-opacity="0.55"/>
<path d="M184.9,63.5h1.0v1.0h-1.0zM187.4,64.4h1.0v1.0h-1.0zM184.5,75.5h1.0v1.0h-1.0zM186.8,71.3h1.0v1.0h-1.0zM166.4,80.7h1.0v1.0h-1.0zM174.8,80.8h1.0v1.0h-1.0zM180.8,76.6h1.0v1.0h-1.0zM189.7,77.4h1.0v1.0h-1.0zM194.3,61.4h1.0v1.0h-1.0zM186.7,70.2h1.0v1.0h-1.0zM180.2,69.7h1.0v1.0h-1.0zM176.6,84.4h1.0v1.0h-1.0zM170.8,65.7h1.0v1.0h-1.0zM172.7,77.7h1.0v1.0h-1.0zM177.0,72.7h1.0v1.0h-1.0zM176.3,74.4h1.0v1.0h-1.0zM188.0,69.3h1.0v1.0h-1.0zM186.7,58.5h1.0v1.0h-1.0zM179.4,77.8h1.0v1.0h-1.0zM173.7,77.7h1.0v1.0h-1.0zM176.8,49.6h1.0v1.0h-1.0zM175.3,62.5h1.0v1.0h-1.0zM181.4,69.4h1.0v1.0h-1.0zM177.9,75.7h1.0v1.0h-1.0zM183.2,58.5h1.0v1.0h-1.0zM166.2,84.1h1.0v1.0h-1.0zM168.9,62.6h1.0v1.0h-1.0zM187.1,77.6h1.0v1.0h-1.0zM176.5,67.9h1.0v1.0h-1.0zM181.1,82.0h1.0v1.0h-1.0zM173.2,73.9h1.0v1.0h-1.0zM178.2,79.6h1.0v1.0h-1.0zM189.9,70.7h1.0v1.0h-1.0zM171.6,69.6h1.0v1.0h-1.0zM188.1,80.1h1.0v1.0h-1.0zM173.1,90.2h1.0v1.0h-1.0zM171.9,74.7h1.0v1.0h-1.0zM177.7,69.0h1.0v1.0h-1.0zM175.7,82.6h1.0v1.0h-1.0zM177.9,63.3h1.0v1.0h-1.0zM170.5,69.9h1.0v1.0h-1.0zM176.9,72.3h1.0v1.0h-1.0zM176.5,64.3h1.0v1.0h-1.0zM187.3,71.2h1.0v1.0h-1.0zM182.4,75.9h1.0v1.0h-1.0zM185.0,56.4h1.0v1.0h-1.0zM185.7,73.9h1.0v1.0h-1.0zM194.0,56.1h1.0v1.0h-1.0zM180.2,48.3h1.0v1.0h-1.0zM172.3,76.3h1.0v1.0h-1.0zM184.2,71.2h1.0v1.0h-1.0zM178.8,76.5h1.0v1.0h-1.0zM177.9,72.5h1.0v1.0h-1.0zM190.1,52.5h1.0v1.0h-1.0zM173.7,80.1h1.0v1.0h-1.0zM179.4,67.8h1.0v1.0h-1.0zM179.5,64.5h1.0v1.0h-1.0zM188.1,70.7h1.0v1.0h-1.0zM187.3,42.0h1.0v1.0h-1.0zM185.4,52.5h1.0v1.0h-1.0zM168.1,71.9h1.0v1.0h-1.0zM192.1,56.2h1.0v1.0h-1.0zM183.9,75.9h1.0v1.0h-1.0zM173.9,74.0h1.0v1.0h-1.0zM176.7,56.1h1.0v1.0h-1.0zM177.4,57.3h1.0v1.0h-1.0zM190.9,61.3h1.0v1.0h-1.0zM178.4,59.3h1.0v1.0h-1.0zM183.4,67.7h1.0v1.0h-1.0zM188.4,66.4h1.0v1.0h-1.0zM175.9,62.6h1.0v1.0h-1.0zM184.7,62.5h1.0v1.0h-1.0zM175.6,85.5h1.0v1.0h-1.0zM177.7,68.8h1.0v1.0h-1.0zM190.8,68.0h1.0v1.0h-1.0zM180.5,58.8h1.0v1.0h-1.0zM181.2,75.1h1.0v1.0h-1.0zM180.0,69.8h1.0v1.0h-1.0zM184.6,80.1h1.0v1.0h-1.0zM173.4,66.2h1.0v1.0h-1.0zM178.8,75.9h1.0v1.0h-1.0zM182.2,63.9h1.0v1.0h-1.0zM185.2,54.1h1.0v1.0h-1.0zM183.1,64.8h1.0v1.0h-1.0zM187.4,62.5h1.0v1.0h-1.0zM182.3,60.6h1.0v1.0h-1.0zM172.5,72.7h1.0v1.0h-1.0zM176.7,72.1h1.0v1.0h-1.0zM174.5,67.6h1.0v1.0h-1.0zM173.6,61.4h1.0v1.0h-1.0zM176.0,73.1h1.0v1.0h-1.0zM182.6,68.6h1.0v1.0h-1.0zM184.8,73.2h1.0v1.0h-1.0zM180.9,77.2h1.0v1.0h-1.0zM181.7,67.0h1.0v1.0h-1.0zM184.3,67.0h1.0v1.0h-1.0zM178.8,79.5h1.0v1.0h-1.0zM187.0,68.6h1.0v1.0h-1.0zM174.2,65.8h1.0v1.0h-1.0zM176.0,78.2h1.0v1.0h-1.0zM179.6,66.8h1.0v1.0h-1.0zM186.7,67.5h1.0v1.0h-1.0zM173.6,83.1h1.0v1.0h-1.0zM186.6,78.4h1.0v1.0h-1.0zM186.1,62.3h1.0v1.0h-1.0zM183.7,71.4h1.0v1.0h-1.0zM184.1,65.8h1.0v1.0h-1.0zM181.6,68.0h1.0v1.0h-1.0zM177.2,81.9h1.0v1.0h-1.0zM189.2,56.9h1.0v1.0h-1.0zM181.7,54.1h1.0v1.0h-1.0zM174.5,72.0h1.0v1.0h-1.0zM185.4,65.6h1.0v1.0h-1.0zM185.2,64.0h1.0v1.0h-1.0zM178.6,54.4h1.0v1.0h-1.0zM170.9,78.9h1.0v1.0h-1.0zM168.9,76.2h1.0v1.0h-1.0zM188.8,71.4h1.0v1.0h-1.0zM183.0,64.4h1.0v1.0h-1.0zM178.3,74.8h1.0v1.0h-1.0zM177.2,77.6h1.0v1.0h-1.0zM186.1,75.3h1.0v1.0h-1.0zM182.9,69.8h1.0v1.0h-1.0zM187.0,61.3h1.0v1.0h-1.0zM182.3,72.1h1.0v1.0h-1.0zM168.1,84.8h1.0v1.0h-1.0zM178.9,59.9h1.0v1.0h-1.0zM189.8,54.4h1.0v1.0h-1.0zM182.4,55.0h1.0v1.0h-1.0zM176.2,65.9h1.0v1.0h-1.0zM178.5,79.2h1.0v1.0h-1.0zM180.8,81.1h1.0v1.0h-1.0zM185.9,67.1h1.0v1.0h-1.0zM188.8,68.3h1.0v1.0h-1.0zM171.8,80.3h1.0v1.0h-1.0zM184.4,73.2h1.0v1.0h-1.0zM181.7,78.5h1.0v1.0h-1.0zM173.9,65.2h1.0v1.0h-1.0zM174.0,67.4h1.0v1.0h-1.0zM172.1,78.8h1.0v1.0h-1.0zM186.8,64.1h1.0v1.0h-1.0zM185.4,59.5h1.0v1.0h-1.0zM179.1,74.0h1.0v1.0h-1.0zM189.7,54.3h1.0v1.0h-1.0zM177.2,72.7h1.0v1.0h-1.0zM178.2,79.6h1.0v1.0h-1.0zM171.9,70.4h1.0v1.0h-1.0zM176.6,69.3h1.0v1.0h-1.0zM180.5,76.0h1.0v1.0h-1.0zM177.1,69.4h1.0v1.0h-1.0zM179.9,54.9h1.0v1.0h-1.0zM184.1,70.4h1.0v1.0h-1.0zM175.3,58.4h1.0v1.0h-1.0zM175.1,82.1h1.0v1.0h-1.0zM183.6,78.5h1.0v1.0h-1.0zM171.6,64.1h1.0v1.0h-1.0zM182.0,73.8h1.0v1.0h-1.0zM184.1,68.5h1.0v1.0h-1.0zM184.8,85.9h1.0v1.0h-1.0zM184.1,61.2h1.0v1.0h-1.0zM194.2,70.1h1.0v1.0h-1.0zM180.2,88.0h1.0v1.0h-1.0zM174.7,69.4h1.0v1.0h-1.0zM177.1,72.7h1.0v1.0h-1.0zM175.2,86.1h1.0v1.0h-1.0zM184.1,70.8h1.0v1.0h-1.0zM188.1,70.0h1.0v1.0h-1.0zM170.4,86.7h1.0v1.0h-1.0zM178.3,63.3h1.0v1.0h-1.0zM185.2,60.9h1.0v1.0h-1.0zM165.4,72.6h1.0v1.0h-1.0zM178.7,63.0h1.0v1.0h-1.0zM182.6,60.4h1.0v1.0h-1.0zM174.5,68.0h1.0v1.0h-1.0zM191.1,81.5h1.0v1.0h-1.0zM190.7,59.0h1.0v1.0h-1.0zM185.3,59.7h1.0v1.0h-1.0zM186.0,69.5h1.0v1.0h-1.0zM181.4,68.7h1.0v1.0h-1.0zM183.5,55.5h1.0v1.0h-1.0zM189.3,59.6h1.0v1.0h-1.0zM175.6,63.9h1.0v1.0h-1.0zM176.1,69.7h1.0v1.0h-1.0zM185.5,74.0h1.0v1.0h-1.0zM181.9,70.1h1.0v1.0h-1.0zM192.6,56.5h1.0v1.0h-1.0zM186.4,62.7h1.0v1.0h-1.0zM174.2,66.3h1.0v1.0h-1.0zM176.6,73.1h1.0v1.0h-1.0zM195.7,53.2h1.0v1.0h-1.0zM173.1,85.2h1.0v1.0h-1.0zM180.1,83.4h1.0v1.0h-1.0zM186.9,57.9h1.0v1.0h-1.0zM172.1,72.3h1.0v1.0h-1.0zM188.9,65.8h1.0v1.0h-1.0zM178.4,70.8h1.0v1.0h-1.0zM172.7,62.1h1.0v1.0h-1.0zM181.4,91.3h1.0v1.0h-1.0zM173.3,84.0h1.0v1.0h-1.0zM181.1,61.4h1.0v1.0h-1.0zM165.1,71.5h1.0v1.0h-1.0zM170.0,87.5h1.0v1.0h-1.0zM182.0,71.8h1.0v1.0h-1.0zM165.4,77.0h1.0v1.0h-1.0zM179.5,67.1h1.0v1.0h-1.0zM165.4,71.3h1.0v1.0h-1.0zM188.6,66.9h1.0v1.0h-1.0zM179.9,72.8h1.0v1.0h-1.0zM185.7,72.7h1.0v1.0h-1.0zM191.2,71.8h1.0v1.0h-1.0zM179.4,64.0h1.0v1.0h-1.0zM170.2,56.4h1.0v1.0h-1.0zM185.4,74.1h1.0v1.0h-1.0zM175.1,70.2h1.0v1.0h-1.0zM171.0,62.0h1.0v1.0h-1.0zM181.1,76.4h1.0v1.0h-1.0zM173.2,74.9h1.0v1.0h-1.0zM192.7,70.7h1.0v1.0h-1.0zM190.9,58.6h1.0v1.0h-1.0zM167.9,69.4h1.0v1.0h-1.0zM180.4,71.2h1.0v1.0h-1.0zM178.9,65.6h1.0v1.0h-1.0zM178.8,85.5h1.0v1.0h-1.0zM186.0,55.4h1.0v1.0h-1.0zM185.6,77.6h1.0v1.0h-1.0zM183.9,72.7h1.0v1.0h-1.0zM193.3,76.0h1.0v1.0h-1.0zM190.8,55.6h1.0v1.0h-1.0zM180.4,62.4h1.0v1.0h-1.0zM179.4,72.2h1.0v1.0h-1.0zM170.3,81.7h1.0v1.0h-1.0zM176.8,63.1h1.0v1.0h-1.0zM187.0,59.8h1.0v1.0h-1.0zM181.6,76.1h1.0v1.0h-1.0zM172.1,84.3h1.0v1.0h-1.0zM180.3,72.0h1.0v1.0h-1.0zM182.1,53.4h1.0v1.0h-1.0zM178.7,65.2h1.0v1.0h-1.0zM175.5,74.6h1.0v1.0h-1.0zM172.2,54.1h1.0v1.0h-1.0zM165.9,75.8h1.0v1.0h-1.0zM179.8,63.8h1.0v1.0h-1.0zM171.5,74.0h1.0v1.0h-1.0zM177.8,70.2h1.0v1.0h-1.0zM165.4,73.9h1.0v1.0h-1.0zM181.0,75.0h1.0v1.0h-1.0zM188.4,71.0h1.0v1.0h-1.0zM177.3,74.9h1.0v1.0h-1.0zM184.2,68.6h1.0v1.0h-1.0zM183.1,65.5h1.0v1.0h-1.0zM181.3,78.9h1.0v1.0h-1.0zM173.8,84.8h1.0v1.0h-1.0zM173.4,63.7h1.0v1.0h-1.0zM191.8,70.4h1.0v1.0h-1.0zM166.9,76.8h1.0v1.0h-1.0zM188.4,61.1h1.0v1.0h-1.0zM189.0,63.1h1.0v1.0h-1.0zM174.2,64.8h1.0v1.0h-1.0zM182.5,59.3h1.0v1.0h-1.0zM182.8,60.3h1.0v1.0h-1.0zM181.3,69.5h1.0v1.0h-1.0zM186.7,67.7h1.0v1.0h-1.0zM178.7,55.3h1.0v1.0h-1.0zM173.7,81.4h1.0v1.0h-1.0zM188.0,66.4h1.0v1.0h-1.0zM190.5,62.4h1.0v1.0h-1.0zM187.9,68.9h1.0v1.0h-1.0zM182.7,76.5h1.0v1.0h-1.0zM178.2,71.5h1.0v1.0h-1.0zM175.4,66.2h1.0v1.0h-1.0zM171.2,105.8h1.0v1.0h-1.0zM184.4,72.0h1.0v1.0h-1.0zM171.4,75.6h1.0v1.0h-1.0zM175.0,58.7h1.0v1.0h-1.0zM187.5,60.6h1.0v1.0h-1.0zM185.2,82.4h1.0v1.0h-1.0zM179.9,63.5h1.0v1.0h-1.0zM179.1,54.7h1.0v1.0h-1.0zM181.0,75.7h1.0v1.0h-1.0zM181.8,72.6h1.0v1.0h-1.0zM176.5,71.0h1.0v1.0h-1.0zM172.9,65.8h1.0v1.0h-1.0zM183.9,84.1h1.0v1.0h-1.0zM179.7,65.6h1.0v1.0h-1.0zM181.6,87.6h1.0v1.0h-1.0zM174.4,62.2h1.0v1.0h-1.0zM177.6,80.1h1.0v1.0h-1.0zM173.9,72.6h1.0v1.0h-1.0zM170.2,88.2h1.0v1.0h-1.0zM183.8,69.5h1.0v1.0h-1.0zM175.1,77.3h1.0v1.0h-1.0zM188.8,62.4h1.0v1.0h-1.0zM187.2,59.1h1.0v1.0h-1.0zM181.7,57.0h1.0v1.0h-1.0zM176.3,60.5h1.0v1.0h-1.0zM173.6,71.3h1.0v1.0h-1.0zM186.2,69.6h1.0v1.0h-1.0zM171.7,73.3h1.0v1.0h-1.0zM177.3,48.5h1.0v1.0h-1.0zM182.4,76.7h1.0v1.0h-1.0zM187.1,70.2h1.0v1.0h-1.0zM176.0,62.1h1.0v1.0h-1.0zM187.0,64.7h1.0v1.0h-1.0zM182.4,56.3h1.0v1.0h-1.0zM171.4,73.5h1.0v1.0h-1.0zM187.8,61.2h1.0v1.0h-1.0zM177.2,62.2h1.0v1.0h-1.0zM188.4,61.3h1.0v1.0h-1.0zM188.2,51.5h1.0v1.0h-1.0zM172.5,69.8h1.0v1.0h-1.0zM190.2,62.3h1.0v1.0h-1.0zM173.7,74.1h1.0v1.0h-1.0zM180.9,64.1h1.0v1.0h-1.0zM183.0,72.5h1.0v1.0h-1.0zM184.0,78.9h1.0v1.0h-1.0zM178.2,67.1h1.0v1.0h-1.0zM185.8,58.3h1.0v1.0h-1.0zM171.9,75.0h1.0v1.0h-1.0zM168.5,73.6h1.0v1.0h-1.0zM183.0,69.1h1.0v1.0h-1.0zM182.0,74.8h1.0v1.0h-1.0zM189.1,69.3h1.0v1.0h-1.0zM180.6,66.9h1.0v1.0h-1.0zM187.6,82.1h1.0v1.0h-1.0zM177.2,64.5h1.0v1.0h-1.0zM177.0,67.9h1.0v1.0h-1.0zM173.3,88.9h1.0v1.0h-1.0zM167.0,73.3h1.0v1.0h-1.0zM186.0,64.9h1.0v1.0h-1.0zM182.0,65.1h1.0v1.0h-1.0zM177.4,77.9h1.0v1.0h-1.0zM167.6,76.5h1.0v1.0h-1.0zM173.2,80.9h1.0v1.0h-1.0zM178.5,80.7h1.0v1.0h-1.0zM179.9,79.9h1.0v1.0h-1.0zM184.4,62.9h1.0v1.0h-1.0zM181.9,77.1h1.0v1.0h-1.0zM200.0,58.6h1.0v1.0h-1.0zM175.8,77.8h1.0v1.0h-1.0zM175.0,64.6h1.0v1.0h-1.0zM187.1,86.6h1.0v1.0h-1.0zM170.7,79.1h1.0v1.0h-1.0zM184.4,79.0h1.0v1.0h-1.0zM182.1,72.6h1.0v1.0h-1.0zM178.2,63.2h1.0v1.0h-1.0zM184.4,72.7h1.0v1.0h-1.0zM192.3,71.6h1.0v1.0h-1.0zM169.1,60.8h1.0v1.0h-1.0zM181.0,73.5h1.0v1.0h-1.0zM184.5,63.1h1.0v1.0h-1.0zM191.6,68.1h1.0v1.0h-1.0zM185.9,69.2h1.0v1.0h-1.0zM169.0,78.2h1.0v1.0h-1.0zM170.5,56.4h1.0v1.0h-1.0zM184.7,67.9h1.0v1.0h-1.0zM185.4,70.8h1.0v1.0h-1.0zM170.3,86.2h1.0v1.0h-1.0zM180.4,67.9h1.0v1.0h-1.0zM177.9,60.9h1.0v1.0h-1.0zM182.3,76.0h1.0v1.0h-1.0z" fill="#000" fill-opacity="0.75"/>
<path d="M175.7,71.0h1.0v1.0h-1.0zM183.6,62.7h1.0v1.0h-1.0zM171.9,74.6h1.0v1.0h-1.0zM167.0,77.5h1.0v1.0h-1.0zM170.8,68.6h1.0v1.0h-1.0zM185.9,88.7h1.0v1.0h-1.0zM183.1,80.8h1.0v1.0h-1.0zM179.4,87.4h1.0v1.0h-1.0zM177.2,103.2h1.0v1.0h-1.0zM171.5,79.9h1.0v1.0h-1.0zM182.6,43.8h1.0v1.0h-1.0zM163.1,75.2h1.0v1.0h-1.0zM180.3,73.6h1.0v1.0h-1.0zM179.4,92.7h1.0v1.0h-1.0zM167.1,90.8h1.0v1.0h-1.0zM186.3,86.0h1.0v1.0h-1.0zM173.7,74.0h1.0v1.0h-1.0zM176.3,73.0h1.0v1.0h-1.0zM180.3,87.7h1.0v1.0h-1.0zM181.9,86.1h1.0v1.0h-1.0zM168.3,74.8h1.0v1.0h-1.0zM181.8,75.9h1.0v1.0h-1.0zM197.2,81.7h1.0v1.0h-1.0zM166.5,87.9h1.0v1.0h-1.0zM179.9,79.3h1.0v1.0h-1.0zM171.1,81.6h1.0v1.0h-1.0zM178.5,87.1h1.0v1.0h-1.0zM170.6,81.5h1.0v1.0h-1.0zM178.5,87.1h1.0v1.0h-1.0zM168.6,74.2h1.0v1.0h-1.0zM173.0,87.3h1.0v1.0h-1.0zM179.1,78.1h1.0v1.0h-1.0zM169.6,95.0h1.0v1.0h-1.0zM168.5,79.7h1.0v1.0h-1.0zM185.2,84.6h1.0v1.0h-1.0zM171.3,76.1h1.0v1.0h-1.0zM180.9,84.7h1.0v1.0h-1.0zM169.7,86.1h1.0v1.0h-1.0zM177.1,79.9h1.0v1.0h-1.0zM175.7,81.1h1.0v1.0h-1.0zM172.6,72.9h1.0v1.0h-1.0zM176.7,68.8h1.0v1.0h-1.0zM172.2,77.3h1.0v1.0h-1.0zM172.9,77.9h1.0v1.0h-1.0zM174.0,78.7h1.0v1.0h-1.0zM165.4,85.3h1.0v1.0h-1.0zM166.0,86.6h1.0v1.0h-1.0zM182.0,78.6h1.0v1.0h-1.0zM167.8,80.2h1.0v1.0h-1.0zM165.7,76.6h1.0v1.0h-1.0zM167.6,81.9h1.0v1.0h-1.0zM183.0,71.6h1.0v1.0h-1.0zM188.0,75.6h1.0v1.0h-1.0zM164.3,50.8h1.0v1.0h-1.0zM186.1,80.3h1.0v1.0h-1.0zM170.9,69.4h1.0v1.0h-1.0zM168.7,95.1h1.0v1.0h-1.0zM178.5,54.9h1.0v1.0h-1.0zM181.5,76.2h1.0v1.0h-1.0zM168.1,92.6h1.0v1.0h-1.0zM169.0,88.7h1.0v1.0h-1.0zM175.9,70.7h1.0v1.0h-1.0zM179.5,73.2h1.0v1.0h-1.0zM181.0,89.8h1.0v1.0h-1.0zM172.9,84.0h1.0v1.0h-1.0zM179.1,76.5h1.0v1.0h-1.0zM181.5,77.7h1.0v1.0h-1.0zM181.2,70.1h1.0v1.0h-1.0zM173.7,82.2h1.0v1.0h-1.0zM169.0,72.4h1.0v1.0h-1.0zM168.0,84.0h1.0v1.0h-1.0zM167.3,80.8h1.0v1.0h-1.0zM184.9,84.7h1.0v1.0h-1.0zM182.8,77.5h1.0v1.0h-1.0zM181.0,86.3h1.0v1.0h-1.0zM178.0,76.4h1.0v1.0h-1.0zM170.7,74.6h1.0v1.0h-1.0zM173.2,83.3h1.0v1.0h-1.0zM178.1,76.1h1.0v1.0h-1.0zM173.6,82.0h1.0v1.0h-1.0zM163.5,67.3h1.0v1.0h-1.0zM168.4,74.5h1.0v1.0h-1.0zM172.6,75.1h1.0v1.0h-1.0zM165.6,82.8h1.0v1.0h-1.0zM180.5,62.9h1.0v1.0h-1.0zM177.1,67.3h1.0v1.0h-1.0zM188.4,77.3h1.0v1.0h-1.0zM170.8,78.2h1.0v1.0h-1.0zM172.7,77.2h1.0v1.0h-1.0zM185.5,83.6h1.0v1.0h-1.0zM177.6,90.8h1.0v1.0h-1.0zM176.9,88.9h1.0v1.0h-1.0zM165.3,84.3h1.0v1.0h-1.0zM178.7,73.9h1.0v1.0h-1.0zM190.3,88.4h1.0v1.0h-1.0zM171.7,79.6h1.0v1.0h-1.0zM178.2,91.0h1.0v1.0h-1.0zM175.4,91.2h1.0v1.0h-1.0zM188.7,69.3h1.0v1.0h-1.0zM172.8,68.1h1.0v1.0h-1.0zM171.1,92.4h1.0v1.0h-1.0zM181.9,69.5h1.0v1.0h-1.0zM169.2,87.6h1.0v1.0h-1.0zM170.2,76.2h1.0v1.0h-1.0zM181.2,61.3h1.0v1.0h-1.0zM179.2,83.2h1.0v1.0h-1.0zM181.0,70.0h1.0v1.0h-1.0zM169.7,70.9h1.0v1.0h-1.0zM175.9,79.4h1.0v1.0h-1.0zM170.5,95.8h1.0v1.0h-1.0zM186.1,74.0h1.0v1.0h-1.0zM164.6,93.5h1.0v1.0h-1.0zM168.1,90.9h1.0v1.0h-1.0zM187.9,76.3h1.0v1.0h-1.0zM171.8,78.5h1.0v1.0h-1.0zM170.0,67.0h1.0v1.0h-1.0zM168.8,85.6h1.0v1.0h-1.0zM171.2,75.3h1.0v1.0h-1.0zM174.0,64.1h1.0v1.0h-1.0zM191.6,58.7h1.0v1.0h-1.0zM167.6,82.3h1.0v1.0h-1.0zM186.0,72.5h1.0v1.0h-1.0zM178.6,67.9h1.0v1.0h-1.0zM177.8,80.1h1.0v1.0h-1.0zM172.2,91.9h1.0v1.0h-1.0zM174.3,92.2h1.0v1.0h-1.0zM182.1,68.0h1.0v1.0h-1.0zM174.9,83.5h1.0v1.0h-1.0zM173.7,81.9h1.0v1.0h-1.0zM167.0,77.1h1.0v1.0h-1.0zM177.3,75.7h1.0v1.0h-1.0zM180.2,57.9h1.0v1.0h-1.0zM187.5,70.3h1.0v1.0h-1.0zM166.2,81.7h1.0v1.0h-1.0zM166.3,79.1h1.0v1.0h-1.0zM173.2,98.2h1.0v1.0h-1.0zM164.5,82.5h1.0v1.0h-1.0zM165.2,81.8h1.0v1.0h-1.0zM183.5,64.2h1.0v1.0h-1.0zM168.3,64.6h1.0v1.0h-1.0zM164.4,68.0h1.0v1.0h-1.0zM170.4,62.2h1.0v1.0h-1.0zM173.4,83.7h1.0v1.0h-1.0zM165.4,70.1h1.0v1.0h-1.0zM174.7,75.9h1.0v1.0h-1.0zM166.6,84.5h1.0v1.0h-1.0zM178.9,86.5h1.0v1.0h-1.0zM167.3,96.9h1.0v1.0h-1.0zM188.6,77.9h1.0v1.0h-1.0zM170.1,89.4h1.0v1.0h-1.0zM166.8,80.3h1.0v1.0h-1.0zM176.2,71.4h1.0v1.0h-1.0zM176.3,62.5h1.0v1.0h-1.0zM175.0,57.7h1.0v1.0h-1.0zM187.8,97.4h1.0v1.0h-1.0zM182.8,83.6h1.0v1.0h-1.0zM178.5,92.5h1.0v1.0h-1.0zM179.5,89.1h1.0v1.0h-1.0zM165.9,80.3h1.0v1.0h-1.0zM173.0,65.6h1.0v1.0h-1.0zM164.1,79.8h1.0v1.0h-1.0zM185.7,67.0h1.0v1.0h-1.0zM183.7,95.9h1.0v1.0h-1.0zM172.3,72.8h1.0v1.0h-1.0zM170.9,87.4h1.0v1.0h-1.0zM173.9,66.6h1.0v1.0h-1.0zM182.0,58.8h1.0v1.0h-1.0zM172.1,89.5h1.0v1.0h-1.0zM174.3,86.2h1.0v1.0h-1.0zM175.9,86.1h1.0v1.0h-1.0zM177.3,70.3h1.0v1.0h-1.0zM172.5,76.8h1.0v1.0h-1.0zM179.5,96.3h1.0v1.0h-1.0zM179.2,71.6h1.0v1.0h-1.0zM168.8,74.7h1.0v1.0h-1.0zM183.9,84.1h1.0v1.0h-1.0zM175.6,70.5h1.0v1.0h-1.0zM180.1,82.6h1.0v1.0h-1.0zM173.3,78.9h1.0v1.0h-1.0zM187.4,79.9h1.0v1.0h-1.0zM183.8,93.5h1.0v1.0h-1.0zM172.1,86.6h1.0v1.0h-1.0zM175.2,69.7h1.0v1.0h-1.0zM174.3,68.7h1.0v1.0h-1.0zM177.9,79.2h1.0v1.0h-1.0zM176.2,87.2h1.0v1.0h-1.0z" fill="#222" fill-opacity="0.55"/>
<path d="M181.8,44.4h1.0v1.0h-1.0zM196.1,33.0h1.0v1.0h-1.0zM184.0,66.6h1.0v1.0h-1.0zM218.1,56.0h1.0v1.0h-1.0zM184.0,65.5h1.0v1.0h-1.0zM223.6,42.6h1.0v1.0h-1.0zM186.7,74.1h1.0v1.0h-1.0zM182.3,43.7h1.0v1.0h-1.0zM220.2,52.9h1.0v1.0h-1.0zM222.3,38.6h1.0v1.0h-1.0zM212.2,34.3h1.0v1.0h-1.0zM219.1,36.1h1.0v1.0h-1.0zM223.6,49.2h1.0v1.0h-1.0zM218.2,54.9h1.0v1.0h-1.0zM216.8,57.2h1.0v1.0h-1.0zM190.8,73.3h1.0v1.0h-1.0zM182.9,69.2h1.0v1.0h-1.0zM178.1,48.8h1.0v1.0h-1.0zM196.7,65.6h1.0v1.0h-1.0zM212.2,35.2h1.0v1.0h-1.0zM208.1,60.1h1.0v1.0h-1.0zM223.7,51.3h1.0v1.0h-1.0zM210.5,33.0h1.0v1.0h-1.0zM224.5,37.4h1.0v1.0h-1.0zM209.4,33.2h1.0v1.0h-1.0zM212.0,56.6h1.0v1.0h-1.0zM187.4,37.5h1.0v1.0h-1.0zM212.9,57.6h1.0v1.0h-1.0zM224.8,48.1h1.0v1.0h-1.0zM178.9,42.1h1.0v1.0h-1.0zM217.3,33.5h1.0v1.0h-1.0zM182.2,47.8h1.0v1.0h-1.0zM207.8,59.9h1.0v1.0h-1.0zM185.6,35.8h1.0v1.0h-1.0zM208.1,59.8h1.0v1.0h-1.0zM193.5,70.0h1.0v1.0h-1.0zM195.6,29.6h1.0v1.0h-1.0zM225.9,46.8h1.0v1.0h-1.0zM207.1,33.1h1.0v1.0h-1.0zM213.1,57.7h1.0v1.0h-1.0zM181.6,71.5h1.0v1.0h-1.0zM211.4,32.7h1.0v1.0h-1.0zM197.1,34.9h1.0v1.0h-1.0zM197.1,35.0h1.0v1.0h-1.0zM203.0,63.1h1.0v1.0h-1.0zM188.0,37.5h1.0v1.0h-1.0zM215.1,56.7h1.0v1.0h-1.0zM184.3,70.4h1.0v1.0h-1.0zM187.3,74.3h1.0v1.0h-1.0zM196.2,68.2h1.0v1.0h-1.0zM179.2,41.5h1.0v1.0h-1.0zM226.9,50.9h1.0v1.0h-1.0zM211.6,33.4h1.0v1.0h-1.0zM214.5,55.4h1.0v1.0h-1.0zM198.7,34.8h1.0v1.0h-1.0zM196.3,33.2h1.0v1.0h-1.0zM180.8,50.4h1.0v1.0h-1.0zM183.7,59.8h1.0v1.0h-1.0zM191.5,36.0h1.0v1.0h-1.0zM185.2,66.3h1.0v1.0h-1.0zM186.7,36.7h1.0v1.0h-1.0zM223.4,38.8h1.0v1.0h-1.0zM180.8,44.5h1.0v1.0h-1.0zM177.8,52.3h1.0v1.0h-1.0zM225.0,53.6h1.0v1.0h-1.0zM193.5,70.6h1.0v1.0h-1.0zM223.8,44.3h1.0v1.0h-1.0zM184.3,64.1h1.0v1.0h-1.0zM220.3,37.5h1.0v1.0h-1.0zM206.8,31.5h1.0v1.0h-1.0zM197.7,34.1h1.0v1.0h-1.0zM200.6,62.3h1.0v1.0h-1.0zM209.9,57.7h1.0v1.0h-1.0zM180.5,58.1h1.0v1.0h-1.0zM198.0,34.1h1.0v1.0h-1.0zM185.2,70.3h1.0v1.0h-1.0zM181.8,51.4h1.0v1.0h-1.0zM190.0,72.2h1.0v1.0h-1.0zM192.3,31.0h1.0v1.0h-1.0zM198.9,34.3h1.0v1.0h-1.0zM190.6,37.1h1.0v1.0h-1.0zM224.1,37.8h1.0v1.0h-1.0zM186.8,76.9h1.0v1.0h-1.0zM197.8,33.9h1.0v1.0h-1.0zM223.7,52.0h1.0v1.0h-1.0zM185.0,39.2h1.0v1.0h-1.0zM195.8,66.9h1.0v1.0h-1.0zM191.4,35.4h1.0v1.0h-1.0zM186.0,71.2h1.0v1.0h-1.0zM203.6,64.0h1.0v1.0h-1.0zM203.8,34.0h1.0v1.0h-1.0zM194.2,68.7h1.0v1.0h-1.0zM224.5,39.5h1.0v1.0h-1.0zM213.8,55.9h1.0v1.0h-1.0zM209.5,57.3h1.0v1.0h-1.0zM215.5,34.4h1.0v1.0h-1.0zM226.4,48.8h1.0v1.0h-1.0zM185.8,73.0h1.0v1.0h-1.0zM182.5,63.2h1.0v1.0h-1.0zM184.0,64.3h1.0v1.0h-1.0zM208.8,58.5h1.0v1.0h-1.0zM182.6,61.8h1.0v1.0h-1.0zM197.1,34.0h1.0v1.0h-1.0zM182.1,46.1h1.0v1.0h-1.0zM185.7,39.7h1.0v1.0h-1.0zM178.3,59.7h1.0v1.0h-1.0zM186.5,70.7h1.0v1.0h-1.0zM223.8,45.3h1.0v1.0h-1.0zM186.1,71.6h1.0v1.0h-1.0zM182.7,49.5h1.0v1.0h-1.0zM200.4,34.0h1.0v1.0h-1.0zM198.6,66.2h1.0v1.0h-1.0zM177.5,41.9h1.0v1.0h-1.0zM197.1,65.3h1.0v1.0h-1.0zM184.6,35.6h1.0v1.0h-1.0zM196.8,65.5h1.0v1.0h-1.0zM184.1,41.4h1.0v1.0h-1.0zM226.3,46.8h1.0v1.0h-1.0zM181.1,63.9h1.0v1.0h-1.0zM218.8,37.1h1.0v1.0h-1.0zM181.1,47.9h1.0v1.0h-1.0zM222.0,53.5h1.0v1.0h-1.0zM203.1,32.3h1.0v1.0h-1.0zM183.1,52.3h1.0v1.0h-1.0zM199.3,29.4h1.0v1.0h-1.0zM204.4,58.9h1.0v1.0h-1.0zM183.1,51.4h1.0v1.0h-1.0zM181.5,51.9h1.0v1.0h-1.0zM209.5,57.2h1.0v1.0h-1.0zM206.6,33.6h1.0v1.0h-1.0zM217.4,55.0h1.0v1.0h-1.0zM217.3,36.1h1.0v1.0h-1.0zM222.9,35.7h1.0v1.0h-1.0zM219.6,38.1h1.0v1.0h-1.0zM206.6,30.2h1.0v1.0h-1.0zM185.1,40.3h1.0v1.0h-1.0zM189.2,73.2h1.0v1.0h-1.0zM180.8,41.9h1.0v1.0h-1.0zM209.3,60.0h1.0v1.0h-1.0zM224.9,41.9h1.0v1.0h-1.0zM198.6,65.4h1.0v1.0h-1.0zM205.9,57.9h1.0v1.0h-1.0zM220.5,53.9h1.0v1.0h-1.0zM185.9,74.7h1.0v1.0h-1.0zM206.8,57.4h1.0v1.0h-1.0zM183.6,57.3h1.0v1.0h-1.0zM205.9,58.9h1.0v1.0h-1.0zM184.4,60.0h1.0v1.0h-1.0zM183.9,62.2h1.0v1.0h-1.0zM193.4,69.8h1.0v1.0h-1.0zM221.6,38.5h1.0v1.0h-1.0zM217.4,53.9h1.0v1.0h-1.0zM188.7,36.3h1.0v1.0h-1.0zM191.0,74.2h1.0v1.0h-1.0zM199.0,64.8h1.0v1.0h-1.0zM184.6,68.4h1.0v1.0h-1.0zM190.4,37.5h1.0v1.0h-1.0zM195.1,32.5h1.0v1.0h-1.0zM199.0,67.4h1.0v1.0h-1.0zM191.5,71.5h1.0v1.0h-1.0zM185.4,33.5h1.0v1.0h-1.0zM182.4,39.9h1.0v1.0h-1.0zM221.3,38.1h1.0v1.0h-1.0zM227.2,37.1h1.0v1.0h-1.0zM183.0,36.1h1.0v1.0h-1.0zM191.8,36.5h1.0v1.0h-1.0zM205.5,33.8h1.0v1.0h-1.0zM182.9,42.7h1.0v1.0h-1.0zM198.1,32.8h1.0v1.0h-1.0zM179.4,39.0h1.0v1.0h-1.0zM223.4,42.7h1.0v1.0h-1.0zM189.0,74.3h1.0v1.0h-1.0zM197.0,68.6h1.0v1.0h-1.0zM203.9,61.0h1.0v1.0h-1.0zM220.3,53.0h1.0v1.0h-1.0zM204.2,31.3h1.0v1.0h-1.0zM186.0,39.4h1.0v1.0h-1.0zM203.5,32.7h1.0v1.0h-1.0zM182.4,50.9h1.0v1.0h-1.0zM184.0,70.1h1.0v1.0h-1.0zM208.9,59.0h1.0v1.0h-1.0zM202.4,60.7h1.0v1.0h-1.0zM189.3,74.4h1.0v1.0h-1.0zM184.1,68.5h1.0v1.0h-1.0zM211.6,32.9h1.0v1.0h-1.0zM185.6,70.1h1.0v1.0h-1.0zM198.8,63.3h1.0v1.0h-1.0zM216.0,35.1h1.0v1.0h-1.0zM216.1,36.4h1.0v1.0h-1.0zM201.8,30.6h1.0v1.0h-1.0zM211.2,57.2h1.0v1.0h-1.0zM180.1,47.8h1.0v1.0h-1.0zM185.5,72.8h1.0v1.0h-1.0zM201.1,30.4h1.0v1.0h-1.0zM194.4,35.0h1.0v1.0h-1.0zM216.7,35.0h1.0v1.0h-1.0zM200.7,30.5h1.0v1.0h-1.0zM197.4,34.3h1.0v1.0h-1.0zM190.2,75.4h1.0v1.0h-1.0zM222.9,35.8h1.0v1.0h-1.0zM209.1,58.4h1.0v1.0h-1.0zM223.2,35.7h1.0v1.0h-1.0zM180.1,45.6h1.0v1.0h-1.0zM205.7,60.5h1.0v1.0h-1.0zM196.8,32.1h1.0v1.0h-1.0zM186.7,73.1h1.0v1.0h-1.0zM217.0,36.0h1.0v1.0h-1.0zM221.3,52.2h1.0v1.0h-1.0zM218.6,34.3h1.0v1.0h-1.0zM218.3,54.3h1.0v1.0h-1.0zM219.7,36.7h1.0v1.0h-1.0zM220.8,37.8h1.0v1.0h-1.0zM199.5,32.9h1.0v1.0h-1.0zM180.8,49.1h1.0v1.0h-1.0zM206.3,32.9h1.0v1.0h-1.0zM216.0,35.7h1.0v1.0h-1.0zM224.9,47.9h1.0v1.0h-1.0zM194.2,35.1h1.0v1.0h-1.0zM210.0,32.2h1.0v1.0h-1.0zM228.2,47.2h1.0v1.0h-1.0zM207.2,60.3h1.0v1.0h-1.0zM213.6,57.1h1.0v1.0h-1.0zM225.9,41.8h1.0v1.0h-1.0zM195.5,69.1h1.0v1.0h-1.0zM189.8,72.9h1.0v1.0h-1.0zM214.4,34.5h1.0v1.0h-1.0zM210.4,34.1h1.0v1.0h-1.0zM201.2,61.6h1.0v1.0h-1.0zM224.5,48.1h1.0v1.0h-1.0zM184.4,66.9h1.0v1.0h-1.0zM182.2,42.9h1.0v1.0h-1.0zM213.4,57.7h1.0v1.0h-1.0zM224.1,39.6h1.0v1.0h-1.0zM206.5,33.8h1.0v1.0h-1.0zM184.3,61.2h1.0v1.0h-1.0zM207.5,33.2h1.0v1.0h-1.0zM185.7,72.6h1.0v1.0h-1.0zM183.7,63.8h1.0v1.0h-1.0zM182.3,48.2h1.0v1.0h-1.0zM193.0,32.1h1.0v1.0h-1.0zM199.4,29.0h1.0v1.0h-1.0zM187.5,33.4h1.0v1.0h-1.0zM223.1,36.5h1.0v1.0h-1.0zM179.5,57.8h1.0v1.0h-1.0zM199.3,64.0h1.0v1.0h-1.0zM199.2,31.0h1.0v1.0h-1.0zM192.5,35.5h1.0v1.0h-1.0zM188.1,76.2h1.0v1.0h-1.0zM202.3,65.8h1.0v1.0h-1.0zM179.8,43.0h1.0v1.0h-1.0zM208.6,63.1h1.0v1.0h-1.0zM204.1,32.7h1.0v1.0h-1.0zM218.1,35.8h1.0v1.0h-1.0zM191.8,35.5h1.0v1.0h-1.0zM181.0,44.9h1.0v1.0h-1.0zM224.0,52.6h1.0v1.0h-1.0zM202.8,63.8h1.0v1.0h-1.0zM207.7,28.4h1.0v1.0h-1.0zM224.4,43.1h1.0v1.0h-1.0zM198.9,63.1h1.0v1.0h-1.0zM189.4,73.7h1.0v1.0h-1.0zM183.5,56.2h1.0v1.0h-1.0zM211.3,34.6h1.0v1.0h-1.0zM210.6,34.0h1.0v1.0h-1.0zM226.4,46.8h1.0v1.0h-1.0zM221.3,35.8h1.0v1.0h-1.0zM184.2,68.7h1.0v1.0h-1.0zM223.8,42.8h1.0v1.0h-1.0zM228.3,41.9h1.0v1.0h-1.0zM218.0,55.4h1.0v1.0h-1.0zM211.5,60.0h1.0v1.0h-1.0zM224.1,40.2h1.0v1.0h-1.0zM182.5,43.2h1.0v1.0h-1.0zM190.2,74.7h1.0v1.0h-1.0zM194.1,36.1h1.0v1.0h-1.0zM180.7,66.5h1.0v1.0h-1.0zM211.3,34.5h1.0v1.0h-1.0zM214.7,32.2h1.0v1.0h-1.0zM212.1,56.3h1.0v1.0h-1.0zM181.1,57.1h1.0v1.0h-1.0zM224.0,44.0h1.0v1.0h-1.0zM221.4,54.2h1.0v1.0h-1.0zM224.6,48.6h1.0v1.0h-1.0zM193.4,35.3h1.0v1.0h-1.0zM218.4,34.6h1.0v1.0h-1.0zM178.7,56.3h1.0v1.0h-1.0zM181.3,52.1h1.0v1.0h-1.0zM212.4,34.7h1.0v1.0h-1.0zM183.3,54.4h1.0v1.0h-1.0zM182.6,42.3h1.0v1.0h-1.0zM191.8,72.9h1.0v1.0h-1.0zM184.0,41.6h1.0v1.0h-1.0zM224.5,50.1h1.0v1.0h-1.0zM224.4,48.3h1.0v1.0h-1.0zM226.3,51.2h1.0v1.0h-1.0zM182.9,51.7h1.0v1.0h-1.0zM227.1,38.9h1.0v1.0h-1.0zM181.4,41.4h1.0v1.0h-1.0zM192.6,33.9h1.0v1.0h-1.0zM189.5,72.8h1.0v1.0h-1.0z" fill="#000" fill-opacity="0.85"/>
<path d="M260.2,50.8h1.0v1.0h-1.0zM227.6,47.2h1.0v1.0h-1.0zM248.2,56.8h1.0v1.0h-1.0zM236.7,59.5h1.0v1.0h-1.0zM236.6,58.6h1.0v1.0h-1.0zM224.1,40.4h1.0v1.0h-1.0zM242.2,57.4h1.0v1.0h-1.0zM234.0,36.5h1.0v1.0h-1.0zM258.1,55.9h1.0v1.0h-1.0zM224.5,46.1h1.0v1.0h-1.0zM237.1,37.1h1.0v1.0h-1.0zM227.8,37.5h1.0v1.0h-1.0zM228.6,38.1h1.0v1.0h-1.0zM229.0,36.6h1.0v1.0h-1.0zM240.8,33.8h1.0v1.0h-1.0zM229.5,56.3h1.0v1.0h-1.0zM248.7,57.6h1.0v1.0h-1.0zM233.9,56.7h1.0v1.0h-1.0zM253.2,56.8h1.0v1.0h-1.0zM260.3,41.5h1.0v1.0h-1.0zM228.3,55.8h1.0v1.0h-1.0zM241.8,37.0h1.0v1.0h-1.0zM260.6,42.0h1.0v1.0h-1.0zM262.7,47.4h1.0v1.0h-1.0zM239.0,59.0h1.0v1.0h-1.0zM229.7,57.2h1.0v1.0h-1.0zM252.5,57.3h1.0v1.0h-1.0zM250.2,62.3h1.0v1.0h-1.0zM255.0,37.9h1.0v1.0h-1.0zM248.9,56.9h1.0v1.0h-1.0zM224.3,54.0h1.0v1.0h-1.0zM263.5,50.2h1.0v1.0h-1.0zM230.0,58.1h1.0v1.0h-1.0zM258.0,56.1h1.0v1.0h-1.0zM257.9,56.3h1.0v1.0h-1.0zM247.3,57.0h1.0v1.0h-1.0zM238.5,37.5h1.0v1.0h-1.0zM247.3,37.2h1.0v1.0h-1.0zM242.5,37.0h1.0v1.0h-1.0zM255.3,56.4h1.0v1.0h-1.0zM240.3,59.7h1.0v1.0h-1.0zM236.1,57.7h1.0v1.0h-1.0zM245.9,38.3h1.0v1.0h-1.0zM260.4,39.1h1.0v1.0h-1.0zM238.5,35.5h1.0v1.0h-1.0zM242.4,59.0h1.0v1.0h-1.0zM264.7,48.1h1.0v1.0h-1.0zM254.1,37.8h1.0v1.0h-1.0zM248.6,37.1h1.0v1.0h-1.0zM225.9,43.6h1.0v1.0h-1.0zM261.2,54.8h1.0v1.0h-1.0zM224.3,39.6h1.0v1.0h-1.0zM259.6,38.3h1.0v1.0h-1.0zM246.8,38.2h1.0v1.0h-1.0zM233.6,60.0h1.0v1.0h-1.0zM224.7,47.3h1.0v1.0h-1.0zM241.1,36.8h1.0v1.0h-1.0zM225.4,52.1h1.0v1.0h-1.0zM249.3,56.5h1.0v1.0h-1.0zM226.6,48.0h1.0v1.0h-1.0zM225.9,43.9h1.0v1.0h-1.0zM263.1,48.7h1.0v1.0h-1.0zM225.3,44.2h1.0v1.0h-1.0zM243.1,36.3h1.0v1.0h-1.0zM263.5,50.8h1.0v1.0h-1.0zM262.7,50.6h1.0v1.0h-1.0zM250.7,37.6h1.0v1.0h-1.0zM259.3,54.3h1.0v1.0h-1.0zM230.2,57.8h1.0v1.0h-1.0zM234.9,37.6h1.0v1.0h-1.0zM261.0,54.7h1.0v1.0h-1.0zM255.7,55.9h1.0v1.0h-1.0zM245.2,36.3h1.0v1.0h-1.0zM243.7,57.7h1.0v1.0h-1.0zM253.7,35.7h1.0v1.0h-1.0zM251.8,57.1h1.0v1.0h-1.0zM252.6,58.1h1.0v1.0h-1.0zM231.7,56.9h1.0v1.0h-1.0zM226.4,45.0h1.0v1.0h-1.0zM226.2,45.8h1.0v1.0h-1.0zM258.9,56.2h1.0v1.0h-1.0zM253.7,37.0h1.0v1.0h-1.0zM251.1,36.8h1.0v1.0h-1.0zM227.2,56.5h1.0v1.0h-1.0zM229.0,57.9h1.0v1.0h-1.0zM225.2,57.1h1.0v1.0h-1.0zM224.0,54.9h1.0v1.0h-1.0zM252.0,56.6h1.0v1.0h-1.0zM226.7,48.7h1.0v1.0h-1.0zM242.0,57.9h1.0v1.0h-1.0zM244.8,57.2h1.0v1.0h-1.0zM224.0,54.6h1.0v1.0h-1.0zM242.5,57.0h1.0v1.0h-1.0zM228.7,57.3h1.0v1.0h-1.0zM224.7,45.3h1.0v1.0h-1.0zM264.2,45.3h1.0v1.0h-1.0zM231.6,56.7h1.0v1.0h-1.0zM255.4,39.0h1.0v1.0h-1.0zM261.7,55.6h1.0v1.0h-1.0zM224.6,51.2h1.0v1.0h-1.0zM223.6,40.8h1.0v1.0h-1.0zM225.7,43.7h1.0v1.0h-1.0zM230.2,57.2h1.0v1.0h-1.0zM222.4,54.2h1.0v1.0h-1.0zM226.1,49.9h1.0v1.0h-1.0zM247.9,58.6h1.0v1.0h-1.0zM250.1,38.1h1.0v1.0h-1.0zM223.1,37.3h1.0v1.0h-1.0zM230.6,56.5h1.0v1.0h-1.0zM230.7,56.4h1.0v1.0h-1.0zM233.5,57.3h1.0v1.0h-1.0zM251.0,57.5h1.0v1.0h-1.0zM241.9,57.7h1.0v1.0h-1.0zM234.6,58.0h1.0v1.0h-1.0zM255.1,55.9h1.0v1.0h-1.0zM241.8,57.3h1.0v1.0h-1.0zM248.7,36.8h1.0v1.0h-1.0zM256.2,56.9h1.0v1.0h-1.0zM245.1,57.2h1.0v1.0h-1.0zM251.6,56.7h1.0v1.0h-1.0z" fill="#000" fill-opacity="0.85"/>
<path d="M232.0,78.3h1.0v1.0h-1.0zM253.9,62.5h1.0v1.0h-1.0zM254.9,68.2h1.0v1.0h-1.0zM230.5,85.9h1.0v1.0h-1.0zM256.6,67.4h1.0v1.0h-1.0zM236.9,102.8h1.0v1.0h-1.0zM233.4,77.5h1.0v1.0h-1.0zM239.1,107.8h1.0v1.0h-1.0zM252.7,64.8h1.0v1.0h-1.0zM256.2,78.7h1.0v1.0h-1.0zM238.6,61.9h1.0v1.0h-1.0zM235.2,97.7h1.0v1.0h-1.0zM232.5,92.8h1.0v1.0h-1.0zM237.1,105.9h1.0v1.0h-1.0zM253.3,93.6h1.0v1.0h-1.0zM237.0,103.3h1.0v1.0h-1.0zM245.2,61.1h1.0v1.0h-1.0zM250.4,103.9h1.0v1.0h-1.0zM231.6,76.8h1.0v1.0h-1.0zM255.8,78.7h1.0v1.0h-1.0zM235.4,98.3h1.0v1.0h-1.0zM229.5,90.2h1.0v1.0h-1.0zM256.7,71.7h1.0v1.0h-1.0zM232.9,71.7h1.0v1.0h-1.0zM261.5,82.4h1.0v1.0h-1.0zM239.2,60.1h1.0v1.0h-1.0zM254.1,97.4h1.0v1.0h-1.0zM237.4,101.6h1.0v1.0h-1.0zM238.2,63.1h1.0v1.0h-1.0zM232.3,76.2h1.0v1.0h-1.0zM245.8,109.8h1.0v1.0h-1.0zM258.1,75.8h1.0v1.0h-1.0zM237.2,101.4h1.0v1.0h-1.0zM237.9,105.5h1.0v1.0h-1.0zM252.0,60.8h1.0v1.0h-1.0zM251.5,100.1h1.0v1.0h-1.0zM235.8,65.4h1.0v1.0h-1.0zM241.9,110.3h1.0v1.0h-1.0zM256.8,74.9h1.0v1.0h-1.0zM236.0,98.3h1.0v1.0h-1.0zM249.1,109.3h1.0v1.0h-1.0zM235.5,66.2h1.0v1.0h-1.0zM245.5,112.2h1.0v1.0h-1.0zM247.2,60.9h1.0v1.0h-1.0zM257.1,71.9h1.0v1.0h-1.0zM255.7,75.2h1.0v1.0h-1.0zM238.6,63.2h1.0v1.0h-1.0zM253.2,98.9h1.0v1.0h-1.0zM252.3,96.0h1.0v1.0h-1.0zM241.1,61.2h1.0v1.0h-1.0zM256.0,78.9h1.0v1.0h-1.0zM236.1,102.2h1.0v1.0h-1.0zM237.8,61.8h1.0v1.0h-1.0zM235.0,65.9h1.0v1.0h-1.0zM255.8,73.2h1.0v1.0h-1.0zM247.4,111.2h1.0v1.0h-1.0zM257.5,84.5h1.0v1.0h-1.0zM234.4,91.3h1.0v1.0h-1.0zM256.0,83.8h1.0v1.0h-1.0zM257.4,73.8h1.0v1.0h-1.0zM254.6,87.2h1.0v1.0h-1.0zM254.9,70.0h1.0v1.0h-1.0zM232.5,89.9h1.0v1.0h-1.0zM254.1,88.0h1.0v1.0h-1.0zM251.1,102.8h1.0v1.0h-1.0zM257.6,88.1h1.0v1.0h-1.0zM252.1,100.8h1.0v1.0h-1.0zM257.1,92.9h1.0v1.0h-1.0zM253.7,98.6h1.0v1.0h-1.0zM232.7,90.9h1.0v1.0h-1.0zM255.1,75.6h1.0v1.0h-1.0zM232.9,94.3h1.0v1.0h-1.0zM253.3,97.0h1.0v1.0h-1.0zM253.3,66.7h1.0v1.0h-1.0zM254.8,68.3h1.0v1.0h-1.0zM235.2,68.1h1.0v1.0h-1.0zM249.1,61.4h1.0v1.0h-1.0zM256.6,88.1h1.0v1.0h-1.0zM233.0,71.0h1.0v1.0h-1.0zM253.4,62.8h1.0v1.0h-1.0zM255.6,79.7h1.0v1.0h-1.0zM255.2,86.9h1.0v1.0h-1.0zM231.5,73.2h1.0v1.0h-1.0zM255.0,67.4h1.0v1.0h-1.0zM238.0,63.4h1.0v1.0h-1.0zM255.5,67.3h1.0v1.0h-1.0zM238.7,108.6h1.0v1.0h-1.0zM233.2,82.6h1.0v1.0h-1.0zM239.3,107.9h1.0v1.0h-1.0zM249.5,106.2h1.0v1.0h-1.0zM256.7,84.6h1.0v1.0h-1.0zM243.2,61.6h1.0v1.0h-1.0zM250.9,103.0h1.0v1.0h-1.0zM235.9,99.1h1.0v1.0h-1.0zM237.8,107.1h1.0v1.0h-1.0zM239.7,63.2h1.0v1.0h-1.0zM255.8,83.6h1.0v1.0h-1.0zM256.2,72.1h1.0v1.0h-1.0zM234.2,66.6h1.0v1.0h-1.0zM243.7,110.8h1.0v1.0h-1.0zM236.5,98.0h1.0v1.0h-1.0zM236.9,100.1h1.0v1.0h-1.0zM233.2,81.5h1.0v1.0h-1.0zM233.4,74.9h1.0v1.0h-1.0zM232.5,92.1h1.0v1.0h-1.0zM244.6,60.6h1.0v1.0h-1.0zM233.1,74.6h1.0v1.0h-1.0zM249.3,60.6h1.0v1.0h-1.0zM231.9,70.5h1.0v1.0h-1.0zM244.1,60.1h1.0v1.0h-1.0zM231.3,81.8h1.0v1.0h-1.0zM235.8,99.5h1.0v1.0h-1.0zM247.0,62.6h1.0v1.0h-1.0zM232.8,84.9h1.0v1.0h-1.0zM238.3,106.3h1.0v1.0h-1.0zM256.2,66.2h1.0v1.0h-1.0zM232.9,68.7h1.0v1.0h-1.0zM238.0,104.5h1.0v1.0h-1.0zM248.0,108.5h1.0v1.0h-1.0zM238.0,63.7h1.0v1.0h-1.0zM257.2,77.7h1.0v1.0h-1.0zM256.3,74.8h1.0v1.0h-1.0zM233.7,67.0h1.0v1.0h-1.0zM255.4,73.7h1.0v1.0h-1.0zM233.2,77.3h1.0v1.0h-1.0zM257.9,78.2h1.0v1.0h-1.0zM232.0,76.8h1.0v1.0h-1.0zM250.5,102.7h1.0v1.0h-1.0zM237.3,100.7h1.0v1.0h-1.0zM237.5,102.1h1.0v1.0h-1.0zM252.5,104.9h1.0v1.0h-1.0zM242.7,109.8h1.0v1.0h-1.0zM235.8,97.6h1.0v1.0h-1.0zM256.9,68.2h1.0v1.0h-1.0zM235.4,65.4h1.0v1.0h-1.0zM232.6,76.1h1.0v1.0h-1.0zM257.9,78.0h1.0v1.0h-1.0zM257.1,80.7h1.0v1.0h-1.0zM251.1,101.5h1.0v1.0h-1.0zM232.7,82.6h1.0v1.0h-1.0zM242.9,110.2h1.0v1.0h-1.0zM253.6,92.3h1.0v1.0h-1.0zM231.8,82.8h1.0v1.0h-1.0zM256.5,77.1h1.0v1.0h-1.0zM233.5,90.6h1.0v1.0h-1.0zM233.6,85.0h1.0v1.0h-1.0zM255.3,64.3h1.0v1.0h-1.0zM238.7,107.3h1.0v1.0h-1.0zM237.9,104.1h1.0v1.0h-1.0zM240.4,60.5h1.0v1.0h-1.0zM256.6,91.6h1.0v1.0h-1.0zM248.6,110.8h1.0v1.0h-1.0zM236.7,63.2h1.0v1.0h-1.0zM256.2,68.0h1.0v1.0h-1.0zM234.9,68.3h1.0v1.0h-1.0zM252.6,99.2h1.0v1.0h-1.0zM255.7,99.2h1.0v1.0h-1.0zM243.4,61.3h1.0v1.0h-1.0zM252.6,104.2h1.0v1.0h-1.0zM254.8,84.2h1.0v1.0h-1.0zM255.0,79.6h1.0v1.0h-1.0zM233.2,92.7h1.0v1.0h-1.0zM235.7,100.2h1.0v1.0h-1.0zM255.3,83.1h1.0v1.0h-1.0zM245.0,111.7h1.0v1.0h-1.0zM255.2,89.2h1.0v1.0h-1.0zM231.2,72.8h1.0v1.0h-1.0zM252.3,97.3h1.0v1.0h-1.0zM235.4,105.0h1.0v1.0h-1.0zM235.1,65.3h1.0v1.0h-1.0zM255.5,83.0h1.0v1.0h-1.0zM238.5,62.5h1.0v1.0h-1.0zM246.0,111.5h1.0v1.0h-1.0zM236.1,98.7h1.0v1.0h-1.0zM254.8,87.2h1.0v1.0h-1.0zM231.1,94.1h1.0v1.0h-1.0zM232.9,88.8h1.0v1.0h-1.0zM237.4,105.7h1.0v1.0h-1.0zM233.5,71.9h1.0v1.0h-1.0zM247.3,110.1h1.0v1.0h-1.0zM245.8,61.3h1.0v1.0h-1.0zM233.9,62.8h1.0v1.0h-1.0zM239.0,106.7h1.0v1.0h-1.0zM237.2,101.3h1.0v1.0h-1.0zM237.6,103.8h1.0v1.0h-1.0zM248.9,62.2h1.0v1.0h-1.0zM254.5,89.2h1.0v1.0h-1.0zM253.8,65.0h1.0v1.0h-1.0zM235.9,97.4h1.0v1.0h-1.0zM233.5,72.9h1.0v1.0h-1.0zM232.2,99.8h1.0v1.0h-1.0zM233.3,77.8h1.0v1.0h-1.0zM253.8,95.1h1.0v1.0h-1.0zM247.9,60.9h1.0v1.0h-1.0zM250.6,103.5h1.0v1.0h-1.0zM255.8,74.3h1.0v1.0h-1.0zM254.6,91.6h1.0v1.0h-1.0zM257.0,82.6h1.0v1.0h-1.0zM255.1,76.4h1.0v1.0h-1.0zM232.0,94.7h1.0v1.0h-1.0zM237.5,104.2h1.0v1.0h-1.0zM232.0,75.6h1.0v1.0h-1.0zM242.2,61.9h1.0v1.0h-1.0zM256.5,82.6h1.0v1.0h-1.0zM237.4,64.5h1.0v1.0h-1.0zM232.6,83.1h1.0v1.0h-1.0zM239.3,106.9h1.0v1.0h-1.0zM240.7,61.4h1.0v1.0h-1.0zM243.2,112.1h1.0v1.0h-1.0zM247.3,62.1h1.0v1.0h-1.0zM254.6,69.7h1.0v1.0h-1.0zM253.4,91.9h1.0v1.0h-1.0zM230.4,94.1h1.0v1.0h-1.0zM239.2,106.5h1.0v1.0h-1.0zM232.6,95.1h1.0v1.0h-1.0zM246.4,59.4h1.0v1.0h-1.0zM258.1,83.7h1.0v1.0h-1.0zM238.9,111.0h1.0v1.0h-1.0zM235.0,97.8h1.0v1.0h-1.0zM249.9,106.2h1.0v1.0h-1.0zM256.9,79.9h1.0v1.0h-1.0zM253.9,91.8h1.0v1.0h-1.0zM232.4,83.9h1.0v1.0h-1.0zM232.1,89.9h1.0v1.0h-1.0zM255.9,84.0h1.0v1.0h-1.0zM238.4,62.9h1.0v1.0h-1.0zM249.8,59.1h1.0v1.0h-1.0zM254.7,82.7h1.0v1.0h-1.0zM250.6,110.9h1.0v1.0h-1.0zM228.0,75.6h1.0v1.0h-1.0zM238.6,109.0h1.0v1.0h-1.0zM235.4,94.0h1.0v1.0h-1.0zM238.2,61.7h1.0v1.0h-1.0zM251.9,98.3h1.0v1.0h-1.0zM255.9,75.8h1.0v1.0h-1.0zM250.4,102.8h1.0v1.0h-1.0zM238.9,108.4h1.0v1.0h-1.0zM255.7,69.5h1.0v1.0h-1.0zM248.5,62.5h1.0v1.0h-1.0zM234.1,88.2h1.0v1.0h-1.0zM242.8,62.2h1.0v1.0h-1.0zM236.8,65.0h1.0v1.0h-1.0zM252.1,100.1h1.0v1.0h-1.0zM248.7,107.5h1.0v1.0h-1.0zM232.8,75.5h1.0v1.0h-1.0zM242.0,59.5h1.0v1.0h-1.0zM253.1,98.2h1.0v1.0h-1.0zM237.8,59.9h1.0v1.0h-1.0zM234.3,91.6h1.0v1.0h-1.0zM257.0,70.0h1.0v1.0h-1.0zM249.5,110.2h1.0v1.0h-1.0zM244.4,61.4h1.0v1.0h-1.0zM252.8,109.1h1.0v1.0h-1.0zM242.2,110.1h1.0v1.0h-1.0zM232.2,79.2h1.0v1.0h-1.0zM253.4,94.5h1.0v1.0h-1.0zM234.6,99.2h1.0v1.0h-1.0zM234.9,96.4h1.0v1.0h-1.0zM242.1,109.7h1.0v1.0h-1.0zM235.6,105.1h1.0v1.0h-1.0zM248.6,110.5h1.0v1.0h-1.0zM237.5,101.5h1.0v1.0h-1.0zM248.3,109.5h1.0v1.0h-1.0zM234.7,64.8h1.0v1.0h-1.0zM254.6,67.6h1.0v1.0h-1.0zM233.3,71.4h1.0v1.0h-1.0zM229.4,86.0h1.0v1.0h-1.0zM245.5,57.8h1.0v1.0h-1.0zM233.7,89.2h1.0v1.0h-1.0zM252.2,98.0h1.0v1.0h-1.0zM243.8,111.6h1.0v1.0h-1.0zM234.0,87.2h1.0v1.0h-1.0zM236.0,99.6h1.0v1.0h-1.0zM255.1,80.9h1.0v1.0h-1.0zM251.7,64.4h1.0v1.0h-1.0zM234.7,95.8h1.0v1.0h-1.0zM242.7,61.2h1.0v1.0h-1.0zM252.8,63.6h1.0v1.0h-1.0zM234.4,64.5h1.0v1.0h-1.0zM251.6,100.7h1.0v1.0h-1.0zM234.3,98.9h1.0v1.0h-1.0zM255.7,86.5h1.0v1.0h-1.0zM233.1,93.4h1.0v1.0h-1.0zM249.6,106.1h1.0v1.0h-1.0zM231.4,79.1h1.0v1.0h-1.0zM254.3,87.8h1.0v1.0h-1.0zM253.7,95.0h1.0v1.0h-1.0zM236.5,100.7h1.0v1.0h-1.0zM253.7,67.9h1.0v1.0h-1.0zM240.9,60.4h1.0v1.0h-1.0zM237.5,102.2h1.0v1.0h-1.0zM240.9,62.7h1.0v1.0h-1.0zM257.5,73.8h1.0v1.0h-1.0zM234.1,90.3h1.0v1.0h-1.0zM257.2,77.4h1.0v1.0h-1.0zM253.4,64.0h1.0v1.0h-1.0z" fill="#000" fill-opacity="0.85"/>
<path d="M182.20,44.20 C182.77,41.28 185.13,40.27 187.60,38.80 C190.07,37.33 193.87,36.18 197.00,35.40 C200.13,34.62 203.27,33.87 206.40,34.10 C209.53,34.33 213.10,35.78 215.80,36.80 C218.50,37.82 221.37,37.85 222.60,40.20 C223.83,42.55 224.33,48.55 223.20,50.90 C222.07,53.25 218.82,53.18 215.80,54.30 C212.78,55.42 208.23,55.92 205.10,57.60 C201.97,59.28 199.25,62.15 197.00,64.40 C194.75,66.65 193.17,69.65 191.60,71.10 C190.03,72.55 188.60,73.77 187.60,73.10 C186.60,72.43 186.17,69.90 185.60,67.10 C185.03,64.30 184.77,60.12 184.20,56.30 C183.63,52.48 181.63,47.12 182.20,44.20Z" fill="#fafafa" stroke="#8a8a8a" stroke-width="0.5"/>
<path d="M184.44,45.02 C184.92,42.52 186.96,41.65 189.07,40.39 C191.19,39.13 194.45,38.14 197.14,37.47 C199.83,36.80 202.52,36.15 205.21,36.35 C207.90,36.55 210.96,37.80 213.28,38.67 C215.60,39.54 218.06,39.57 219.12,41.59 C220.17,43.61 220.60,48.76 219.63,50.77 C218.66,52.79 215.87,52.73 213.28,53.69 C210.69,54.65 206.78,55.08 204.09,56.52 C201.40,57.97 199.07,60.43 197.14,62.36 C195.21,64.29 193.85,66.87 192.51,68.11 C191.16,69.36 189.93,70.40 189.07,69.83 C188.21,69.26 187.84,67.08 187.36,64.68 C186.87,62.27 186.64,58.68 186.16,55.41 C185.67,52.13 183.95,47.53 184.44,45.02Z" fill="#f0f0f0" stroke="#8a8a8a" stroke-width="0.5"/>
<path d="M186.68,45.84 C187.08,43.75 188.78,43.02 190.55,41.97 C192.31,40.92 195.04,40.10 197.28,39.54 C199.53,38.98 201.77,38.44 204.02,38.61 C206.27,38.77 208.82,39.81 210.76,40.54 C212.69,41.27 214.75,41.29 215.63,42.98 C216.51,44.66 216.87,48.96 216.06,50.64 C215.25,52.33 212.92,52.28 210.76,53.08 C208.59,53.88 205.33,54.24 203.09,55.45 C200.84,56.65 198.90,58.71 197.28,60.32 C195.67,61.93 194.54,64.08 193.41,65.12 C192.29,66.16 191.26,67.03 190.55,66.55 C189.83,66.08 189.52,64.26 189.11,62.25 C188.71,60.25 188.52,57.25 188.11,54.52 C187.70,51.78 186.27,47.93 186.68,45.84Z" fill="#dedede" stroke="#8a8a8a" stroke-width="0.5"/>
<path d="M188.91,46.66 C189.24,44.99 190.60,44.40 192.02,43.56 C193.44,42.72 195.62,42.06 197.43,41.61 C199.23,41.15 201.03,40.72 202.83,40.86 C204.63,40.99 206.68,41.83 208.24,42.41 C209.79,42.99 211.44,43.01 212.14,44.37 C212.85,45.72 213.14,49.17 212.49,50.52 C211.84,51.87 209.97,51.83 208.24,52.47 C206.50,53.11 203.88,53.40 202.08,54.37 C200.28,55.34 198.72,56.99 197.43,58.28 C196.13,59.57 195.22,61.30 194.32,62.13 C193.42,62.97 192.59,63.67 192.02,63.28 C191.45,62.90 191.20,61.44 190.87,59.83 C190.54,58.22 190.39,55.82 190.06,53.62 C189.74,51.43 188.59,48.34 188.91,46.66Z" fill="#c0c0c0" stroke="#8a8a8a" stroke-width="0.5"/>
<path d="M191.15,47.49 C191.40,46.22 192.42,45.78 193.49,45.15 C194.56,44.51 196.21,44.01 197.57,43.67 C198.92,43.33 200.28,43.01 201.64,43.11 C203.00,43.21 204.54,43.84 205.71,44.28 C206.88,44.72 208.13,44.74 208.66,45.75 C209.19,46.77 209.41,49.37 208.92,50.39 C208.43,51.41 207.02,51.38 205.71,51.86 C204.41,52.35 202.43,52.56 201.08,53.29 C199.72,54.02 198.54,55.27 197.57,56.24 C196.59,57.22 195.91,58.52 195.23,59.14 C194.55,59.77 193.93,60.30 193.49,60.01 C193.06,59.72 192.87,58.62 192.63,57.41 C192.38,56.20 192.27,54.38 192.02,52.73 C191.77,51.08 190.91,48.75 191.15,47.49Z" fill="#a0a0a0" stroke="#8a8a8a" stroke-width="0.5"/>
<path d="M193.39,48.31 C193.56,47.46 194.25,47.16 194.97,46.73 C195.69,46.31 196.79,45.97 197.71,45.74 C198.62,45.51 199.54,45.29 200.45,45.36 C201.36,45.43 202.40,45.85 203.19,46.15 C203.98,46.45 204.82,46.46 205.18,47.14 C205.53,47.83 205.68,49.58 205.35,50.26 C205.02,50.95 204.07,50.93 203.19,51.25 C202.31,51.58 200.98,51.73 200.07,52.22 C199.16,52.71 198.36,53.54 197.71,54.20 C197.05,54.86 196.59,55.73 196.13,56.15 C195.68,56.58 195.26,56.93 194.97,56.74 C194.68,56.54 194.55,55.80 194.38,54.99 C194.22,54.17 194.14,52.95 193.97,51.84 C193.81,50.72 193.23,49.16 193.39,48.31Z" fill="#c8c8c8" stroke="#8a8a8a" stroke-width="0.5"/>
<path d="M224.50,39.00 C226.50,37.55 234.42,38.22 240.00,38.30 C245.58,38.38 254.42,38.22 258.00,39.50 C261.58,40.78 261.50,43.33 261.50,46.00 C261.50,48.67 261.58,53.70 258.00,55.50 C254.42,57.30 245.58,56.88 240.00,56.80 C234.42,56.72 226.50,56.63 224.50,55.00 C222.50,53.37 228.00,49.67 228.00,47.00 C228.00,44.33 222.50,40.45 224.50,39.00Z" fill="#f6f6f6" stroke="#8a8a8a" stroke-width="0.5"/>
<path d="M229.12,40.88 C230.62,39.79 236.56,40.29 240.75,40.35 C244.94,40.41 251.56,40.29 254.25,41.25 C256.94,42.21 256.88,44.12 256.88,46.12 C256.88,48.12 256.94,51.90 254.25,53.25 C251.56,54.60 244.94,54.29 240.75,54.22 C236.56,54.16 230.62,54.10 229.12,52.88 C227.62,51.65 231.75,48.88 231.75,46.88 C231.75,44.88 227.62,41.96 229.12,40.88Z" fill="#e8e8e8" stroke="#8a8a8a" stroke-width="0.5"/>
<path d="M233.75,42.75 C234.75,42.02 238.71,42.36 241.50,42.40 C244.29,42.44 248.71,42.36 250.50,43.00 C252.29,43.64 252.25,44.92 252.25,46.25 C252.25,47.58 252.29,50.10 250.50,51.00 C248.71,51.90 244.29,51.69 241.50,51.65 C238.71,51.61 234.75,51.57 233.75,50.75 C232.75,49.93 235.50,48.08 235.50,46.75 C235.50,45.42 232.75,43.48 233.75,42.75Z" fill="#f4f4f4" stroke="#8a8a8a" stroke-width="0.5"/>
<path d="M237.45,44.25 C238.05,43.81 240.42,44.02 242.10,44.04 C243.78,44.06 246.43,44.02 247.50,44.40 C248.57,44.78 248.55,45.55 248.55,46.35 C248.55,47.15 248.57,48.66 247.50,49.20 C246.43,49.74 243.78,49.61 242.10,49.59 C240.42,49.56 238.05,49.54 237.45,49.05 C236.85,48.56 238.50,47.45 238.50,46.65 C238.50,45.85 236.85,44.69 237.45,44.25Z" fill="#e2e2e2" stroke="#8a8a8a" stroke-width="0.5"/>
<path d="M244.04,62.50 C245.62,62.50 247.70,62.83 249.20,63.50 C250.71,64.17 252.15,64.92 253.07,66.50 C253.99,68.08 254.43,70.75 254.71,73.00 C254.98,75.25 254.91,77.17 254.71,80.00 C254.51,82.83 254.10,86.73 253.50,90.00 C252.90,93.27 251.88,96.77 251.09,99.60 C250.31,102.43 249.88,105.18 248.77,107.00 C247.67,108.82 245.91,110.33 244.47,110.50 C243.04,110.67 241.35,109.82 240.17,108.00 C239.00,106.18 238.35,102.60 237.42,99.60 C236.49,96.60 235.20,93.27 234.58,90.00 C233.97,86.73 233.79,83.00 233.72,80.00 C233.65,77.00 233.72,74.33 234.15,72.00 C234.58,69.67 235.37,67.42 236.30,66.00 C237.23,64.58 238.45,64.08 239.74,63.50 C241.03,62.92 242.47,62.50 244.04,62.50Z" fill="#f8f8f8" stroke="#8a8a8a" stroke-width="0.5"/>
<path d="M244.11,65.97 C245.46,65.97 247.24,66.26 248.54,66.83 C249.83,67.40 251.07,68.05 251.86,69.40 C252.65,70.76 253.03,73.05 253.26,74.98 C253.49,76.91 253.43,78.56 253.26,80.99 C253.09,83.42 252.74,86.77 252.23,89.58 C251.71,92.38 250.84,95.38 250.16,97.81 C249.48,100.25 249.11,102.61 248.17,104.17 C247.22,105.73 245.71,107.03 244.48,107.17 C243.25,107.31 241.79,106.58 240.79,105.03 C239.78,103.47 239.22,100.39 238.42,97.81 C237.62,95.24 236.52,92.38 235.99,89.58 C235.46,86.77 235.31,83.57 235.25,80.99 C235.19,78.42 235.25,76.13 235.62,74.12 C235.99,72.12 236.66,70.19 237.46,68.97 C238.26,67.76 239.31,67.33 240.42,66.83 C241.52,66.33 242.75,65.97 244.11,65.97Z" fill="#eeeeee" stroke="#8a8a8a" stroke-width="0.5"/>
<path d="M244.17,69.44 C245.30,69.44 246.79,69.68 247.87,70.16 C248.95,70.64 249.99,71.17 250.64,72.31 C251.30,73.44 251.62,75.35 251.81,76.97 C252.01,78.58 251.96,79.95 251.81,81.98 C251.67,84.01 251.38,86.81 250.95,89.15 C250.52,91.49 249.79,94.00 249.23,96.03 C248.66,98.06 248.35,100.03 247.56,101.33 C246.77,102.64 245.51,103.72 244.48,103.84 C243.45,103.96 242.24,103.35 241.40,102.05 C240.56,100.75 240.09,98.18 239.43,96.03 C238.76,93.88 237.83,91.49 237.39,89.15 C236.95,86.81 236.83,84.13 236.78,81.98 C236.72,79.83 236.78,77.92 237.08,76.25 C237.39,74.58 237.96,72.97 238.62,71.95 C239.29,70.93 240.17,70.58 241.09,70.16 C242.01,69.74 243.04,69.44 244.17,69.44Z" fill="#e2e2e2" stroke="#8a8a8a" stroke-width="0.5"/>
<path d="M244.24,72.91 C245.14,72.91 246.34,73.10 247.20,73.49 C248.07,73.87 248.90,74.30 249.43,75.21 C249.96,76.12 250.21,77.66 250.37,78.95 C250.53,80.24 250.48,81.35 250.37,82.97 C250.25,84.60 250.02,86.85 249.68,88.72 C249.33,90.60 248.74,92.62 248.29,94.24 C247.84,95.87 247.59,97.46 246.96,98.50 C246.32,99.54 245.31,100.42 244.48,100.51 C243.66,100.61 242.69,100.12 242.01,99.08 C241.34,98.03 240.96,95.97 240.43,94.24 C239.89,92.52 239.15,90.60 238.80,88.72 C238.44,86.85 238.34,84.70 238.30,82.97 C238.26,81.25 238.30,79.72 238.55,78.38 C238.80,77.03 239.25,75.74 239.79,74.92 C240.32,74.11 241.02,73.82 241.76,73.49 C242.51,73.15 243.33,72.91 244.24,72.91Z" fill="#d2d2d2" stroke="#8a8a8a" stroke-width="0.5"/>
<path d="M244.30,76.38 C244.98,76.38 245.89,76.53 246.54,76.82 C247.19,77.11 247.82,77.43 248.21,78.12 C248.61,78.80 248.80,79.96 248.92,80.93 C249.04,81.91 249.01,82.74 248.92,83.97 C248.84,85.19 248.66,86.88 248.40,88.30 C248.14,89.72 247.70,91.23 247.36,92.46 C247.02,93.69 246.83,94.88 246.35,95.67 C245.87,96.45 245.11,97.11 244.49,97.18 C243.87,97.26 243.13,96.89 242.62,96.10 C242.12,95.31 241.84,93.76 241.43,92.46 C241.03,91.16 240.47,89.72 240.20,88.30 C239.94,86.88 239.86,85.27 239.83,83.97 C239.80,82.67 239.83,81.51 240.02,80.50 C240.20,79.49 240.54,78.51 240.95,77.90 C241.35,77.29 241.88,77.07 242.44,76.82 C243.00,76.56 243.62,76.38 244.30,76.38Z" fill="#c4c4c4" stroke="#8a8a8a" stroke-width="0.5"/>
<path d="M244.37,79.85 C244.83,79.85 245.43,79.95 245.87,80.15 C246.31,80.34 246.73,80.56 247.00,81.02 C247.27,81.48 247.40,82.26 247.48,82.92 C247.56,83.57 247.54,84.13 247.48,84.96 C247.42,85.78 247.30,86.92 247.13,87.88 C246.95,88.83 246.65,89.85 246.42,90.67 C246.19,91.50 246.07,92.30 245.75,92.83 C245.42,93.36 244.91,93.81 244.49,93.85 C244.07,93.90 243.58,93.65 243.24,93.12 C242.89,92.60 242.71,91.55 242.44,90.67 C242.16,89.80 241.79,88.83 241.61,87.88 C241.43,86.92 241.38,85.83 241.36,84.96 C241.34,84.08 241.36,83.31 241.48,82.62 C241.61,81.94 241.84,81.29 242.11,80.88 C242.38,80.46 242.74,80.32 243.11,80.15 C243.49,79.98 243.91,79.85 244.37,79.85Z" fill="#dedede" stroke="#8a8a8a" stroke-width="0.5"/>
<path d="M161.9,23.7 H270.5 V114.2 H161.9 Z" fill="none" stroke="#000" stroke-width="2.0"/>
<path d="M160.1,114.2h1.8M160.1,111.9h1.8M160.1,109.7h1.8M160.1,107.4h1.8M160.1,105.2h1.8M160.1,102.9h1.8M160.1,100.6h1.8M160.1,98.4h1.8M160.1,96.1h1.8M160.1,93.8h1.8M160.1,91.6h1.8M160.1,89.3h1.8M160.1,87.1h1.8M160.1,84.8h1.8M160.1,82.5h1.8M160.1,80.3h1.8M160.1,78.0h1.8M160.1,75.7h1.8M160.1,73.5h1.8M160.1,71.2h1.8M160.1,69.0h1.8M160.1,66.7h1.8M160.1,64.4h1.8M160.1,62.2h1.8M160.1,59.9h1.8M160.1,57.6h1.8M160.1,55.4h1.8M160.1,53.1h1.8M160.1,50.9h1.8M160.1,48.6h1.8M160.1,46.3h1.8M160.1,44.1h1.8M160.1,41.8h1.8M160.1,39.5h1.8M160.1,37.3h1.8M160.1,35.0h1.8M160.1,32.8h1.8M160.1,30.5h1.8M160.1,28.2h1.8M160.1,26.0h1.8M161.9,114.2v1.8M164.6,114.2v1.8M167.3,114.2v1.8M170.0,114.2v1.8M172.8,114.2v1.8M175.5,114.2v1.8M178.2,114.2v1.8M180.9,114.2v1.8M183.6,114.2v1.8M186.3,114.2v1.8M189.1,114.2v1.8M191.8,114.2v1.8M194.5,114.2v1.8M197.2,114.2v1.8M199.9,114.2v1.8M202.6,114.2v1.8M205.3,114.2v1.8M208.1,114.2v1.8M210.8,114.2v1.8M213.5,114.2v1.8M216.2,114.2v1.8M218.9,114.2v1.8M221.6,114.2v1.8M224.3,114.2v1.8M227.1,114.2v1.8M229.8,114.2v1.8M232.5,114.2v1.8M235.2,114.2v1.8M237.9,114.2v1.8M240.6,114.2v1.8M243.4,114.2v1.8M246.1,114.2v1.8M248.8,114.2v1.8M251.5,114.2v1.8M254.2,114.2v1.8M256.9,114.2v1.8M259.6,114.2v1.8M262.4,114.2v1.8M265.1,114.2v1.8M267.8,114.2v1.8" stroke="#000" stroke-width="0.8"/>
<rect x="103.4" y="36.8" width="39.8" height="22.1" fill="none" stroke="#000" stroke-width="1.5"/>
<rect x="223.4" y="37.1" width="39.5" height="21.4" fill="none" stroke="#000" stroke-width="1.5"/>
</svg></body></html>
